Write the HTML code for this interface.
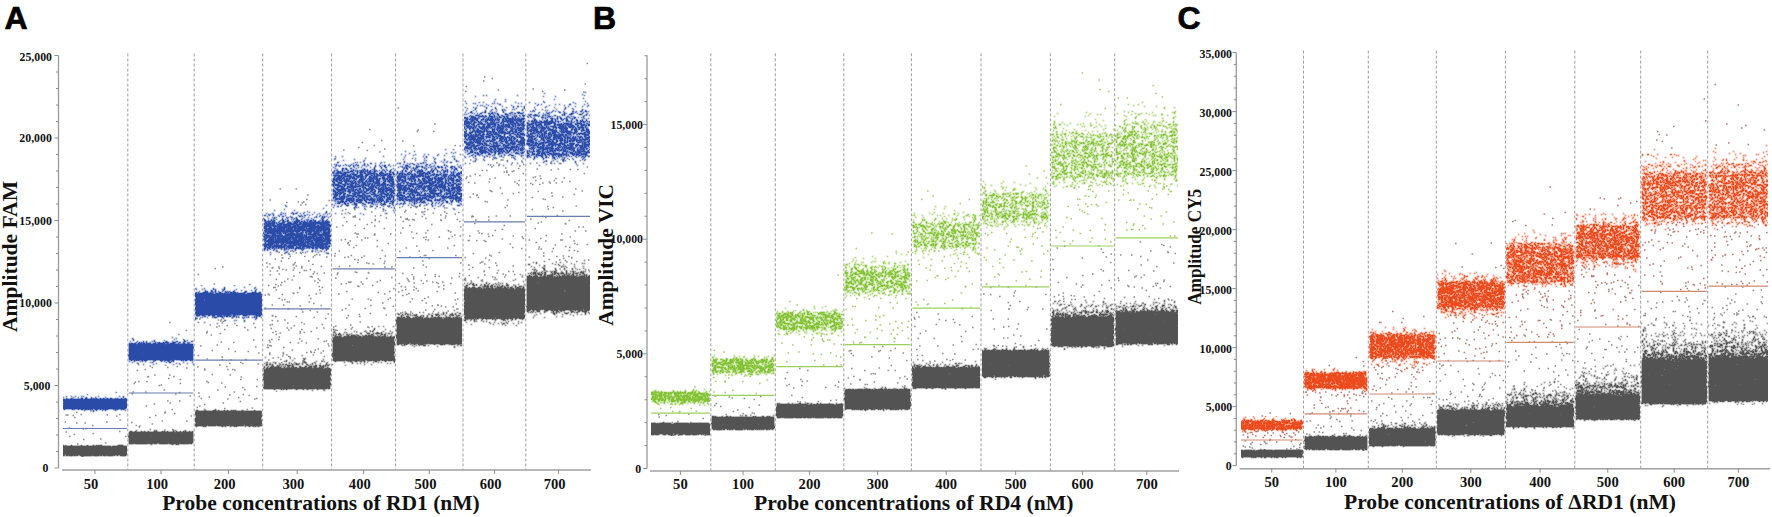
<!DOCTYPE html>
<html><head><meta charset="utf-8"><title>ddPCR amplitude plots</title>
<style>
html,body{margin:0;padding:0;background:#fff;width:1772px;height:517px;overflow:hidden}
svg{display:block}
.xl{font-family:"Liberation Serif",serif;font-weight:bold;font-size:14.6px;fill:#111}
.yl{font-family:"Liberation Serif",serif;font-weight:bold;font-size:11.8px;fill:#111}
.xt{font-family:"Liberation Serif",serif;font-weight:bold;font-size:21px;fill:#111}
.yt{font-family:"Liberation Serif",serif;font-weight:bold;font-size:21px;fill:#111}
.letter{font-family:"Liberation Sans",sans-serif;font-weight:bold;font-size:32px;fill:#000;stroke:#000;stroke-width:0.7px}
</style></head><body>
<svg width="1772" height="517" viewBox="0 0 1772 517"><defs><filter id="fG" x="0" y="0" width="1" height="1" color-interpolation-filters="sRGB"><feTurbulence type="fractalNoise" baseFrequency="0.9" numOctaves="1" seed="3" result="t"/><feColorMatrix in="t" type="matrix" values="0 0 0 0 0 0 0 0 0 0 0 0 0 0 0 1 0 0 0 0" result="n"/><feComponentTransfer in="n" result="n2"><feFuncA type="linear" slope="2.2" intercept="-0.6"/></feComponentTransfer><feComposite in="SourceAlpha" in2="n2" operator="arithmetic" k2="1.05" k3="-1" k4="0.49" result="d"/><feComponentTransfer in="d" result="m"><feFuncA type="discrete" tableValues="0 1"/></feComponentTransfer><feConvolveMatrix in="m" order="3" kernelMatrix="1 2 1 2 6 2 1 2 1" divisor="10" edgeMode="none" result="m2"/><feFlood flood-color="#535353"/><feComposite in2="m2" operator="in"/></filter>
<filter id="fA" x="0" y="0" width="1" height="1" color-interpolation-filters="sRGB"><feTurbulence type="fractalNoise" baseFrequency="0.9" numOctaves="1" seed="9" result="t"/><feColorMatrix in="t" type="matrix" values="0 0 0 0 0 0 0 0 0 0 0 0 0 0 0 1 0 0 0 0" result="n"/><feComponentTransfer in="n" result="n2"><feFuncA type="linear" slope="2.2" intercept="-0.6"/></feComponentTransfer><feComposite in="SourceAlpha" in2="n2" operator="arithmetic" k2="1.05" k3="-1" k4="0.49" result="d"/><feComponentTransfer in="d" result="m"><feFuncA type="discrete" tableValues="0 1"/></feComponentTransfer><feConvolveMatrix in="m" order="3" kernelMatrix="1 2 1 2 6 2 1 2 1" divisor="10" edgeMode="none" result="m2"/><feFlood flood-color="#2a4ca8"/><feComposite in2="m2" operator="in"/></filter>
<filter id="fB" x="0" y="0" width="1" height="1" color-interpolation-filters="sRGB"><feTurbulence type="fractalNoise" baseFrequency="0.9" numOctaves="1" seed="9" result="t"/><feColorMatrix in="t" type="matrix" values="0 0 0 0 0 0 0 0 0 0 0 0 0 0 0 1 0 0 0 0" result="n"/><feComponentTransfer in="n" result="n2"><feFuncA type="linear" slope="2.2" intercept="-0.6"/></feComponentTransfer><feComposite in="SourceAlpha" in2="n2" operator="arithmetic" k2="1.05" k3="-1" k4="0.49" result="d"/><feComponentTransfer in="d" result="m"><feFuncA type="discrete" tableValues="0 1"/></feComponentTransfer><feConvolveMatrix in="m" order="3" kernelMatrix="1 2 1 2 6 2 1 2 1" divisor="10" edgeMode="none" result="m2"/><feFlood flood-color="#82c232"/><feComposite in2="m2" operator="in"/></filter>
<filter id="fC" x="0" y="0" width="1" height="1" color-interpolation-filters="sRGB"><feTurbulence type="fractalNoise" baseFrequency="0.9" numOctaves="1" seed="9" result="t"/><feColorMatrix in="t" type="matrix" values="0 0 0 0 0 0 0 0 0 0 0 0 0 0 0 1 0 0 0 0" result="n"/><feComponentTransfer in="n" result="n2"><feFuncA type="linear" slope="2.2" intercept="-0.6"/></feComponentTransfer><feComposite in="SourceAlpha" in2="n2" operator="arithmetic" k2="1.05" k3="-1" k4="0.49" result="d"/><feComponentTransfer in="d" result="m"><feFuncA type="discrete" tableValues="0 1"/></feComponentTransfer><feConvolveMatrix in="m" order="3" kernelMatrix="1 2 1 2 6 2 1 2 1" divisor="10" edgeMode="none" result="m2"/><feFlood flood-color="#ea4a1c"/><feComposite in2="m2" operator="in"/></filter>
<linearGradient id="g1" x1="0" y1="0" x2="0" y2="1"><stop offset="0" stop-opacity="0.01"/><stop offset="0.03" stop-opacity="0.06"/><stop offset="0.05" stop-opacity="0.17"/><stop offset="0.07" stop-opacity="0.35"/><stop offset="0.1" stop-opacity="0.85"/><stop offset="0.12" stop-opacity="0.85"/><stop offset="0.15" stop-opacity="0.85"/><stop offset="0.17" stop-opacity="0.85"/><stop offset="0.2" stop-opacity="0.85"/><stop offset="0.23" stop-opacity="0.85"/><stop offset="0.25" stop-opacity="0.85"/><stop offset="0.28" stop-opacity="0.85"/><stop offset="0.3" stop-opacity="0.85"/><stop offset="0.33" stop-opacity="0.85"/><stop offset="0.35" stop-opacity="0.85"/><stop offset="0.38" stop-opacity="0.85"/><stop offset="0.4" stop-opacity="0.85"/><stop offset="0.42" stop-opacity="0.85"/><stop offset="0.45" stop-opacity="0.85"/><stop offset="0.47" stop-opacity="0.85"/><stop offset="0.5" stop-opacity="0.85"/><stop offset="0.53" stop-opacity="0.85"/><stop offset="0.55" stop-opacity="0.85"/><stop offset="0.57" stop-opacity="0.85"/><stop offset="0.6" stop-opacity="0.85"/><stop offset="0.62" stop-opacity="0.85"/><stop offset="0.65" stop-opacity="0.85"/><stop offset="0.68" stop-opacity="0.85"/><stop offset="0.7" stop-opacity="0.85"/><stop offset="0.72" stop-opacity="0.85"/><stop offset="0.75" stop-opacity="0.85"/><stop offset="0.78" stop-opacity="0.85"/><stop offset="0.8" stop-opacity="0.85"/><stop offset="0.82" stop-opacity="0.85"/><stop offset="0.85" stop-opacity="0.85"/><stop offset="0.88" stop-opacity="0.85"/><stop offset="0.9" stop-opacity="0.85"/><stop offset="0.93" stop-opacity="0.41"/><stop offset="0.95" stop-opacity="0.2"/><stop offset="0.97" stop-opacity="0.07"/><stop offset="1" stop-opacity="0.01"/></linearGradient>
<linearGradient id="g2" x1="0" y1="0" x2="0" y2="1"><stop offset="0" stop-opacity="0.01"/><stop offset="0.03" stop-opacity="0.03"/><stop offset="0.05" stop-opacity="0.05"/><stop offset="0.07" stop-opacity="0.07"/><stop offset="0.1" stop-opacity="0.11"/><stop offset="0.12" stop-opacity="0.15"/><stop offset="0.15" stop-opacity="0.19"/><stop offset="0.17" stop-opacity="0.24"/><stop offset="0.2" stop-opacity="0.29"/><stop offset="0.23" stop-opacity="0.35"/><stop offset="0.25" stop-opacity="0.41"/><stop offset="0.28" stop-opacity="0.5"/><stop offset="0.3" stop-opacity="0.85"/><stop offset="0.33" stop-opacity="0.85"/><stop offset="0.35" stop-opacity="0.85"/><stop offset="0.38" stop-opacity="0.85"/><stop offset="0.4" stop-opacity="0.85"/><stop offset="0.42" stop-opacity="0.85"/><stop offset="0.45" stop-opacity="0.85"/><stop offset="0.47" stop-opacity="0.85"/><stop offset="0.5" stop-opacity="0.85"/><stop offset="0.53" stop-opacity="0.85"/><stop offset="0.55" stop-opacity="0.85"/><stop offset="0.57" stop-opacity="0.85"/><stop offset="0.6" stop-opacity="0.85"/><stop offset="0.62" stop-opacity="0.85"/><stop offset="0.65" stop-opacity="0.85"/><stop offset="0.68" stop-opacity="0.85"/><stop offset="0.7" stop-opacity="0.85"/><stop offset="0.72" stop-opacity="0.85"/><stop offset="0.75" stop-opacity="0.85"/><stop offset="0.78" stop-opacity="0.85"/><stop offset="0.8" stop-opacity="0.85"/><stop offset="0.82" stop-opacity="0.85"/><stop offset="0.85" stop-opacity="0.43"/><stop offset="0.88" stop-opacity="0.32"/><stop offset="0.9" stop-opacity="0.21"/><stop offset="0.93" stop-opacity="0.15"/><stop offset="0.95" stop-opacity="0.08"/><stop offset="0.97" stop-opacity="0.04"/><stop offset="1" stop-opacity="0.01"/></linearGradient>
<linearGradient id="g3" x1="0" y1="0" x2="0" y2="1"><stop offset="0" stop-opacity="0.01"/><stop offset="0.03" stop-opacity="0.03"/><stop offset="0.05" stop-opacity="0.05"/><stop offset="0.07" stop-opacity="0.09"/><stop offset="0.1" stop-opacity="0.14"/><stop offset="0.12" stop-opacity="0.18"/><stop offset="0.15" stop-opacity="0.24"/><stop offset="0.17" stop-opacity="0.31"/><stop offset="0.2" stop-opacity="0.39"/><stop offset="0.23" stop-opacity="0.49"/><stop offset="0.25" stop-opacity="0.85"/><stop offset="0.28" stop-opacity="0.85"/><stop offset="0.3" stop-opacity="0.85"/><stop offset="0.33" stop-opacity="0.85"/><stop offset="0.35" stop-opacity="0.85"/><stop offset="0.38" stop-opacity="0.85"/><stop offset="0.4" stop-opacity="0.85"/><stop offset="0.42" stop-opacity="0.85"/><stop offset="0.45" stop-opacity="0.85"/><stop offset="0.47" stop-opacity="0.85"/><stop offset="0.5" stop-opacity="0.85"/><stop offset="0.53" stop-opacity="0.85"/><stop offset="0.55" stop-opacity="0.85"/><stop offset="0.57" stop-opacity="0.85"/><stop offset="0.6" stop-opacity="0.85"/><stop offset="0.62" stop-opacity="0.85"/><stop offset="0.65" stop-opacity="0.85"/><stop offset="0.68" stop-opacity="0.85"/><stop offset="0.7" stop-opacity="0.85"/><stop offset="0.72" stop-opacity="0.85"/><stop offset="0.75" stop-opacity="0.85"/><stop offset="0.78" stop-opacity="0.85"/><stop offset="0.8" stop-opacity="0.85"/><stop offset="0.82" stop-opacity="0.85"/><stop offset="0.85" stop-opacity="0.85"/><stop offset="0.88" stop-opacity="0.85"/><stop offset="0.9" stop-opacity="0.85"/><stop offset="0.93" stop-opacity="0.47"/><stop offset="0.95" stop-opacity="0.21"/><stop offset="0.97" stop-opacity="0.08"/><stop offset="1" stop-opacity="0.01"/></linearGradient>
<linearGradient id="g4" x1="0" y1="0" x2="0" y2="1"><stop offset="0" stop-opacity="0.01"/><stop offset="0.03" stop-opacity="0.03"/><stop offset="0.05" stop-opacity="0.05"/><stop offset="0.07" stop-opacity="0.08"/><stop offset="0.1" stop-opacity="0.11"/><stop offset="0.12" stop-opacity="0.16"/><stop offset="0.15" stop-opacity="0.2"/><stop offset="0.17" stop-opacity="0.26"/><stop offset="0.2" stop-opacity="0.32"/><stop offset="0.23" stop-opacity="0.38"/><stop offset="0.25" stop-opacity="0.46"/><stop offset="0.28" stop-opacity="0.63"/><stop offset="0.3" stop-opacity="0.85"/><stop offset="0.33" stop-opacity="0.85"/><stop offset="0.35" stop-opacity="0.85"/><stop offset="0.38" stop-opacity="0.85"/><stop offset="0.4" stop-opacity="0.85"/><stop offset="0.42" stop-opacity="0.85"/><stop offset="0.45" stop-opacity="0.85"/><stop offset="0.47" stop-opacity="0.85"/><stop offset="0.5" stop-opacity="0.85"/><stop offset="0.53" stop-opacity="0.85"/><stop offset="0.55" stop-opacity="0.85"/><stop offset="0.57" stop-opacity="0.85"/><stop offset="0.6" stop-opacity="0.85"/><stop offset="0.62" stop-opacity="0.85"/><stop offset="0.65" stop-opacity="0.85"/><stop offset="0.68" stop-opacity="0.85"/><stop offset="0.7" stop-opacity="0.85"/><stop offset="0.72" stop-opacity="0.85"/><stop offset="0.75" stop-opacity="0.85"/><stop offset="0.78" stop-opacity="0.85"/><stop offset="0.8" stop-opacity="0.85"/><stop offset="0.82" stop-opacity="0.44"/><stop offset="0.85" stop-opacity="0.34"/><stop offset="0.88" stop-opacity="0.26"/><stop offset="0.9" stop-opacity="0.18"/><stop offset="0.93" stop-opacity="0.12"/><stop offset="0.95" stop-opacity="0.07"/><stop offset="0.97" stop-opacity="0.04"/><stop offset="1" stop-opacity="0.01"/></linearGradient>
<linearGradient id="g5" x1="0" y1="0" x2="0" y2="1"><stop offset="0" stop-opacity="0.01"/><stop offset="0.03" stop-opacity="0.04"/><stop offset="0.05" stop-opacity="0.1"/><stop offset="0.07" stop-opacity="0.18"/><stop offset="0.1" stop-opacity="0.28"/><stop offset="0.12" stop-opacity="0.42"/><stop offset="0.15" stop-opacity="0.85"/><stop offset="0.17" stop-opacity="0.85"/><stop offset="0.2" stop-opacity="0.85"/><stop offset="0.23" stop-opacity="0.85"/><stop offset="0.25" stop-opacity="0.85"/><stop offset="0.28" stop-opacity="0.85"/><stop offset="0.3" stop-opacity="0.85"/><stop offset="0.33" stop-opacity="0.85"/><stop offset="0.35" stop-opacity="0.85"/><stop offset="0.38" stop-opacity="0.85"/><stop offset="0.4" stop-opacity="0.85"/><stop offset="0.42" stop-opacity="0.85"/><stop offset="0.45" stop-opacity="0.85"/><stop offset="0.47" stop-opacity="0.85"/><stop offset="0.5" stop-opacity="0.85"/><stop offset="0.53" stop-opacity="0.85"/><stop offset="0.55" stop-opacity="0.85"/><stop offset="0.57" stop-opacity="0.85"/><stop offset="0.6" stop-opacity="0.85"/><stop offset="0.62" stop-opacity="0.85"/><stop offset="0.65" stop-opacity="0.85"/><stop offset="0.68" stop-opacity="0.85"/><stop offset="0.7" stop-opacity="0.85"/><stop offset="0.72" stop-opacity="0.85"/><stop offset="0.75" stop-opacity="0.85"/><stop offset="0.78" stop-opacity="0.85"/><stop offset="0.8" stop-opacity="0.85"/><stop offset="0.82" stop-opacity="0.85"/><stop offset="0.85" stop-opacity="0.85"/><stop offset="0.88" stop-opacity="0.85"/><stop offset="0.9" stop-opacity="0.85"/><stop offset="0.93" stop-opacity="0.46"/><stop offset="0.95" stop-opacity="0.21"/><stop offset="0.97" stop-opacity="0.08"/><stop offset="1" stop-opacity="0.01"/></linearGradient>
<linearGradient id="g6" x1="0" y1="0" x2="0" y2="1"><stop offset="0" stop-opacity="0.01"/><stop offset="0.03" stop-opacity="0.03"/><stop offset="0.05" stop-opacity="0.06"/><stop offset="0.07" stop-opacity="0.1"/><stop offset="0.1" stop-opacity="0.16"/><stop offset="0.12" stop-opacity="0.21"/><stop offset="0.15" stop-opacity="0.29"/><stop offset="0.17" stop-opacity="0.37"/><stop offset="0.2" stop-opacity="0.48"/><stop offset="0.23" stop-opacity="0.85"/><stop offset="0.25" stop-opacity="0.85"/><stop offset="0.28" stop-opacity="0.85"/><stop offset="0.3" stop-opacity="0.85"/><stop offset="0.33" stop-opacity="0.85"/><stop offset="0.35" stop-opacity="0.85"/><stop offset="0.38" stop-opacity="0.85"/><stop offset="0.4" stop-opacity="0.85"/><stop offset="0.42" stop-opacity="0.85"/><stop offset="0.45" stop-opacity="0.85"/><stop offset="0.47" stop-opacity="0.85"/><stop offset="0.5" stop-opacity="0.85"/><stop offset="0.53" stop-opacity="0.85"/><stop offset="0.55" stop-opacity="0.85"/><stop offset="0.57" stop-opacity="0.85"/><stop offset="0.6" stop-opacity="0.85"/><stop offset="0.62" stop-opacity="0.85"/><stop offset="0.65" stop-opacity="0.85"/><stop offset="0.68" stop-opacity="0.85"/><stop offset="0.7" stop-opacity="0.85"/><stop offset="0.72" stop-opacity="0.85"/><stop offset="0.75" stop-opacity="0.85"/><stop offset="0.78" stop-opacity="0.45"/><stop offset="0.8" stop-opacity="0.37"/><stop offset="0.82" stop-opacity="0.3"/><stop offset="0.85" stop-opacity="0.24"/><stop offset="0.88" stop-opacity="0.18"/><stop offset="0.9" stop-opacity="0.14"/><stop offset="0.93" stop-opacity="0.09"/><stop offset="0.95" stop-opacity="0.05"/><stop offset="0.97" stop-opacity="0.03"/><stop offset="1" stop-opacity="0.01"/></linearGradient>
<linearGradient id="g7" x1="0" y1="0" x2="0" y2="1"><stop offset="0" stop-opacity="0.01"/><stop offset="0.03" stop-opacity="0.02"/><stop offset="0.05" stop-opacity="0.04"/><stop offset="0.07" stop-opacity="0.06"/><stop offset="0.1" stop-opacity="0.09"/><stop offset="0.12" stop-opacity="0.11"/><stop offset="0.15" stop-opacity="0.15"/><stop offset="0.17" stop-opacity="0.18"/><stop offset="0.2" stop-opacity="0.22"/><stop offset="0.23" stop-opacity="0.27"/><stop offset="0.25" stop-opacity="0.31"/><stop offset="0.28" stop-opacity="0.36"/><stop offset="0.3" stop-opacity="0.41"/><stop offset="0.33" stop-opacity="0.47"/><stop offset="0.35" stop-opacity="0.57"/><stop offset="0.38" stop-opacity="0.85"/><stop offset="0.4" stop-opacity="0.85"/><stop offset="0.42" stop-opacity="0.85"/><stop offset="0.45" stop-opacity="0.85"/><stop offset="0.47" stop-opacity="0.85"/><stop offset="0.5" stop-opacity="0.85"/><stop offset="0.53" stop-opacity="0.85"/><stop offset="0.55" stop-opacity="0.85"/><stop offset="0.57" stop-opacity="0.85"/><stop offset="0.6" stop-opacity="0.85"/><stop offset="0.62" stop-opacity="0.85"/><stop offset="0.65" stop-opacity="0.85"/><stop offset="0.68" stop-opacity="0.85"/><stop offset="0.7" stop-opacity="0.85"/><stop offset="0.72" stop-opacity="0.85"/><stop offset="0.75" stop-opacity="0.85"/><stop offset="0.78" stop-opacity="0.85"/><stop offset="0.8" stop-opacity="0.85"/><stop offset="0.82" stop-opacity="0.85"/><stop offset="0.85" stop-opacity="0.85"/><stop offset="0.88" stop-opacity="0.85"/><stop offset="0.9" stop-opacity="0.85"/><stop offset="0.93" stop-opacity="0.37"/><stop offset="0.95" stop-opacity="0.18"/><stop offset="0.97" stop-opacity="0.07"/><stop offset="1" stop-opacity="0.01"/></linearGradient>
<linearGradient id="g8" x1="0" y1="0" x2="0" y2="1"><stop offset="0" stop-opacity="0.01"/><stop offset="0.03" stop-opacity="0.02"/><stop offset="0.05" stop-opacity="0.04"/><stop offset="0.07" stop-opacity="0.06"/><stop offset="0.1" stop-opacity="0.09"/><stop offset="0.12" stop-opacity="0.12"/><stop offset="0.15" stop-opacity="0.15"/><stop offset="0.17" stop-opacity="0.19"/><stop offset="0.2" stop-opacity="0.23"/><stop offset="0.23" stop-opacity="0.28"/><stop offset="0.25" stop-opacity="0.32"/><stop offset="0.28" stop-opacity="0.37"/><stop offset="0.3" stop-opacity="0.42"/><stop offset="0.33" stop-opacity="0.48"/><stop offset="0.35" stop-opacity="0.59"/><stop offset="0.38" stop-opacity="0.59"/><stop offset="0.4" stop-opacity="0.59"/><stop offset="0.42" stop-opacity="0.59"/><stop offset="0.45" stop-opacity="0.59"/><stop offset="0.47" stop-opacity="0.59"/><stop offset="0.5" stop-opacity="0.59"/><stop offset="0.53" stop-opacity="0.59"/><stop offset="0.55" stop-opacity="0.59"/><stop offset="0.57" stop-opacity="0.59"/><stop offset="0.6" stop-opacity="0.59"/><stop offset="0.62" stop-opacity="0.59"/><stop offset="0.65" stop-opacity="0.59"/><stop offset="0.68" stop-opacity="0.59"/><stop offset="0.7" stop-opacity="0.59"/><stop offset="0.72" stop-opacity="0.59"/><stop offset="0.75" stop-opacity="0.59"/><stop offset="0.78" stop-opacity="0.59"/><stop offset="0.8" stop-opacity="0.59"/><stop offset="0.82" stop-opacity="0.54"/><stop offset="0.85" stop-opacity="0.39"/><stop offset="0.88" stop-opacity="0.29"/><stop offset="0.9" stop-opacity="0.2"/><stop offset="0.93" stop-opacity="0.13"/><stop offset="0.95" stop-opacity="0.07"/><stop offset="0.97" stop-opacity="0.04"/><stop offset="1" stop-opacity="0.01"/></linearGradient>
<linearGradient id="g9" x1="0" y1="0" x2="0" y2="1"><stop offset="0" stop-opacity="0.01"/><stop offset="0.03" stop-opacity="0.03"/><stop offset="0.05" stop-opacity="0.05"/><stop offset="0.07" stop-opacity="0.08"/><stop offset="0.1" stop-opacity="0.11"/><stop offset="0.12" stop-opacity="0.15"/><stop offset="0.15" stop-opacity="0.2"/><stop offset="0.17" stop-opacity="0.25"/><stop offset="0.2" stop-opacity="0.31"/><stop offset="0.23" stop-opacity="0.37"/><stop offset="0.25" stop-opacity="0.43"/><stop offset="0.28" stop-opacity="0.56"/><stop offset="0.3" stop-opacity="0.85"/><stop offset="0.33" stop-opacity="0.85"/><stop offset="0.35" stop-opacity="0.85"/><stop offset="0.38" stop-opacity="0.85"/><stop offset="0.4" stop-opacity="0.85"/><stop offset="0.42" stop-opacity="0.85"/><stop offset="0.45" stop-opacity="0.85"/><stop offset="0.47" stop-opacity="0.85"/><stop offset="0.5" stop-opacity="0.85"/><stop offset="0.53" stop-opacity="0.85"/><stop offset="0.55" stop-opacity="0.85"/><stop offset="0.57" stop-opacity="0.85"/><stop offset="0.6" stop-opacity="0.85"/><stop offset="0.62" stop-opacity="0.85"/><stop offset="0.65" stop-opacity="0.85"/><stop offset="0.68" stop-opacity="0.85"/><stop offset="0.7" stop-opacity="0.85"/><stop offset="0.72" stop-opacity="0.85"/><stop offset="0.75" stop-opacity="0.85"/><stop offset="0.78" stop-opacity="0.85"/><stop offset="0.8" stop-opacity="0.85"/><stop offset="0.82" stop-opacity="0.85"/><stop offset="0.85" stop-opacity="0.85"/><stop offset="0.88" stop-opacity="0.39"/><stop offset="0.9" stop-opacity="0.27"/><stop offset="0.93" stop-opacity="0.17"/><stop offset="0.95" stop-opacity="0.09"/><stop offset="0.97" stop-opacity="0.04"/><stop offset="1" stop-opacity="0.01"/></linearGradient>
<linearGradient id="g10" x1="0" y1="0" x2="0" y2="1"><stop offset="0" stop-opacity="0.01"/><stop offset="0.03" stop-opacity="0.02"/><stop offset="0.05" stop-opacity="0.04"/><stop offset="0.07" stop-opacity="0.06"/><stop offset="0.1" stop-opacity="0.1"/><stop offset="0.12" stop-opacity="0.14"/><stop offset="0.15" stop-opacity="0.18"/><stop offset="0.17" stop-opacity="0.22"/><stop offset="0.2" stop-opacity="0.28"/><stop offset="0.23" stop-opacity="0.34"/><stop offset="0.25" stop-opacity="0.39"/><stop offset="0.28" stop-opacity="0.46"/><stop offset="0.3" stop-opacity="0.49"/><stop offset="0.33" stop-opacity="0.49"/><stop offset="0.35" stop-opacity="0.49"/><stop offset="0.38" stop-opacity="0.49"/><stop offset="0.4" stop-opacity="0.49"/><stop offset="0.42" stop-opacity="0.49"/><stop offset="0.45" stop-opacity="0.49"/><stop offset="0.47" stop-opacity="0.49"/><stop offset="0.5" stop-opacity="0.49"/><stop offset="0.53" stop-opacity="0.49"/><stop offset="0.55" stop-opacity="0.49"/><stop offset="0.57" stop-opacity="0.49"/><stop offset="0.6" stop-opacity="0.49"/><stop offset="0.62" stop-opacity="0.49"/><stop offset="0.65" stop-opacity="0.49"/><stop offset="0.68" stop-opacity="0.49"/><stop offset="0.7" stop-opacity="0.49"/><stop offset="0.72" stop-opacity="0.49"/><stop offset="0.75" stop-opacity="0.49"/><stop offset="0.78" stop-opacity="0.46"/><stop offset="0.8" stop-opacity="0.38"/><stop offset="0.82" stop-opacity="0.3"/><stop offset="0.85" stop-opacity="0.24"/><stop offset="0.88" stop-opacity="0.18"/><stop offset="0.9" stop-opacity="0.13"/><stop offset="0.93" stop-opacity="0.08"/><stop offset="0.95" stop-opacity="0.05"/><stop offset="0.97" stop-opacity="0.02"/><stop offset="1" stop-opacity="0.01"/></linearGradient>
<linearGradient id="g11" x1="0" y1="0" x2="0" y2="1"><stop offset="0" stop-opacity="0.01"/><stop offset="0.03" stop-opacity="0.03"/><stop offset="0.05" stop-opacity="0.05"/><stop offset="0.07" stop-opacity="0.08"/><stop offset="0.1" stop-opacity="0.11"/><stop offset="0.12" stop-opacity="0.16"/><stop offset="0.15" stop-opacity="0.2"/><stop offset="0.17" stop-opacity="0.26"/><stop offset="0.2" stop-opacity="0.32"/><stop offset="0.23" stop-opacity="0.38"/><stop offset="0.25" stop-opacity="0.46"/><stop offset="0.28" stop-opacity="0.66"/><stop offset="0.3" stop-opacity="0.85"/><stop offset="0.33" stop-opacity="0.85"/><stop offset="0.35" stop-opacity="0.85"/><stop offset="0.38" stop-opacity="0.85"/><stop offset="0.4" stop-opacity="0.85"/><stop offset="0.42" stop-opacity="0.85"/><stop offset="0.45" stop-opacity="0.85"/><stop offset="0.47" stop-opacity="0.85"/><stop offset="0.5" stop-opacity="0.85"/><stop offset="0.53" stop-opacity="0.85"/><stop offset="0.55" stop-opacity="0.85"/><stop offset="0.57" stop-opacity="0.85"/><stop offset="0.6" stop-opacity="0.85"/><stop offset="0.62" stop-opacity="0.85"/><stop offset="0.65" stop-opacity="0.85"/><stop offset="0.68" stop-opacity="0.85"/><stop offset="0.7" stop-opacity="0.85"/><stop offset="0.72" stop-opacity="0.85"/><stop offset="0.75" stop-opacity="0.85"/><stop offset="0.78" stop-opacity="0.85"/><stop offset="0.8" stop-opacity="0.85"/><stop offset="0.82" stop-opacity="0.85"/><stop offset="0.85" stop-opacity="0.85"/><stop offset="0.88" stop-opacity="0.85"/><stop offset="0.9" stop-opacity="0.38"/><stop offset="0.93" stop-opacity="0.23"/><stop offset="0.95" stop-opacity="0.13"/><stop offset="0.97" stop-opacity="0.05"/><stop offset="1" stop-opacity="0.01"/></linearGradient>
<linearGradient id="g12" x1="0" y1="0" x2="0" y2="1"><stop offset="0" stop-opacity="0.01"/><stop offset="0.03" stop-opacity="0.02"/><stop offset="0.05" stop-opacity="0.03"/><stop offset="0.07" stop-opacity="0.05"/><stop offset="0.1" stop-opacity="0.07"/><stop offset="0.12" stop-opacity="0.09"/><stop offset="0.15" stop-opacity="0.12"/><stop offset="0.17" stop-opacity="0.15"/><stop offset="0.2" stop-opacity="0.18"/><stop offset="0.23" stop-opacity="0.21"/><stop offset="0.25" stop-opacity="0.26"/><stop offset="0.28" stop-opacity="0.29"/><stop offset="0.3" stop-opacity="0.34"/><stop offset="0.33" stop-opacity="0.37"/><stop offset="0.35" stop-opacity="0.41"/><stop offset="0.38" stop-opacity="0.45"/><stop offset="0.4" stop-opacity="0.49"/><stop offset="0.42" stop-opacity="0.49"/><stop offset="0.45" stop-opacity="0.49"/><stop offset="0.47" stop-opacity="0.49"/><stop offset="0.5" stop-opacity="0.49"/><stop offset="0.53" stop-opacity="0.49"/><stop offset="0.55" stop-opacity="0.49"/><stop offset="0.57" stop-opacity="0.49"/><stop offset="0.6" stop-opacity="0.49"/><stop offset="0.62" stop-opacity="0.49"/><stop offset="0.65" stop-opacity="0.49"/><stop offset="0.68" stop-opacity="0.49"/><stop offset="0.7" stop-opacity="0.49"/><stop offset="0.72" stop-opacity="0.49"/><stop offset="0.75" stop-opacity="0.49"/><stop offset="0.78" stop-opacity="0.49"/><stop offset="0.8" stop-opacity="0.49"/><stop offset="0.82" stop-opacity="0.4"/><stop offset="0.85" stop-opacity="0.31"/><stop offset="0.88" stop-opacity="0.23"/><stop offset="0.9" stop-opacity="0.16"/><stop offset="0.93" stop-opacity="0.1"/><stop offset="0.95" stop-opacity="0.06"/><stop offset="0.97" stop-opacity="0.03"/><stop offset="1" stop-opacity="0.01"/></linearGradient>
<linearGradient id="g13" x1="0" y1="0" x2="0" y2="1"><stop offset="0" stop-opacity="0.01"/><stop offset="0.03" stop-opacity="0.03"/><stop offset="0.05" stop-opacity="0.05"/><stop offset="0.07" stop-opacity="0.08"/><stop offset="0.1" stop-opacity="0.11"/><stop offset="0.12" stop-opacity="0.16"/><stop offset="0.15" stop-opacity="0.2"/><stop offset="0.17" stop-opacity="0.26"/><stop offset="0.2" stop-opacity="0.32"/><stop offset="0.23" stop-opacity="0.38"/><stop offset="0.25" stop-opacity="0.45"/><stop offset="0.28" stop-opacity="0.62"/><stop offset="0.3" stop-opacity="0.85"/><stop offset="0.33" stop-opacity="0.85"/><stop offset="0.35" stop-opacity="0.85"/><stop offset="0.38" stop-opacity="0.85"/><stop offset="0.4" stop-opacity="0.85"/><stop offset="0.42" stop-opacity="0.85"/><stop offset="0.45" stop-opacity="0.85"/><stop offset="0.47" stop-opacity="0.85"/><stop offset="0.5" stop-opacity="0.85"/><stop offset="0.53" stop-opacity="0.85"/><stop offset="0.55" stop-opacity="0.85"/><stop offset="0.57" stop-opacity="0.85"/><stop offset="0.6" stop-opacity="0.85"/><stop offset="0.62" stop-opacity="0.85"/><stop offset="0.65" stop-opacity="0.85"/><stop offset="0.68" stop-opacity="0.85"/><stop offset="0.7" stop-opacity="0.85"/><stop offset="0.72" stop-opacity="0.85"/><stop offset="0.75" stop-opacity="0.85"/><stop offset="0.78" stop-opacity="0.85"/><stop offset="0.8" stop-opacity="0.85"/><stop offset="0.82" stop-opacity="0.73"/><stop offset="0.85" stop-opacity="0.41"/><stop offset="0.88" stop-opacity="0.3"/><stop offset="0.9" stop-opacity="0.2"/><stop offset="0.93" stop-opacity="0.14"/><stop offset="0.95" stop-opacity="0.08"/><stop offset="0.97" stop-opacity="0.04"/><stop offset="1" stop-opacity="0.01"/></linearGradient>
<linearGradient id="g14" x1="0" y1="0" x2="0" y2="1"><stop offset="0" stop-opacity="0.01"/><stop offset="0.03" stop-opacity="0.02"/><stop offset="0.05" stop-opacity="0.03"/><stop offset="0.07" stop-opacity="0.05"/><stop offset="0.1" stop-opacity="0.08"/><stop offset="0.12" stop-opacity="0.11"/><stop offset="0.15" stop-opacity="0.14"/><stop offset="0.17" stop-opacity="0.17"/><stop offset="0.2" stop-opacity="0.21"/><stop offset="0.23" stop-opacity="0.26"/><stop offset="0.25" stop-opacity="0.3"/><stop offset="0.28" stop-opacity="0.35"/><stop offset="0.3" stop-opacity="0.39"/><stop offset="0.33" stop-opacity="0.44"/><stop offset="0.35" stop-opacity="0.49"/><stop offset="0.38" stop-opacity="0.49"/><stop offset="0.4" stop-opacity="0.49"/><stop offset="0.42" stop-opacity="0.49"/><stop offset="0.45" stop-opacity="0.49"/><stop offset="0.47" stop-opacity="0.49"/><stop offset="0.5" stop-opacity="0.49"/><stop offset="0.53" stop-opacity="0.49"/><stop offset="0.55" stop-opacity="0.49"/><stop offset="0.57" stop-opacity="0.49"/><stop offset="0.6" stop-opacity="0.49"/><stop offset="0.62" stop-opacity="0.49"/><stop offset="0.65" stop-opacity="0.49"/><stop offset="0.68" stop-opacity="0.49"/><stop offset="0.7" stop-opacity="0.49"/><stop offset="0.72" stop-opacity="0.49"/><stop offset="0.75" stop-opacity="0.49"/><stop offset="0.78" stop-opacity="0.49"/><stop offset="0.8" stop-opacity="0.49"/><stop offset="0.82" stop-opacity="0.4"/><stop offset="0.85" stop-opacity="0.31"/><stop offset="0.88" stop-opacity="0.23"/><stop offset="0.9" stop-opacity="0.16"/><stop offset="0.93" stop-opacity="0.1"/><stop offset="0.95" stop-opacity="0.06"/><stop offset="0.97" stop-opacity="0.03"/><stop offset="1" stop-opacity="0.01"/></linearGradient>
<linearGradient id="g15" x1="0" y1="0" x2="0" y2="1"><stop offset="0" stop-opacity="0.01"/><stop offset="0.03" stop-opacity="0.03"/><stop offset="0.05" stop-opacity="0.05"/><stop offset="0.07" stop-opacity="0.07"/><stop offset="0.1" stop-opacity="0.1"/><stop offset="0.12" stop-opacity="0.14"/><stop offset="0.15" stop-opacity="0.18"/><stop offset="0.17" stop-opacity="0.22"/><stop offset="0.2" stop-opacity="0.28"/><stop offset="0.23" stop-opacity="0.34"/><stop offset="0.25" stop-opacity="0.39"/><stop offset="0.28" stop-opacity="0.46"/><stop offset="0.3" stop-opacity="0.59"/><stop offset="0.33" stop-opacity="0.85"/><stop offset="0.35" stop-opacity="0.85"/><stop offset="0.38" stop-opacity="0.85"/><stop offset="0.4" stop-opacity="0.85"/><stop offset="0.42" stop-opacity="0.85"/><stop offset="0.45" stop-opacity="0.85"/><stop offset="0.47" stop-opacity="0.85"/><stop offset="0.5" stop-opacity="0.85"/><stop offset="0.53" stop-opacity="0.85"/><stop offset="0.55" stop-opacity="0.85"/><stop offset="0.57" stop-opacity="0.85"/><stop offset="0.6" stop-opacity="0.85"/><stop offset="0.62" stop-opacity="0.85"/><stop offset="0.65" stop-opacity="0.85"/><stop offset="0.68" stop-opacity="0.85"/><stop offset="0.7" stop-opacity="0.85"/><stop offset="0.72" stop-opacity="0.85"/><stop offset="0.75" stop-opacity="0.85"/><stop offset="0.78" stop-opacity="0.85"/><stop offset="0.8" stop-opacity="0.85"/><stop offset="0.82" stop-opacity="0.85"/><stop offset="0.85" stop-opacity="0.44"/><stop offset="0.88" stop-opacity="0.33"/><stop offset="0.9" stop-opacity="0.22"/><stop offset="0.93" stop-opacity="0.15"/><stop offset="0.95" stop-opacity="0.09"/><stop offset="0.97" stop-opacity="0.04"/><stop offset="1" stop-opacity="0.01"/></linearGradient>
<linearGradient id="g16" x1="0" y1="0" x2="0" y2="1"><stop offset="0" stop-opacity="0.01"/><stop offset="0.03" stop-opacity="0.02"/><stop offset="0.05" stop-opacity="0.03"/><stop offset="0.07" stop-opacity="0.04"/><stop offset="0.1" stop-opacity="0.06"/><stop offset="0.12" stop-opacity="0.09"/><stop offset="0.15" stop-opacity="0.11"/><stop offset="0.17" stop-opacity="0.14"/><stop offset="0.2" stop-opacity="0.17"/><stop offset="0.23" stop-opacity="0.2"/><stop offset="0.25" stop-opacity="0.23"/><stop offset="0.28" stop-opacity="0.27"/><stop offset="0.3" stop-opacity="0.3"/><stop offset="0.33" stop-opacity="0.34"/><stop offset="0.35" stop-opacity="0.37"/><stop offset="0.38" stop-opacity="0.41"/><stop offset="0.4" stop-opacity="0.44"/><stop offset="0.42" stop-opacity="0.49"/><stop offset="0.45" stop-opacity="0.49"/><stop offset="0.47" stop-opacity="0.49"/><stop offset="0.5" stop-opacity="0.49"/><stop offset="0.53" stop-opacity="0.49"/><stop offset="0.55" stop-opacity="0.49"/><stop offset="0.57" stop-opacity="0.49"/><stop offset="0.6" stop-opacity="0.49"/><stop offset="0.62" stop-opacity="0.49"/><stop offset="0.65" stop-opacity="0.49"/><stop offset="0.68" stop-opacity="0.49"/><stop offset="0.7" stop-opacity="0.49"/><stop offset="0.72" stop-opacity="0.49"/><stop offset="0.75" stop-opacity="0.49"/><stop offset="0.78" stop-opacity="0.49"/><stop offset="0.8" stop-opacity="0.49"/><stop offset="0.82" stop-opacity="0.49"/><stop offset="0.85" stop-opacity="0.39"/><stop offset="0.88" stop-opacity="0.29"/><stop offset="0.9" stop-opacity="0.2"/><stop offset="0.93" stop-opacity="0.13"/><stop offset="0.95" stop-opacity="0.07"/><stop offset="0.97" stop-opacity="0.03"/><stop offset="1" stop-opacity="0.01"/></linearGradient>
<linearGradient id="g17" x1="0" y1="0" x2="0" y2="1"><stop offset="0" stop-opacity="0.01"/><stop offset="0.03" stop-opacity="0.05"/><stop offset="0.05" stop-opacity="0.14"/><stop offset="0.07" stop-opacity="0.27"/><stop offset="0.1" stop-opacity="0.48"/><stop offset="0.12" stop-opacity="0.85"/><stop offset="0.15" stop-opacity="0.85"/><stop offset="0.17" stop-opacity="0.85"/><stop offset="0.2" stop-opacity="0.85"/><stop offset="0.23" stop-opacity="0.85"/><stop offset="0.25" stop-opacity="0.85"/><stop offset="0.28" stop-opacity="0.85"/><stop offset="0.3" stop-opacity="0.85"/><stop offset="0.33" stop-opacity="0.85"/><stop offset="0.35" stop-opacity="0.85"/><stop offset="0.38" stop-opacity="0.85"/><stop offset="0.4" stop-opacity="0.85"/><stop offset="0.42" stop-opacity="0.85"/><stop offset="0.45" stop-opacity="0.85"/><stop offset="0.47" stop-opacity="0.85"/><stop offset="0.5" stop-opacity="0.85"/><stop offset="0.53" stop-opacity="0.85"/><stop offset="0.55" stop-opacity="0.85"/><stop offset="0.57" stop-opacity="0.85"/><stop offset="0.6" stop-opacity="0.85"/><stop offset="0.62" stop-opacity="0.85"/><stop offset="0.65" stop-opacity="0.85"/><stop offset="0.68" stop-opacity="0.85"/><stop offset="0.7" stop-opacity="0.85"/><stop offset="0.72" stop-opacity="0.85"/><stop offset="0.75" stop-opacity="0.85"/><stop offset="0.78" stop-opacity="0.85"/><stop offset="0.8" stop-opacity="0.85"/><stop offset="0.82" stop-opacity="0.85"/><stop offset="0.85" stop-opacity="0.85"/><stop offset="0.88" stop-opacity="0.85"/><stop offset="0.9" stop-opacity="0.48"/><stop offset="0.93" stop-opacity="0.27"/><stop offset="0.95" stop-opacity="0.14"/><stop offset="0.97" stop-opacity="0.05"/><stop offset="1" stop-opacity="0.01"/></linearGradient>
<linearGradient id="g18" x1="0" y1="0" x2="0" y2="1"><stop offset="0" stop-opacity="0.01"/><stop offset="0.03" stop-opacity="0.03"/><stop offset="0.05" stop-opacity="0.05"/><stop offset="0.07" stop-opacity="0.09"/><stop offset="0.1" stop-opacity="0.14"/><stop offset="0.12" stop-opacity="0.19"/><stop offset="0.15" stop-opacity="0.25"/><stop offset="0.17" stop-opacity="0.32"/><stop offset="0.2" stop-opacity="0.4"/><stop offset="0.23" stop-opacity="0.51"/><stop offset="0.25" stop-opacity="0.51"/><stop offset="0.28" stop-opacity="0.51"/><stop offset="0.3" stop-opacity="0.51"/><stop offset="0.33" stop-opacity="0.51"/><stop offset="0.35" stop-opacity="0.51"/><stop offset="0.38" stop-opacity="0.51"/><stop offset="0.4" stop-opacity="0.51"/><stop offset="0.42" stop-opacity="0.51"/><stop offset="0.45" stop-opacity="0.51"/><stop offset="0.47" stop-opacity="0.51"/><stop offset="0.5" stop-opacity="0.51"/><stop offset="0.53" stop-opacity="0.51"/><stop offset="0.55" stop-opacity="0.51"/><stop offset="0.57" stop-opacity="0.51"/><stop offset="0.6" stop-opacity="0.51"/><stop offset="0.62" stop-opacity="0.51"/><stop offset="0.65" stop-opacity="0.51"/><stop offset="0.68" stop-opacity="0.51"/><stop offset="0.7" stop-opacity="0.51"/><stop offset="0.72" stop-opacity="0.51"/><stop offset="0.75" stop-opacity="0.51"/><stop offset="0.78" stop-opacity="0.43"/><stop offset="0.8" stop-opacity="0.35"/><stop offset="0.82" stop-opacity="0.29"/><stop offset="0.85" stop-opacity="0.22"/><stop offset="0.88" stop-opacity="0.17"/><stop offset="0.9" stop-opacity="0.12"/><stop offset="0.93" stop-opacity="0.08"/><stop offset="0.95" stop-opacity="0.05"/><stop offset="0.97" stop-opacity="0.02"/><stop offset="1" stop-opacity="0.01"/></linearGradient>
<linearGradient id="g19" x1="0" y1="0" x2="0" y2="1"><stop offset="0" stop-opacity="0.01"/><stop offset="0.03" stop-opacity="0.04"/><stop offset="0.05" stop-opacity="0.09"/><stop offset="0.07" stop-opacity="0.17"/><stop offset="0.1" stop-opacity="0.27"/><stop offset="0.12" stop-opacity="0.4"/><stop offset="0.15" stop-opacity="0.85"/><stop offset="0.17" stop-opacity="0.85"/><stop offset="0.2" stop-opacity="0.85"/><stop offset="0.23" stop-opacity="0.85"/><stop offset="0.25" stop-opacity="0.85"/><stop offset="0.28" stop-opacity="0.85"/><stop offset="0.3" stop-opacity="0.85"/><stop offset="0.33" stop-opacity="0.85"/><stop offset="0.35" stop-opacity="0.85"/><stop offset="0.38" stop-opacity="0.85"/><stop offset="0.4" stop-opacity="0.85"/><stop offset="0.42" stop-opacity="0.85"/><stop offset="0.45" stop-opacity="0.85"/><stop offset="0.47" stop-opacity="0.85"/><stop offset="0.5" stop-opacity="0.85"/><stop offset="0.53" stop-opacity="0.85"/><stop offset="0.55" stop-opacity="0.85"/><stop offset="0.57" stop-opacity="0.85"/><stop offset="0.6" stop-opacity="0.85"/><stop offset="0.62" stop-opacity="0.85"/><stop offset="0.65" stop-opacity="0.85"/><stop offset="0.68" stop-opacity="0.85"/><stop offset="0.7" stop-opacity="0.85"/><stop offset="0.72" stop-opacity="0.85"/><stop offset="0.75" stop-opacity="0.85"/><stop offset="0.78" stop-opacity="0.85"/><stop offset="0.8" stop-opacity="0.85"/><stop offset="0.82" stop-opacity="0.85"/><stop offset="0.85" stop-opacity="0.85"/><stop offset="0.88" stop-opacity="0.85"/><stop offset="0.9" stop-opacity="0.85"/><stop offset="0.93" stop-opacity="0.47"/><stop offset="0.95" stop-opacity="0.21"/><stop offset="0.97" stop-opacity="0.08"/><stop offset="1" stop-opacity="0.01"/></linearGradient>
<linearGradient id="g20" x1="0" y1="0" x2="0" y2="1"><stop offset="0" stop-opacity="0.01"/><stop offset="0.03" stop-opacity="0.02"/><stop offset="0.05" stop-opacity="0.04"/><stop offset="0.07" stop-opacity="0.08"/><stop offset="0.1" stop-opacity="0.11"/><stop offset="0.12" stop-opacity="0.16"/><stop offset="0.15" stop-opacity="0.21"/><stop offset="0.17" stop-opacity="0.28"/><stop offset="0.2" stop-opacity="0.35"/><stop offset="0.23" stop-opacity="0.42"/><stop offset="0.25" stop-opacity="0.48"/><stop offset="0.28" stop-opacity="0.48"/><stop offset="0.3" stop-opacity="0.48"/><stop offset="0.33" stop-opacity="0.48"/><stop offset="0.35" stop-opacity="0.48"/><stop offset="0.38" stop-opacity="0.48"/><stop offset="0.4" stop-opacity="0.48"/><stop offset="0.42" stop-opacity="0.48"/><stop offset="0.45" stop-opacity="0.48"/><stop offset="0.47" stop-opacity="0.48"/><stop offset="0.5" stop-opacity="0.48"/><stop offset="0.53" stop-opacity="0.48"/><stop offset="0.55" stop-opacity="0.48"/><stop offset="0.57" stop-opacity="0.48"/><stop offset="0.6" stop-opacity="0.48"/><stop offset="0.62" stop-opacity="0.48"/><stop offset="0.65" stop-opacity="0.48"/><stop offset="0.68" stop-opacity="0.48"/><stop offset="0.7" stop-opacity="0.48"/><stop offset="0.72" stop-opacity="0.48"/><stop offset="0.75" stop-opacity="0.48"/><stop offset="0.78" stop-opacity="0.48"/><stop offset="0.8" stop-opacity="0.48"/><stop offset="0.82" stop-opacity="0.4"/><stop offset="0.85" stop-opacity="0.3"/><stop offset="0.88" stop-opacity="0.22"/><stop offset="0.9" stop-opacity="0.16"/><stop offset="0.93" stop-opacity="0.1"/><stop offset="0.95" stop-opacity="0.05"/><stop offset="0.97" stop-opacity="0.03"/><stop offset="1" stop-opacity="0.01"/></linearGradient>
<linearGradient id="g21" x1="0" y1="0" x2="0" y2="1"><stop offset="0" stop-opacity="0.01"/><stop offset="0.03" stop-opacity="0.04"/><stop offset="0.05" stop-opacity="0.09"/><stop offset="0.07" stop-opacity="0.16"/><stop offset="0.1" stop-opacity="0.25"/><stop offset="0.12" stop-opacity="0.37"/><stop offset="0.15" stop-opacity="0.61"/><stop offset="0.17" stop-opacity="0.85"/><stop offset="0.2" stop-opacity="0.85"/><stop offset="0.23" stop-opacity="0.85"/><stop offset="0.25" stop-opacity="0.85"/><stop offset="0.28" stop-opacity="0.85"/><stop offset="0.3" stop-opacity="0.85"/><stop offset="0.33" stop-opacity="0.85"/><stop offset="0.35" stop-opacity="0.85"/><stop offset="0.38" stop-opacity="0.85"/><stop offset="0.4" stop-opacity="0.85"/><stop offset="0.42" stop-opacity="0.85"/><stop offset="0.45" stop-opacity="0.85"/><stop offset="0.47" stop-opacity="0.85"/><stop offset="0.5" stop-opacity="0.85"/><stop offset="0.53" stop-opacity="0.85"/><stop offset="0.55" stop-opacity="0.85"/><stop offset="0.57" stop-opacity="0.85"/><stop offset="0.6" stop-opacity="0.85"/><stop offset="0.62" stop-opacity="0.85"/><stop offset="0.65" stop-opacity="0.85"/><stop offset="0.68" stop-opacity="0.85"/><stop offset="0.7" stop-opacity="0.85"/><stop offset="0.72" stop-opacity="0.85"/><stop offset="0.75" stop-opacity="0.85"/><stop offset="0.78" stop-opacity="0.85"/><stop offset="0.8" stop-opacity="0.85"/><stop offset="0.82" stop-opacity="0.85"/><stop offset="0.85" stop-opacity="0.85"/><stop offset="0.88" stop-opacity="0.85"/><stop offset="0.9" stop-opacity="0.85"/><stop offset="0.93" stop-opacity="0.48"/><stop offset="0.95" stop-opacity="0.21"/><stop offset="0.97" stop-opacity="0.08"/><stop offset="1" stop-opacity="0.01"/></linearGradient>
<linearGradient id="g22" x1="0" y1="0" x2="0" y2="1"><stop offset="0" stop-opacity="0.01"/><stop offset="0.03" stop-opacity="0.02"/><stop offset="0.05" stop-opacity="0.04"/><stop offset="0.07" stop-opacity="0.06"/><stop offset="0.1" stop-opacity="0.1"/><stop offset="0.12" stop-opacity="0.14"/><stop offset="0.15" stop-opacity="0.18"/><stop offset="0.17" stop-opacity="0.22"/><stop offset="0.2" stop-opacity="0.28"/><stop offset="0.23" stop-opacity="0.34"/><stop offset="0.25" stop-opacity="0.4"/><stop offset="0.28" stop-opacity="0.45"/><stop offset="0.3" stop-opacity="0.45"/><stop offset="0.33" stop-opacity="0.45"/><stop offset="0.35" stop-opacity="0.45"/><stop offset="0.38" stop-opacity="0.45"/><stop offset="0.4" stop-opacity="0.45"/><stop offset="0.42" stop-opacity="0.45"/><stop offset="0.45" stop-opacity="0.45"/><stop offset="0.47" stop-opacity="0.45"/><stop offset="0.5" stop-opacity="0.45"/><stop offset="0.53" stop-opacity="0.45"/><stop offset="0.55" stop-opacity="0.45"/><stop offset="0.57" stop-opacity="0.45"/><stop offset="0.6" stop-opacity="0.45"/><stop offset="0.62" stop-opacity="0.45"/><stop offset="0.65" stop-opacity="0.45"/><stop offset="0.68" stop-opacity="0.45"/><stop offset="0.7" stop-opacity="0.45"/><stop offset="0.72" stop-opacity="0.45"/><stop offset="0.75" stop-opacity="0.4"/><stop offset="0.78" stop-opacity="0.35"/><stop offset="0.8" stop-opacity="0.29"/><stop offset="0.82" stop-opacity="0.23"/><stop offset="0.85" stop-opacity="0.18"/><stop offset="0.88" stop-opacity="0.14"/><stop offset="0.9" stop-opacity="0.1"/><stop offset="0.93" stop-opacity="0.06"/><stop offset="0.95" stop-opacity="0.04"/><stop offset="0.97" stop-opacity="0.02"/><stop offset="1" stop-opacity="0.01"/></linearGradient>
<linearGradient id="g23" x1="0" y1="0" x2="0" y2="1"><stop offset="0" stop-opacity="0.01"/><stop offset="0.03" stop-opacity="0.04"/><stop offset="0.05" stop-opacity="0.1"/><stop offset="0.07" stop-opacity="0.18"/><stop offset="0.1" stop-opacity="0.29"/><stop offset="0.12" stop-opacity="0.43"/><stop offset="0.15" stop-opacity="0.85"/><stop offset="0.17" stop-opacity="0.85"/><stop offset="0.2" stop-opacity="0.85"/><stop offset="0.23" stop-opacity="0.85"/><stop offset="0.25" stop-opacity="0.85"/><stop offset="0.28" stop-opacity="0.85"/><stop offset="0.3" stop-opacity="0.85"/><stop offset="0.33" stop-opacity="0.85"/><stop offset="0.35" stop-opacity="0.85"/><stop offset="0.38" stop-opacity="0.85"/><stop offset="0.4" stop-opacity="0.85"/><stop offset="0.42" stop-opacity="0.85"/><stop offset="0.45" stop-opacity="0.85"/><stop offset="0.47" stop-opacity="0.85"/><stop offset="0.5" stop-opacity="0.85"/><stop offset="0.53" stop-opacity="0.85"/><stop offset="0.55" stop-opacity="0.85"/><stop offset="0.57" stop-opacity="0.85"/><stop offset="0.6" stop-opacity="0.85"/><stop offset="0.62" stop-opacity="0.85"/><stop offset="0.65" stop-opacity="0.85"/><stop offset="0.68" stop-opacity="0.85"/><stop offset="0.7" stop-opacity="0.85"/><stop offset="0.72" stop-opacity="0.85"/><stop offset="0.75" stop-opacity="0.85"/><stop offset="0.78" stop-opacity="0.85"/><stop offset="0.8" stop-opacity="0.85"/><stop offset="0.82" stop-opacity="0.85"/><stop offset="0.85" stop-opacity="0.85"/><stop offset="0.88" stop-opacity="0.85"/><stop offset="0.9" stop-opacity="0.85"/><stop offset="0.93" stop-opacity="0.46"/><stop offset="0.95" stop-opacity="0.21"/><stop offset="0.97" stop-opacity="0.08"/><stop offset="1" stop-opacity="0.01"/></linearGradient>
<linearGradient id="g24" x1="0" y1="0" x2="0" y2="1"><stop offset="0" stop-opacity="0.01"/><stop offset="0.03" stop-opacity="0.01"/><stop offset="0.05" stop-opacity="0.02"/><stop offset="0.07" stop-opacity="0.04"/><stop offset="0.1" stop-opacity="0.05"/><stop offset="0.12" stop-opacity="0.08"/><stop offset="0.15" stop-opacity="0.1"/><stop offset="0.17" stop-opacity="0.13"/><stop offset="0.2" stop-opacity="0.16"/><stop offset="0.23" stop-opacity="0.19"/><stop offset="0.25" stop-opacity="0.22"/><stop offset="0.28" stop-opacity="0.26"/><stop offset="0.3" stop-opacity="0.3"/><stop offset="0.33" stop-opacity="0.34"/><stop offset="0.35" stop-opacity="0.36"/><stop offset="0.38" stop-opacity="0.4"/><stop offset="0.4" stop-opacity="0.41"/><stop offset="0.42" stop-opacity="0.41"/><stop offset="0.45" stop-opacity="0.41"/><stop offset="0.47" stop-opacity="0.41"/><stop offset="0.5" stop-opacity="0.41"/><stop offset="0.53" stop-opacity="0.41"/><stop offset="0.55" stop-opacity="0.41"/><stop offset="0.57" stop-opacity="0.41"/><stop offset="0.6" stop-opacity="0.41"/><stop offset="0.62" stop-opacity="0.41"/><stop offset="0.65" stop-opacity="0.41"/><stop offset="0.68" stop-opacity="0.41"/><stop offset="0.7" stop-opacity="0.41"/><stop offset="0.72" stop-opacity="0.41"/><stop offset="0.75" stop-opacity="0.41"/><stop offset="0.78" stop-opacity="0.41"/><stop offset="0.8" stop-opacity="0.35"/><stop offset="0.82" stop-opacity="0.28"/><stop offset="0.85" stop-opacity="0.21"/><stop offset="0.88" stop-opacity="0.16"/><stop offset="0.9" stop-opacity="0.11"/><stop offset="0.93" stop-opacity="0.07"/><stop offset="0.95" stop-opacity="0.04"/><stop offset="0.97" stop-opacity="0.02"/><stop offset="1" stop-opacity="0.01"/></linearGradient>
<linearGradient id="g25" x1="0" y1="0" x2="0" y2="1"><stop offset="0" stop-opacity="0.01"/><stop offset="0.03" stop-opacity="0.03"/><stop offset="0.05" stop-opacity="0.05"/><stop offset="0.07" stop-opacity="0.09"/><stop offset="0.1" stop-opacity="0.14"/><stop offset="0.12" stop-opacity="0.19"/><stop offset="0.15" stop-opacity="0.25"/><stop offset="0.17" stop-opacity="0.32"/><stop offset="0.2" stop-opacity="0.4"/><stop offset="0.23" stop-opacity="0.51"/><stop offset="0.25" stop-opacity="0.85"/><stop offset="0.28" stop-opacity="0.85"/><stop offset="0.3" stop-opacity="0.85"/><stop offset="0.33" stop-opacity="0.85"/><stop offset="0.35" stop-opacity="0.85"/><stop offset="0.38" stop-opacity="0.85"/><stop offset="0.4" stop-opacity="0.85"/><stop offset="0.42" stop-opacity="0.85"/><stop offset="0.45" stop-opacity="0.85"/><stop offset="0.47" stop-opacity="0.85"/><stop offset="0.5" stop-opacity="0.85"/><stop offset="0.53" stop-opacity="0.85"/><stop offset="0.55" stop-opacity="0.85"/><stop offset="0.57" stop-opacity="0.85"/><stop offset="0.6" stop-opacity="0.85"/><stop offset="0.62" stop-opacity="0.85"/><stop offset="0.65" stop-opacity="0.85"/><stop offset="0.68" stop-opacity="0.85"/><stop offset="0.7" stop-opacity="0.85"/><stop offset="0.72" stop-opacity="0.85"/><stop offset="0.75" stop-opacity="0.85"/><stop offset="0.78" stop-opacity="0.85"/><stop offset="0.8" stop-opacity="0.85"/><stop offset="0.82" stop-opacity="0.85"/><stop offset="0.85" stop-opacity="0.85"/><stop offset="0.88" stop-opacity="0.85"/><stop offset="0.9" stop-opacity="0.85"/><stop offset="0.93" stop-opacity="0.85"/><stop offset="0.95" stop-opacity="0.27"/><stop offset="0.97" stop-opacity="0.09"/><stop offset="1" stop-opacity="0.01"/></linearGradient>
<linearGradient id="g26" x1="0" y1="0" x2="0" y2="1"><stop offset="0" stop-opacity="0.01"/><stop offset="0.03" stop-opacity="0.01"/><stop offset="0.05" stop-opacity="0.02"/><stop offset="0.07" stop-opacity="0.03"/><stop offset="0.1" stop-opacity="0.04"/><stop offset="0.12" stop-opacity="0.06"/><stop offset="0.15" stop-opacity="0.08"/><stop offset="0.17" stop-opacity="0.11"/><stop offset="0.2" stop-opacity="0.14"/><stop offset="0.23" stop-opacity="0.16"/><stop offset="0.25" stop-opacity="0.19"/><stop offset="0.28" stop-opacity="0.22"/><stop offset="0.3" stop-opacity="0.26"/><stop offset="0.33" stop-opacity="0.29"/><stop offset="0.35" stop-opacity="0.32"/><stop offset="0.38" stop-opacity="0.35"/><stop offset="0.4" stop-opacity="0.36"/><stop offset="0.42" stop-opacity="0.36"/><stop offset="0.45" stop-opacity="0.36"/><stop offset="0.47" stop-opacity="0.36"/><stop offset="0.5" stop-opacity="0.36"/><stop offset="0.53" stop-opacity="0.36"/><stop offset="0.55" stop-opacity="0.36"/><stop offset="0.57" stop-opacity="0.36"/><stop offset="0.6" stop-opacity="0.36"/><stop offset="0.62" stop-opacity="0.36"/><stop offset="0.65" stop-opacity="0.36"/><stop offset="0.68" stop-opacity="0.36"/><stop offset="0.7" stop-opacity="0.36"/><stop offset="0.72" stop-opacity="0.36"/><stop offset="0.75" stop-opacity="0.36"/><stop offset="0.78" stop-opacity="0.35"/><stop offset="0.8" stop-opacity="0.29"/><stop offset="0.82" stop-opacity="0.23"/><stop offset="0.85" stop-opacity="0.18"/><stop offset="0.88" stop-opacity="0.14"/><stop offset="0.9" stop-opacity="0.09"/><stop offset="0.93" stop-opacity="0.05"/><stop offset="0.95" stop-opacity="0.03"/><stop offset="0.97" stop-opacity="0.01"/><stop offset="1" stop-opacity="0.01"/></linearGradient>
<linearGradient id="g27" x1="0" y1="0" x2="0" y2="1"><stop offset="0" stop-opacity="0.01"/><stop offset="0.03" stop-opacity="0.04"/><stop offset="0.05" stop-opacity="0.07"/><stop offset="0.07" stop-opacity="0.12"/><stop offset="0.1" stop-opacity="0.18"/><stop offset="0.12" stop-opacity="0.26"/><stop offset="0.15" stop-opacity="0.35"/><stop offset="0.17" stop-opacity="0.46"/><stop offset="0.2" stop-opacity="0.85"/><stop offset="0.23" stop-opacity="0.85"/><stop offset="0.25" stop-opacity="0.85"/><stop offset="0.28" stop-opacity="0.85"/><stop offset="0.3" stop-opacity="0.85"/><stop offset="0.33" stop-opacity="0.85"/><stop offset="0.35" stop-opacity="0.85"/><stop offset="0.38" stop-opacity="0.85"/><stop offset="0.4" stop-opacity="0.85"/><stop offset="0.42" stop-opacity="0.85"/><stop offset="0.45" stop-opacity="0.85"/><stop offset="0.47" stop-opacity="0.85"/><stop offset="0.5" stop-opacity="0.85"/><stop offset="0.53" stop-opacity="0.85"/><stop offset="0.55" stop-opacity="0.85"/><stop offset="0.57" stop-opacity="0.85"/><stop offset="0.6" stop-opacity="0.85"/><stop offset="0.62" stop-opacity="0.85"/><stop offset="0.65" stop-opacity="0.85"/><stop offset="0.68" stop-opacity="0.85"/><stop offset="0.7" stop-opacity="0.85"/><stop offset="0.72" stop-opacity="0.85"/><stop offset="0.75" stop-opacity="0.85"/><stop offset="0.78" stop-opacity="0.85"/><stop offset="0.8" stop-opacity="0.85"/><stop offset="0.82" stop-opacity="0.85"/><stop offset="0.85" stop-opacity="0.85"/><stop offset="0.88" stop-opacity="0.85"/><stop offset="0.9" stop-opacity="0.69"/><stop offset="0.93" stop-opacity="0.31"/><stop offset="0.95" stop-opacity="0.16"/><stop offset="0.97" stop-opacity="0.06"/><stop offset="1" stop-opacity="0.01"/></linearGradient>
<linearGradient id="g28" x1="0" y1="0" x2="0" y2="1"><stop offset="0" stop-opacity="0.01"/><stop offset="0.03" stop-opacity="0.01"/><stop offset="0.05" stop-opacity="0.02"/><stop offset="0.07" stop-opacity="0.03"/><stop offset="0.1" stop-opacity="0.05"/><stop offset="0.12" stop-opacity="0.07"/><stop offset="0.15" stop-opacity="0.09"/><stop offset="0.17" stop-opacity="0.12"/><stop offset="0.2" stop-opacity="0.15"/><stop offset="0.23" stop-opacity="0.18"/><stop offset="0.25" stop-opacity="0.21"/><stop offset="0.28" stop-opacity="0.25"/><stop offset="0.3" stop-opacity="0.29"/><stop offset="0.33" stop-opacity="0.33"/><stop offset="0.35" stop-opacity="0.36"/><stop offset="0.38" stop-opacity="0.36"/><stop offset="0.4" stop-opacity="0.36"/><stop offset="0.42" stop-opacity="0.36"/><stop offset="0.45" stop-opacity="0.36"/><stop offset="0.47" stop-opacity="0.36"/><stop offset="0.5" stop-opacity="0.36"/><stop offset="0.53" stop-opacity="0.36"/><stop offset="0.55" stop-opacity="0.36"/><stop offset="0.57" stop-opacity="0.36"/><stop offset="0.6" stop-opacity="0.36"/><stop offset="0.62" stop-opacity="0.36"/><stop offset="0.65" stop-opacity="0.36"/><stop offset="0.68" stop-opacity="0.36"/><stop offset="0.7" stop-opacity="0.36"/><stop offset="0.72" stop-opacity="0.36"/><stop offset="0.75" stop-opacity="0.36"/><stop offset="0.78" stop-opacity="0.36"/><stop offset="0.8" stop-opacity="0.32"/><stop offset="0.82" stop-opacity="0.26"/><stop offset="0.85" stop-opacity="0.19"/><stop offset="0.88" stop-opacity="0.15"/><stop offset="0.9" stop-opacity="0.1"/><stop offset="0.93" stop-opacity="0.06"/><stop offset="0.95" stop-opacity="0.03"/><stop offset="0.97" stop-opacity="0.01"/><stop offset="1" stop-opacity="0.01"/></linearGradient>
<linearGradient id="g29" x1="0" y1="0" x2="0" y2="1"><stop offset="0" stop-opacity="0.01"/><stop offset="0.03" stop-opacity="0.02"/><stop offset="0.05" stop-opacity="0.04"/><stop offset="0.07" stop-opacity="0.06"/><stop offset="0.1" stop-opacity="0.08"/><stop offset="0.12" stop-opacity="0.1"/><stop offset="0.15" stop-opacity="0.14"/><stop offset="0.17" stop-opacity="0.17"/><stop offset="0.2" stop-opacity="0.2"/><stop offset="0.23" stop-opacity="0.24"/><stop offset="0.25" stop-opacity="0.28"/><stop offset="0.28" stop-opacity="0.32"/><stop offset="0.3" stop-opacity="0.36"/><stop offset="0.33" stop-opacity="0.41"/><stop offset="0.35" stop-opacity="0.45"/><stop offset="0.38" stop-opacity="0.53"/><stop offset="0.4" stop-opacity="0.85"/><stop offset="0.42" stop-opacity="0.85"/><stop offset="0.45" stop-opacity="0.85"/><stop offset="0.47" stop-opacity="0.85"/><stop offset="0.5" stop-opacity="0.85"/><stop offset="0.53" stop-opacity="0.85"/><stop offset="0.55" stop-opacity="0.85"/><stop offset="0.57" stop-opacity="0.85"/><stop offset="0.6" stop-opacity="0.85"/><stop offset="0.62" stop-opacity="0.85"/><stop offset="0.65" stop-opacity="0.85"/><stop offset="0.68" stop-opacity="0.85"/><stop offset="0.7" stop-opacity="0.85"/><stop offset="0.72" stop-opacity="0.85"/><stop offset="0.75" stop-opacity="0.85"/><stop offset="0.78" stop-opacity="0.85"/><stop offset="0.8" stop-opacity="0.85"/><stop offset="0.82" stop-opacity="0.85"/><stop offset="0.85" stop-opacity="0.85"/><stop offset="0.88" stop-opacity="0.85"/><stop offset="0.9" stop-opacity="0.85"/><stop offset="0.93" stop-opacity="0.32"/><stop offset="0.95" stop-opacity="0.16"/><stop offset="0.97" stop-opacity="0.06"/><stop offset="1" stop-opacity="0.01"/></linearGradient>
<linearGradient id="g30" x1="0" y1="0" x2="0" y2="1"><stop offset="0" stop-opacity="0.01"/><stop offset="0.03" stop-opacity="0.01"/><stop offset="0.05" stop-opacity="0.01"/><stop offset="0.07" stop-opacity="0.02"/><stop offset="0.1" stop-opacity="0.04"/><stop offset="0.12" stop-opacity="0.05"/><stop offset="0.15" stop-opacity="0.07"/><stop offset="0.17" stop-opacity="0.1"/><stop offset="0.2" stop-opacity="0.12"/><stop offset="0.23" stop-opacity="0.15"/><stop offset="0.25" stop-opacity="0.18"/><stop offset="0.28" stop-opacity="0.2"/><stop offset="0.3" stop-opacity="0.24"/><stop offset="0.33" stop-opacity="0.27"/><stop offset="0.35" stop-opacity="0.3"/><stop offset="0.38" stop-opacity="0.34"/><stop offset="0.4" stop-opacity="0.35"/><stop offset="0.42" stop-opacity="0.35"/><stop offset="0.45" stop-opacity="0.35"/><stop offset="0.47" stop-opacity="0.35"/><stop offset="0.5" stop-opacity="0.35"/><stop offset="0.53" stop-opacity="0.35"/><stop offset="0.55" stop-opacity="0.35"/><stop offset="0.57" stop-opacity="0.35"/><stop offset="0.6" stop-opacity="0.35"/><stop offset="0.62" stop-opacity="0.35"/><stop offset="0.65" stop-opacity="0.35"/><stop offset="0.68" stop-opacity="0.35"/><stop offset="0.7" stop-opacity="0.35"/><stop offset="0.72" stop-opacity="0.35"/><stop offset="0.75" stop-opacity="0.35"/><stop offset="0.78" stop-opacity="0.35"/><stop offset="0.8" stop-opacity="0.35"/><stop offset="0.82" stop-opacity="0.35"/><stop offset="0.85" stop-opacity="0.26"/><stop offset="0.88" stop-opacity="0.19"/><stop offset="0.9" stop-opacity="0.13"/><stop offset="0.93" stop-opacity="0.07"/><stop offset="0.95" stop-opacity="0.04"/><stop offset="0.97" stop-opacity="0.01"/><stop offset="1" stop-opacity="0.01"/></linearGradient>
<linearGradient id="g31" x1="0" y1="0" x2="0" y2="1"><stop offset="0" stop-opacity="0.01"/><stop offset="0.03" stop-opacity="0.03"/><stop offset="0.05" stop-opacity="0.05"/><stop offset="0.07" stop-opacity="0.07"/><stop offset="0.1" stop-opacity="0.1"/><stop offset="0.12" stop-opacity="0.14"/><stop offset="0.15" stop-opacity="0.18"/><stop offset="0.17" stop-opacity="0.22"/><stop offset="0.2" stop-opacity="0.28"/><stop offset="0.23" stop-opacity="0.33"/><stop offset="0.25" stop-opacity="0.39"/><stop offset="0.28" stop-opacity="0.45"/><stop offset="0.3" stop-opacity="0.59"/><stop offset="0.33" stop-opacity="0.85"/><stop offset="0.35" stop-opacity="0.85"/><stop offset="0.38" stop-opacity="0.85"/><stop offset="0.4" stop-opacity="0.85"/><stop offset="0.42" stop-opacity="0.85"/><stop offset="0.45" stop-opacity="0.85"/><stop offset="0.47" stop-opacity="0.85"/><stop offset="0.5" stop-opacity="0.85"/><stop offset="0.53" stop-opacity="0.85"/><stop offset="0.55" stop-opacity="0.85"/><stop offset="0.57" stop-opacity="0.85"/><stop offset="0.6" stop-opacity="0.85"/><stop offset="0.62" stop-opacity="0.85"/><stop offset="0.65" stop-opacity="0.85"/><stop offset="0.68" stop-opacity="0.85"/><stop offset="0.7" stop-opacity="0.85"/><stop offset="0.72" stop-opacity="0.85"/><stop offset="0.75" stop-opacity="0.85"/><stop offset="0.78" stop-opacity="0.85"/><stop offset="0.8" stop-opacity="0.85"/><stop offset="0.82" stop-opacity="0.85"/><stop offset="0.85" stop-opacity="0.85"/><stop offset="0.88" stop-opacity="0.85"/><stop offset="0.9" stop-opacity="0.85"/><stop offset="0.93" stop-opacity="0.34"/><stop offset="0.95" stop-opacity="0.17"/><stop offset="0.97" stop-opacity="0.06"/><stop offset="1" stop-opacity="0.01"/></linearGradient>
<linearGradient id="g32" x1="0" y1="0" x2="0" y2="1"><stop offset="0" stop-opacity="0.01"/><stop offset="0.03" stop-opacity="0.01"/><stop offset="0.05" stop-opacity="0.01"/><stop offset="0.07" stop-opacity="0.02"/><stop offset="0.1" stop-opacity="0.04"/><stop offset="0.12" stop-opacity="0.05"/><stop offset="0.15" stop-opacity="0.08"/><stop offset="0.17" stop-opacity="0.1"/><stop offset="0.2" stop-opacity="0.13"/><stop offset="0.23" stop-opacity="0.15"/><stop offset="0.25" stop-opacity="0.18"/><stop offset="0.28" stop-opacity="0.21"/><stop offset="0.3" stop-opacity="0.25"/><stop offset="0.33" stop-opacity="0.28"/><stop offset="0.35" stop-opacity="0.31"/><stop offset="0.38" stop-opacity="0.34"/><stop offset="0.4" stop-opacity="0.35"/><stop offset="0.42" stop-opacity="0.35"/><stop offset="0.45" stop-opacity="0.35"/><stop offset="0.47" stop-opacity="0.35"/><stop offset="0.5" stop-opacity="0.35"/><stop offset="0.53" stop-opacity="0.35"/><stop offset="0.55" stop-opacity="0.35"/><stop offset="0.57" stop-opacity="0.35"/><stop offset="0.6" stop-opacity="0.35"/><stop offset="0.62" stop-opacity="0.35"/><stop offset="0.65" stop-opacity="0.35"/><stop offset="0.68" stop-opacity="0.35"/><stop offset="0.7" stop-opacity="0.35"/><stop offset="0.72" stop-opacity="0.35"/><stop offset="0.75" stop-opacity="0.35"/><stop offset="0.78" stop-opacity="0.35"/><stop offset="0.8" stop-opacity="0.35"/><stop offset="0.82" stop-opacity="0.35"/><stop offset="0.85" stop-opacity="0.27"/><stop offset="0.88" stop-opacity="0.19"/><stop offset="0.9" stop-opacity="0.13"/><stop offset="0.93" stop-opacity="0.07"/><stop offset="0.95" stop-opacity="0.04"/><stop offset="0.97" stop-opacity="0.01"/><stop offset="1" stop-opacity="0.01"/></linearGradient>
<linearGradient id="g33" x1="0" y1="0" x2="0" y2="1"><stop offset="0" stop-opacity="0.01"/><stop offset="0.03" stop-opacity="0.05"/><stop offset="0.05" stop-opacity="0.11"/><stop offset="0.07" stop-opacity="0.2"/><stop offset="0.1" stop-opacity="0.33"/><stop offset="0.12" stop-opacity="0.52"/><stop offset="0.15" stop-opacity="0.85"/><stop offset="0.17" stop-opacity="0.85"/><stop offset="0.2" stop-opacity="0.85"/><stop offset="0.23" stop-opacity="0.85"/><stop offset="0.25" stop-opacity="0.85"/><stop offset="0.28" stop-opacity="0.85"/><stop offset="0.3" stop-opacity="0.85"/><stop offset="0.33" stop-opacity="0.85"/><stop offset="0.35" stop-opacity="0.85"/><stop offset="0.38" stop-opacity="0.85"/><stop offset="0.4" stop-opacity="0.85"/><stop offset="0.42" stop-opacity="0.85"/><stop offset="0.45" stop-opacity="0.85"/><stop offset="0.47" stop-opacity="0.85"/><stop offset="0.5" stop-opacity="0.85"/><stop offset="0.53" stop-opacity="0.85"/><stop offset="0.55" stop-opacity="0.85"/><stop offset="0.57" stop-opacity="0.85"/><stop offset="0.6" stop-opacity="0.85"/><stop offset="0.62" stop-opacity="0.85"/><stop offset="0.65" stop-opacity="0.85"/><stop offset="0.68" stop-opacity="0.85"/><stop offset="0.7" stop-opacity="0.85"/><stop offset="0.72" stop-opacity="0.85"/><stop offset="0.75" stop-opacity="0.85"/><stop offset="0.78" stop-opacity="0.85"/><stop offset="0.8" stop-opacity="0.85"/><stop offset="0.82" stop-opacity="0.85"/><stop offset="0.85" stop-opacity="0.85"/><stop offset="0.88" stop-opacity="0.52"/><stop offset="0.9" stop-opacity="0.33"/><stop offset="0.93" stop-opacity="0.2"/><stop offset="0.95" stop-opacity="0.11"/><stop offset="0.97" stop-opacity="0.05"/><stop offset="1" stop-opacity="0.01"/></linearGradient>
<linearGradient id="g34" x1="0" y1="0" x2="0" y2="1"><stop offset="0" stop-opacity="0.01"/><stop offset="0.03" stop-opacity="0.03"/><stop offset="0.05" stop-opacity="0.05"/><stop offset="0.07" stop-opacity="0.07"/><stop offset="0.1" stop-opacity="0.11"/><stop offset="0.12" stop-opacity="0.15"/><stop offset="0.15" stop-opacity="0.19"/><stop offset="0.17" stop-opacity="0.25"/><stop offset="0.2" stop-opacity="0.3"/><stop offset="0.23" stop-opacity="0.36"/><stop offset="0.25" stop-opacity="0.43"/><stop offset="0.28" stop-opacity="0.53"/><stop offset="0.3" stop-opacity="0.59"/><stop offset="0.33" stop-opacity="0.59"/><stop offset="0.35" stop-opacity="0.59"/><stop offset="0.38" stop-opacity="0.59"/><stop offset="0.4" stop-opacity="0.59"/><stop offset="0.42" stop-opacity="0.59"/><stop offset="0.45" stop-opacity="0.59"/><stop offset="0.47" stop-opacity="0.59"/><stop offset="0.5" stop-opacity="0.59"/><stop offset="0.53" stop-opacity="0.59"/><stop offset="0.55" stop-opacity="0.59"/><stop offset="0.57" stop-opacity="0.59"/><stop offset="0.6" stop-opacity="0.59"/><stop offset="0.62" stop-opacity="0.59"/><stop offset="0.65" stop-opacity="0.59"/><stop offset="0.68" stop-opacity="0.59"/><stop offset="0.7" stop-opacity="0.59"/><stop offset="0.72" stop-opacity="0.59"/><stop offset="0.75" stop-opacity="0.59"/><stop offset="0.78" stop-opacity="0.59"/><stop offset="0.8" stop-opacity="0.48"/><stop offset="0.82" stop-opacity="0.37"/><stop offset="0.85" stop-opacity="0.29"/><stop offset="0.88" stop-opacity="0.21"/><stop offset="0.9" stop-opacity="0.16"/><stop offset="0.93" stop-opacity="0.1"/><stop offset="0.95" stop-opacity="0.06"/><stop offset="0.97" stop-opacity="0.03"/><stop offset="1" stop-opacity="0.01"/></linearGradient>
<linearGradient id="g35" x1="0" y1="0" x2="0" y2="1"><stop offset="0" stop-opacity="0.01"/><stop offset="0.03" stop-opacity="0.04"/><stop offset="0.05" stop-opacity="0.08"/><stop offset="0.07" stop-opacity="0.14"/><stop offset="0.1" stop-opacity="0.2"/><stop offset="0.12" stop-opacity="0.29"/><stop offset="0.15" stop-opacity="0.4"/><stop offset="0.17" stop-opacity="0.85"/><stop offset="0.2" stop-opacity="0.85"/><stop offset="0.23" stop-opacity="0.85"/><stop offset="0.25" stop-opacity="0.85"/><stop offset="0.28" stop-opacity="0.85"/><stop offset="0.3" stop-opacity="0.85"/><stop offset="0.33" stop-opacity="0.85"/><stop offset="0.35" stop-opacity="0.85"/><stop offset="0.38" stop-opacity="0.85"/><stop offset="0.4" stop-opacity="0.85"/><stop offset="0.42" stop-opacity="0.85"/><stop offset="0.45" stop-opacity="0.85"/><stop offset="0.47" stop-opacity="0.85"/><stop offset="0.5" stop-opacity="0.85"/><stop offset="0.53" stop-opacity="0.85"/><stop offset="0.55" stop-opacity="0.85"/><stop offset="0.57" stop-opacity="0.85"/><stop offset="0.6" stop-opacity="0.85"/><stop offset="0.62" stop-opacity="0.85"/><stop offset="0.65" stop-opacity="0.85"/><stop offset="0.68" stop-opacity="0.85"/><stop offset="0.7" stop-opacity="0.85"/><stop offset="0.72" stop-opacity="0.85"/><stop offset="0.75" stop-opacity="0.85"/><stop offset="0.78" stop-opacity="0.85"/><stop offset="0.8" stop-opacity="0.85"/><stop offset="0.82" stop-opacity="0.85"/><stop offset="0.85" stop-opacity="0.85"/><stop offset="0.88" stop-opacity="0.85"/><stop offset="0.9" stop-opacity="0.85"/><stop offset="0.93" stop-opacity="0.53"/><stop offset="0.95" stop-opacity="0.23"/><stop offset="0.97" stop-opacity="0.08"/><stop offset="1" stop-opacity="0.01"/></linearGradient>
<linearGradient id="g36" x1="0" y1="0" x2="0" y2="1"><stop offset="0" stop-opacity="0.01"/><stop offset="0.03" stop-opacity="0.03"/><stop offset="0.05" stop-opacity="0.05"/><stop offset="0.07" stop-opacity="0.08"/><stop offset="0.1" stop-opacity="0.12"/><stop offset="0.12" stop-opacity="0.17"/><stop offset="0.15" stop-opacity="0.22"/><stop offset="0.17" stop-opacity="0.29"/><stop offset="0.2" stop-opacity="0.35"/><stop offset="0.23" stop-opacity="0.43"/><stop offset="0.25" stop-opacity="0.56"/><stop offset="0.28" stop-opacity="0.59"/><stop offset="0.3" stop-opacity="0.59"/><stop offset="0.33" stop-opacity="0.59"/><stop offset="0.35" stop-opacity="0.59"/><stop offset="0.38" stop-opacity="0.59"/><stop offset="0.4" stop-opacity="0.59"/><stop offset="0.42" stop-opacity="0.59"/><stop offset="0.45" stop-opacity="0.59"/><stop offset="0.47" stop-opacity="0.59"/><stop offset="0.5" stop-opacity="0.59"/><stop offset="0.53" stop-opacity="0.59"/><stop offset="0.55" stop-opacity="0.59"/><stop offset="0.57" stop-opacity="0.59"/><stop offset="0.6" stop-opacity="0.59"/><stop offset="0.62" stop-opacity="0.59"/><stop offset="0.65" stop-opacity="0.59"/><stop offset="0.68" stop-opacity="0.59"/><stop offset="0.7" stop-opacity="0.59"/><stop offset="0.72" stop-opacity="0.59"/><stop offset="0.75" stop-opacity="0.59"/><stop offset="0.78" stop-opacity="0.59"/><stop offset="0.8" stop-opacity="0.59"/><stop offset="0.82" stop-opacity="0.59"/><stop offset="0.85" stop-opacity="0.41"/><stop offset="0.88" stop-opacity="0.3"/><stop offset="0.9" stop-opacity="0.2"/><stop offset="0.93" stop-opacity="0.14"/><stop offset="0.95" stop-opacity="0.08"/><stop offset="0.97" stop-opacity="0.04"/><stop offset="1" stop-opacity="0.01"/></linearGradient>
<linearGradient id="g37" x1="0" y1="0" x2="0" y2="1"><stop offset="0" stop-opacity="0.01"/><stop offset="0.03" stop-opacity="0.03"/><stop offset="0.05" stop-opacity="0.05"/><stop offset="0.07" stop-opacity="0.07"/><stop offset="0.1" stop-opacity="0.1"/><stop offset="0.12" stop-opacity="0.14"/><stop offset="0.15" stop-opacity="0.18"/><stop offset="0.17" stop-opacity="0.22"/><stop offset="0.2" stop-opacity="0.28"/><stop offset="0.23" stop-opacity="0.34"/><stop offset="0.25" stop-opacity="0.39"/><stop offset="0.28" stop-opacity="0.46"/><stop offset="0.3" stop-opacity="0.62"/><stop offset="0.33" stop-opacity="0.85"/><stop offset="0.35" stop-opacity="0.85"/><stop offset="0.38" stop-opacity="0.85"/><stop offset="0.4" stop-opacity="0.85"/><stop offset="0.42" stop-opacity="0.85"/><stop offset="0.45" stop-opacity="0.85"/><stop offset="0.47" stop-opacity="0.85"/><stop offset="0.5" stop-opacity="0.85"/><stop offset="0.53" stop-opacity="0.85"/><stop offset="0.55" stop-opacity="0.85"/><stop offset="0.57" stop-opacity="0.85"/><stop offset="0.6" stop-opacity="0.85"/><stop offset="0.62" stop-opacity="0.85"/><stop offset="0.65" stop-opacity="0.85"/><stop offset="0.68" stop-opacity="0.85"/><stop offset="0.7" stop-opacity="0.85"/><stop offset="0.72" stop-opacity="0.85"/><stop offset="0.75" stop-opacity="0.85"/><stop offset="0.78" stop-opacity="0.85"/><stop offset="0.8" stop-opacity="0.85"/><stop offset="0.82" stop-opacity="0.85"/><stop offset="0.85" stop-opacity="0.85"/><stop offset="0.88" stop-opacity="0.85"/><stop offset="0.9" stop-opacity="0.85"/><stop offset="0.93" stop-opacity="0.85"/><stop offset="0.95" stop-opacity="0.28"/><stop offset="0.97" stop-opacity="0.09"/><stop offset="1" stop-opacity="0.01"/></linearGradient>
<linearGradient id="g38" x1="0" y1="0" x2="0" y2="1"><stop offset="0" stop-opacity="0.01"/><stop offset="0.03" stop-opacity="0.03"/><stop offset="0.05" stop-opacity="0.05"/><stop offset="0.07" stop-opacity="0.09"/><stop offset="0.1" stop-opacity="0.13"/><stop offset="0.12" stop-opacity="0.18"/><stop offset="0.15" stop-opacity="0.23"/><stop offset="0.17" stop-opacity="0.3"/><stop offset="0.2" stop-opacity="0.37"/><stop offset="0.23" stop-opacity="0.45"/><stop offset="0.25" stop-opacity="0.54"/><stop offset="0.28" stop-opacity="0.54"/><stop offset="0.3" stop-opacity="0.54"/><stop offset="0.33" stop-opacity="0.54"/><stop offset="0.35" stop-opacity="0.54"/><stop offset="0.38" stop-opacity="0.54"/><stop offset="0.4" stop-opacity="0.54"/><stop offset="0.42" stop-opacity="0.54"/><stop offset="0.45" stop-opacity="0.54"/><stop offset="0.47" stop-opacity="0.54"/><stop offset="0.5" stop-opacity="0.54"/><stop offset="0.53" stop-opacity="0.54"/><stop offset="0.55" stop-opacity="0.54"/><stop offset="0.57" stop-opacity="0.54"/><stop offset="0.6" stop-opacity="0.54"/><stop offset="0.62" stop-opacity="0.54"/><stop offset="0.65" stop-opacity="0.54"/><stop offset="0.68" stop-opacity="0.54"/><stop offset="0.7" stop-opacity="0.54"/><stop offset="0.72" stop-opacity="0.54"/><stop offset="0.75" stop-opacity="0.54"/><stop offset="0.78" stop-opacity="0.46"/><stop offset="0.8" stop-opacity="0.38"/><stop offset="0.82" stop-opacity="0.3"/><stop offset="0.85" stop-opacity="0.24"/><stop offset="0.88" stop-opacity="0.18"/><stop offset="0.9" stop-opacity="0.13"/><stop offset="0.93" stop-opacity="0.09"/><stop offset="0.95" stop-opacity="0.05"/><stop offset="0.97" stop-opacity="0.03"/><stop offset="1" stop-opacity="0.01"/></linearGradient>
<linearGradient id="g39" x1="0" y1="0" x2="0" y2="1"><stop offset="0" stop-opacity="0.01"/><stop offset="0.03" stop-opacity="0.03"/><stop offset="0.05" stop-opacity="0.04"/><stop offset="0.07" stop-opacity="0.07"/><stop offset="0.1" stop-opacity="0.1"/><stop offset="0.12" stop-opacity="0.14"/><stop offset="0.15" stop-opacity="0.17"/><stop offset="0.17" stop-opacity="0.21"/><stop offset="0.2" stop-opacity="0.27"/><stop offset="0.23" stop-opacity="0.32"/><stop offset="0.25" stop-opacity="0.38"/><stop offset="0.28" stop-opacity="0.43"/><stop offset="0.3" stop-opacity="0.54"/><stop offset="0.33" stop-opacity="0.85"/><stop offset="0.35" stop-opacity="0.85"/><stop offset="0.38" stop-opacity="0.85"/><stop offset="0.4" stop-opacity="0.85"/><stop offset="0.42" stop-opacity="0.85"/><stop offset="0.45" stop-opacity="0.85"/><stop offset="0.47" stop-opacity="0.85"/><stop offset="0.5" stop-opacity="0.85"/><stop offset="0.53" stop-opacity="0.85"/><stop offset="0.55" stop-opacity="0.85"/><stop offset="0.57" stop-opacity="0.85"/><stop offset="0.6" stop-opacity="0.85"/><stop offset="0.62" stop-opacity="0.85"/><stop offset="0.65" stop-opacity="0.85"/><stop offset="0.68" stop-opacity="0.85"/><stop offset="0.7" stop-opacity="0.85"/><stop offset="0.72" stop-opacity="0.85"/><stop offset="0.75" stop-opacity="0.85"/><stop offset="0.78" stop-opacity="0.85"/><stop offset="0.8" stop-opacity="0.85"/><stop offset="0.82" stop-opacity="0.85"/><stop offset="0.85" stop-opacity="0.85"/><stop offset="0.88" stop-opacity="0.85"/><stop offset="0.9" stop-opacity="0.85"/><stop offset="0.93" stop-opacity="0.85"/><stop offset="0.95" stop-opacity="0.32"/><stop offset="0.97" stop-opacity="0.1"/><stop offset="1" stop-opacity="0.01"/></linearGradient>
<linearGradient id="g40" x1="0" y1="0" x2="0" y2="1"><stop offset="0" stop-opacity="0.01"/><stop offset="0.03" stop-opacity="0.02"/><stop offset="0.05" stop-opacity="0.04"/><stop offset="0.07" stop-opacity="0.07"/><stop offset="0.1" stop-opacity="0.11"/><stop offset="0.12" stop-opacity="0.16"/><stop offset="0.15" stop-opacity="0.2"/><stop offset="0.17" stop-opacity="0.26"/><stop offset="0.2" stop-opacity="0.32"/><stop offset="0.23" stop-opacity="0.39"/><stop offset="0.25" stop-opacity="0.46"/><stop offset="0.28" stop-opacity="0.51"/><stop offset="0.3" stop-opacity="0.51"/><stop offset="0.33" stop-opacity="0.51"/><stop offset="0.35" stop-opacity="0.51"/><stop offset="0.38" stop-opacity="0.51"/><stop offset="0.4" stop-opacity="0.51"/><stop offset="0.42" stop-opacity="0.51"/><stop offset="0.45" stop-opacity="0.51"/><stop offset="0.47" stop-opacity="0.51"/><stop offset="0.5" stop-opacity="0.51"/><stop offset="0.53" stop-opacity="0.51"/><stop offset="0.55" stop-opacity="0.51"/><stop offset="0.57" stop-opacity="0.51"/><stop offset="0.6" stop-opacity="0.51"/><stop offset="0.62" stop-opacity="0.51"/><stop offset="0.65" stop-opacity="0.51"/><stop offset="0.68" stop-opacity="0.51"/><stop offset="0.7" stop-opacity="0.51"/><stop offset="0.72" stop-opacity="0.51"/><stop offset="0.75" stop-opacity="0.46"/><stop offset="0.78" stop-opacity="0.39"/><stop offset="0.8" stop-opacity="0.32"/><stop offset="0.82" stop-opacity="0.26"/><stop offset="0.85" stop-opacity="0.2"/><stop offset="0.88" stop-opacity="0.16"/><stop offset="0.9" stop-opacity="0.11"/><stop offset="0.93" stop-opacity="0.07"/><stop offset="0.95" stop-opacity="0.04"/><stop offset="0.97" stop-opacity="0.02"/><stop offset="1" stop-opacity="0.01"/></linearGradient>
<linearGradient id="g41" x1="0" y1="0" x2="0" y2="1"><stop offset="0" stop-opacity="0.01"/><stop offset="0.03" stop-opacity="0.02"/><stop offset="0.05" stop-opacity="0.03"/><stop offset="0.07" stop-opacity="0.04"/><stop offset="0.1" stop-opacity="0.06"/><stop offset="0.12" stop-opacity="0.08"/><stop offset="0.15" stop-opacity="0.1"/><stop offset="0.17" stop-opacity="0.11"/><stop offset="0.2" stop-opacity="0.14"/><stop offset="0.23" stop-opacity="0.16"/><stop offset="0.25" stop-opacity="0.19"/><stop offset="0.28" stop-opacity="0.21"/><stop offset="0.3" stop-opacity="0.24"/><stop offset="0.33" stop-opacity="0.27"/><stop offset="0.35" stop-opacity="0.3"/><stop offset="0.38" stop-opacity="0.33"/><stop offset="0.4" stop-opacity="0.36"/><stop offset="0.42" stop-opacity="0.39"/><stop offset="0.45" stop-opacity="0.41"/><stop offset="0.47" stop-opacity="0.44"/><stop offset="0.5" stop-opacity="0.48"/><stop offset="0.53" stop-opacity="0.53"/><stop offset="0.55" stop-opacity="0.61"/><stop offset="0.57" stop-opacity="0.85"/><stop offset="0.6" stop-opacity="0.85"/><stop offset="0.62" stop-opacity="0.85"/><stop offset="0.65" stop-opacity="0.85"/><stop offset="0.68" stop-opacity="0.85"/><stop offset="0.7" stop-opacity="0.85"/><stop offset="0.72" stop-opacity="0.85"/><stop offset="0.75" stop-opacity="0.85"/><stop offset="0.78" stop-opacity="0.85"/><stop offset="0.8" stop-opacity="0.85"/><stop offset="0.82" stop-opacity="0.85"/><stop offset="0.85" stop-opacity="0.85"/><stop offset="0.88" stop-opacity="0.85"/><stop offset="0.9" stop-opacity="0.85"/><stop offset="0.93" stop-opacity="0.85"/><stop offset="0.95" stop-opacity="0.85"/><stop offset="0.97" stop-opacity="0.2"/><stop offset="1" stop-opacity="0.01"/></linearGradient>
<linearGradient id="g42" x1="0" y1="0" x2="0" y2="1"><stop offset="0" stop-opacity="0.01"/><stop offset="0.03" stop-opacity="0.02"/><stop offset="0.05" stop-opacity="0.03"/><stop offset="0.07" stop-opacity="0.05"/><stop offset="0.1" stop-opacity="0.08"/><stop offset="0.12" stop-opacity="0.11"/><stop offset="0.15" stop-opacity="0.15"/><stop offset="0.17" stop-opacity="0.18"/><stop offset="0.2" stop-opacity="0.22"/><stop offset="0.23" stop-opacity="0.27"/><stop offset="0.25" stop-opacity="0.32"/><stop offset="0.28" stop-opacity="0.37"/><stop offset="0.3" stop-opacity="0.42"/><stop offset="0.33" stop-opacity="0.47"/><stop offset="0.35" stop-opacity="0.47"/><stop offset="0.38" stop-opacity="0.47"/><stop offset="0.4" stop-opacity="0.47"/><stop offset="0.42" stop-opacity="0.47"/><stop offset="0.45" stop-opacity="0.47"/><stop offset="0.47" stop-opacity="0.47"/><stop offset="0.5" stop-opacity="0.47"/><stop offset="0.53" stop-opacity="0.47"/><stop offset="0.55" stop-opacity="0.47"/><stop offset="0.57" stop-opacity="0.47"/><stop offset="0.6" stop-opacity="0.47"/><stop offset="0.62" stop-opacity="0.47"/><stop offset="0.65" stop-opacity="0.47"/><stop offset="0.68" stop-opacity="0.47"/><stop offset="0.7" stop-opacity="0.47"/><stop offset="0.72" stop-opacity="0.47"/><stop offset="0.75" stop-opacity="0.47"/><stop offset="0.78" stop-opacity="0.47"/><stop offset="0.8" stop-opacity="0.47"/><stop offset="0.82" stop-opacity="0.47"/><stop offset="0.85" stop-opacity="0.47"/><stop offset="0.88" stop-opacity="0.42"/><stop offset="0.9" stop-opacity="0.28"/><stop offset="0.93" stop-opacity="0.17"/><stop offset="0.95" stop-opacity="0.09"/><stop offset="0.97" stop-opacity="0.04"/><stop offset="1" stop-opacity="0.01"/></linearGradient>
<linearGradient id="g43" x1="0" y1="0" x2="0" y2="1"><stop offset="0" stop-opacity="0.01"/><stop offset="0.03" stop-opacity="0.02"/><stop offset="0.05" stop-opacity="0.03"/><stop offset="0.07" stop-opacity="0.04"/><stop offset="0.1" stop-opacity="0.06"/><stop offset="0.12" stop-opacity="0.08"/><stop offset="0.15" stop-opacity="0.1"/><stop offset="0.17" stop-opacity="0.12"/><stop offset="0.2" stop-opacity="0.14"/><stop offset="0.23" stop-opacity="0.16"/><stop offset="0.25" stop-opacity="0.19"/><stop offset="0.28" stop-opacity="0.21"/><stop offset="0.3" stop-opacity="0.24"/><stop offset="0.33" stop-opacity="0.27"/><stop offset="0.35" stop-opacity="0.3"/><stop offset="0.38" stop-opacity="0.34"/><stop offset="0.4" stop-opacity="0.36"/><stop offset="0.42" stop-opacity="0.39"/><stop offset="0.45" stop-opacity="0.42"/><stop offset="0.47" stop-opacity="0.45"/><stop offset="0.5" stop-opacity="0.49"/><stop offset="0.53" stop-opacity="0.54"/><stop offset="0.55" stop-opacity="0.64"/><stop offset="0.57" stop-opacity="0.85"/><stop offset="0.6" stop-opacity="0.85"/><stop offset="0.62" stop-opacity="0.85"/><stop offset="0.65" stop-opacity="0.85"/><stop offset="0.68" stop-opacity="0.85"/><stop offset="0.7" stop-opacity="0.85"/><stop offset="0.72" stop-opacity="0.85"/><stop offset="0.75" stop-opacity="0.85"/><stop offset="0.78" stop-opacity="0.85"/><stop offset="0.8" stop-opacity="0.85"/><stop offset="0.82" stop-opacity="0.85"/><stop offset="0.85" stop-opacity="0.85"/><stop offset="0.88" stop-opacity="0.85"/><stop offset="0.9" stop-opacity="0.85"/><stop offset="0.93" stop-opacity="0.85"/><stop offset="0.95" stop-opacity="0.85"/><stop offset="0.97" stop-opacity="0.19"/><stop offset="1" stop-opacity="0.01"/></linearGradient>
<linearGradient id="g44" x1="0" y1="0" x2="0" y2="1"><stop offset="0" stop-opacity="0.01"/><stop offset="0.03" stop-opacity="0.02"/><stop offset="0.05" stop-opacity="0.04"/><stop offset="0.07" stop-opacity="0.06"/><stop offset="0.1" stop-opacity="0.09"/><stop offset="0.12" stop-opacity="0.12"/><stop offset="0.15" stop-opacity="0.16"/><stop offset="0.17" stop-opacity="0.2"/><stop offset="0.2" stop-opacity="0.25"/><stop offset="0.23" stop-opacity="0.3"/><stop offset="0.25" stop-opacity="0.35"/><stop offset="0.28" stop-opacity="0.41"/><stop offset="0.3" stop-opacity="0.47"/><stop offset="0.33" stop-opacity="0.47"/><stop offset="0.35" stop-opacity="0.47"/><stop offset="0.38" stop-opacity="0.47"/><stop offset="0.4" stop-opacity="0.47"/><stop offset="0.42" stop-opacity="0.47"/><stop offset="0.45" stop-opacity="0.47"/><stop offset="0.47" stop-opacity="0.47"/><stop offset="0.5" stop-opacity="0.47"/><stop offset="0.53" stop-opacity="0.47"/><stop offset="0.55" stop-opacity="0.47"/><stop offset="0.57" stop-opacity="0.47"/><stop offset="0.6" stop-opacity="0.47"/><stop offset="0.62" stop-opacity="0.47"/><stop offset="0.65" stop-opacity="0.47"/><stop offset="0.68" stop-opacity="0.47"/><stop offset="0.7" stop-opacity="0.47"/><stop offset="0.72" stop-opacity="0.47"/><stop offset="0.75" stop-opacity="0.47"/><stop offset="0.78" stop-opacity="0.4"/><stop offset="0.8" stop-opacity="0.33"/><stop offset="0.82" stop-opacity="0.27"/><stop offset="0.85" stop-opacity="0.2"/><stop offset="0.88" stop-opacity="0.16"/><stop offset="0.9" stop-opacity="0.11"/><stop offset="0.93" stop-opacity="0.07"/><stop offset="0.95" stop-opacity="0.04"/><stop offset="0.97" stop-opacity="0.02"/><stop offset="1" stop-opacity="0.01"/></linearGradient>
<linearGradient id="g45" x1="0" y1="0" x2="0" y2="1"><stop offset="0" stop-opacity="0.01"/><stop offset="0.03" stop-opacity="0.02"/><stop offset="0.05" stop-opacity="0.03"/><stop offset="0.07" stop-opacity="0.05"/><stop offset="0.1" stop-opacity="0.06"/><stop offset="0.12" stop-opacity="0.09"/><stop offset="0.15" stop-opacity="0.1"/><stop offset="0.17" stop-opacity="0.13"/><stop offset="0.2" stop-opacity="0.16"/><stop offset="0.23" stop-opacity="0.18"/><stop offset="0.25" stop-opacity="0.21"/><stop offset="0.28" stop-opacity="0.24"/><stop offset="0.3" stop-opacity="0.28"/><stop offset="0.33" stop-opacity="0.31"/><stop offset="0.35" stop-opacity="0.34"/><stop offset="0.38" stop-opacity="0.37"/><stop offset="0.4" stop-opacity="0.41"/><stop offset="0.42" stop-opacity="0.44"/><stop offset="0.45" stop-opacity="0.49"/><stop offset="0.47" stop-opacity="0.56"/><stop offset="0.5" stop-opacity="0.85"/><stop offset="0.53" stop-opacity="0.85"/><stop offset="0.55" stop-opacity="0.85"/><stop offset="0.57" stop-opacity="0.85"/><stop offset="0.6" stop-opacity="0.85"/><stop offset="0.62" stop-opacity="0.85"/><stop offset="0.65" stop-opacity="0.85"/><stop offset="0.68" stop-opacity="0.85"/><stop offset="0.7" stop-opacity="0.85"/><stop offset="0.72" stop-opacity="0.85"/><stop offset="0.75" stop-opacity="0.85"/><stop offset="0.78" stop-opacity="0.85"/><stop offset="0.8" stop-opacity="0.85"/><stop offset="0.82" stop-opacity="0.85"/><stop offset="0.85" stop-opacity="0.85"/><stop offset="0.88" stop-opacity="0.85"/><stop offset="0.9" stop-opacity="0.85"/><stop offset="0.93" stop-opacity="0.85"/><stop offset="0.95" stop-opacity="0.85"/><stop offset="0.97" stop-opacity="0.16"/><stop offset="1" stop-opacity="0.01"/></linearGradient>
<linearGradient id="g46" x1="0" y1="0" x2="0" y2="1"><stop offset="0" stop-opacity="0.01"/><stop offset="0.03" stop-opacity="0.01"/><stop offset="0.05" stop-opacity="0.03"/><stop offset="0.07" stop-opacity="0.04"/><stop offset="0.1" stop-opacity="0.06"/><stop offset="0.12" stop-opacity="0.09"/><stop offset="0.15" stop-opacity="0.11"/><stop offset="0.17" stop-opacity="0.15"/><stop offset="0.2" stop-opacity="0.18"/><stop offset="0.23" stop-opacity="0.21"/><stop offset="0.25" stop-opacity="0.26"/><stop offset="0.28" stop-opacity="0.3"/><stop offset="0.3" stop-opacity="0.34"/><stop offset="0.33" stop-opacity="0.39"/><stop offset="0.35" stop-opacity="0.42"/><stop offset="0.38" stop-opacity="0.42"/><stop offset="0.4" stop-opacity="0.42"/><stop offset="0.42" stop-opacity="0.42"/><stop offset="0.45" stop-opacity="0.42"/><stop offset="0.47" stop-opacity="0.42"/><stop offset="0.5" stop-opacity="0.42"/><stop offset="0.53" stop-opacity="0.42"/><stop offset="0.55" stop-opacity="0.42"/><stop offset="0.57" stop-opacity="0.42"/><stop offset="0.6" stop-opacity="0.42"/><stop offset="0.62" stop-opacity="0.42"/><stop offset="0.65" stop-opacity="0.42"/><stop offset="0.68" stop-opacity="0.42"/><stop offset="0.7" stop-opacity="0.42"/><stop offset="0.72" stop-opacity="0.42"/><stop offset="0.75" stop-opacity="0.42"/><stop offset="0.78" stop-opacity="0.42"/><stop offset="0.8" stop-opacity="0.42"/><stop offset="0.82" stop-opacity="0.42"/><stop offset="0.85" stop-opacity="0.42"/><stop offset="0.88" stop-opacity="0.3"/><stop offset="0.9" stop-opacity="0.2"/><stop offset="0.93" stop-opacity="0.13"/><stop offset="0.95" stop-opacity="0.06"/><stop offset="0.97" stop-opacity="0.03"/><stop offset="1" stop-opacity="0.01"/></linearGradient>
<linearGradient id="g47" x1="0" y1="0" x2="0" y2="1"><stop offset="0" stop-opacity="0.01"/><stop offset="0.03" stop-opacity="0.02"/><stop offset="0.05" stop-opacity="0.03"/><stop offset="0.07" stop-opacity="0.05"/><stop offset="0.1" stop-opacity="0.06"/><stop offset="0.12" stop-opacity="0.09"/><stop offset="0.15" stop-opacity="0.1"/><stop offset="0.17" stop-opacity="0.13"/><stop offset="0.2" stop-opacity="0.16"/><stop offset="0.23" stop-opacity="0.18"/><stop offset="0.25" stop-opacity="0.21"/><stop offset="0.28" stop-opacity="0.24"/><stop offset="0.3" stop-opacity="0.28"/><stop offset="0.33" stop-opacity="0.31"/><stop offset="0.35" stop-opacity="0.34"/><stop offset="0.38" stop-opacity="0.37"/><stop offset="0.4" stop-opacity="0.41"/><stop offset="0.42" stop-opacity="0.44"/><stop offset="0.45" stop-opacity="0.49"/><stop offset="0.47" stop-opacity="0.56"/><stop offset="0.5" stop-opacity="0.85"/><stop offset="0.53" stop-opacity="0.85"/><stop offset="0.55" stop-opacity="0.85"/><stop offset="0.57" stop-opacity="0.85"/><stop offset="0.6" stop-opacity="0.85"/><stop offset="0.62" stop-opacity="0.85"/><stop offset="0.65" stop-opacity="0.85"/><stop offset="0.68" stop-opacity="0.85"/><stop offset="0.7" stop-opacity="0.85"/><stop offset="0.72" stop-opacity="0.85"/><stop offset="0.75" stop-opacity="0.85"/><stop offset="0.78" stop-opacity="0.85"/><stop offset="0.8" stop-opacity="0.85"/><stop offset="0.82" stop-opacity="0.85"/><stop offset="0.85" stop-opacity="0.85"/><stop offset="0.88" stop-opacity="0.85"/><stop offset="0.9" stop-opacity="0.85"/><stop offset="0.93" stop-opacity="0.85"/><stop offset="0.95" stop-opacity="0.85"/><stop offset="0.97" stop-opacity="0.16"/><stop offset="1" stop-opacity="0.01"/></linearGradient>
<linearGradient id="g48" x1="0" y1="0" x2="0" y2="1"><stop offset="0" stop-opacity="0.01"/><stop offset="0.03" stop-opacity="0.01"/><stop offset="0.05" stop-opacity="0.03"/><stop offset="0.07" stop-opacity="0.04"/><stop offset="0.1" stop-opacity="0.06"/><stop offset="0.12" stop-opacity="0.09"/><stop offset="0.15" stop-opacity="0.12"/><stop offset="0.17" stop-opacity="0.15"/><stop offset="0.2" stop-opacity="0.19"/><stop offset="0.23" stop-opacity="0.22"/><stop offset="0.25" stop-opacity="0.27"/><stop offset="0.28" stop-opacity="0.31"/><stop offset="0.3" stop-opacity="0.35"/><stop offset="0.33" stop-opacity="0.4"/><stop offset="0.35" stop-opacity="0.42"/><stop offset="0.38" stop-opacity="0.42"/><stop offset="0.4" stop-opacity="0.42"/><stop offset="0.42" stop-opacity="0.42"/><stop offset="0.45" stop-opacity="0.42"/><stop offset="0.47" stop-opacity="0.42"/><stop offset="0.5" stop-opacity="0.42"/><stop offset="0.53" stop-opacity="0.42"/><stop offset="0.55" stop-opacity="0.42"/><stop offset="0.57" stop-opacity="0.42"/><stop offset="0.6" stop-opacity="0.42"/><stop offset="0.62" stop-opacity="0.42"/><stop offset="0.65" stop-opacity="0.42"/><stop offset="0.68" stop-opacity="0.42"/><stop offset="0.7" stop-opacity="0.42"/><stop offset="0.72" stop-opacity="0.42"/><stop offset="0.75" stop-opacity="0.42"/><stop offset="0.78" stop-opacity="0.42"/><stop offset="0.8" stop-opacity="0.42"/><stop offset="0.82" stop-opacity="0.42"/><stop offset="0.85" stop-opacity="0.34"/><stop offset="0.88" stop-opacity="0.25"/><stop offset="0.9" stop-opacity="0.17"/><stop offset="0.93" stop-opacity="0.1"/><stop offset="0.95" stop-opacity="0.05"/><stop offset="0.97" stop-opacity="0.02"/><stop offset="1" stop-opacity="0.01"/></linearGradient></defs><rect width="1772" height="517" fill="#fff"/>
<line x1="127.8" y1="53.5" x2="127.8" y2="470" stroke="#9c9c9c" stroke-width="1" stroke-dasharray="3 2"/>
<line x1="194.2" y1="53.5" x2="194.2" y2="470" stroke="#9c9c9c" stroke-width="1" stroke-dasharray="3 2"/>
<line x1="262.7" y1="53.5" x2="262.7" y2="470" stroke="#9c9c9c" stroke-width="1" stroke-dasharray="3 2"/>
<line x1="331.6" y1="53.5" x2="331.6" y2="470" stroke="#9c9c9c" stroke-width="1" stroke-dasharray="3 2"/>
<line x1="395.6" y1="53.5" x2="395.6" y2="470" stroke="#9c9c9c" stroke-width="1" stroke-dasharray="3 2"/>
<line x1="463" y1="53.5" x2="463" y2="470" stroke="#9c9c9c" stroke-width="1" stroke-dasharray="3 2"/>
<line x1="525.8" y1="53.5" x2="525.8" y2="470" stroke="#9c9c9c" stroke-width="1" stroke-dasharray="3 2"/>
<path fill="none" stroke="#8e8e8e" stroke-width="1.6" d="M586.5 63.5h1.6m-104.1 13.5h1.6m5.9 1.5h1.6m-10.1 2.5h1.6m99.9 3h1.6m-120.6 2.5h1.6m65.4 2.5h1.6m-36.6 1h1.6m64.9 0h1.6m-100.6 1.5h1.6m75.4 0h1.6m39.4 0.5h1.6m-187.1 16h1.6m34.9 16h1.6m-66.6 5.5h1.6m46.9 0.5h1.6m-2.6 1.5h1.6m14.9 0h1.6m-53.6 9h1.6m19.4 0.5h1.6m-42.1 1.5h1.6m10.4 3h1.6m79.4 0h1.6m-43.1 0.5h1.6m44.9 0h1.6m-103.1 1.5h1.6m24.4 1.5h1.6m-42.6 1h1.6m21.9 0.5h1.6m10.9 1.5h1.6m108.4 5h1.6m20.4 0.5h1.6m-20.6 2h1.6m68.9 0h1.6m4.4 0h1.6m-100.1 0.5h1.6m28.9 0h1.6m-0.1 0h1.6m-29.1 0.5h1.6m30.4 0h1.6m53.9 0h1.6m-1.1 0h1.6m15.4 0h1.6m-60.1 0.5h1.6m-26.6 2h1.6m13.9 0h1.6m22.9 0h1.6m12.4 0h1.6m-82.6 0.5h1.6m89.4 0h1.6m13.9 0.5h1.6m-54.1 0.5h1.6m-34.6 0.5h1.6m6.4 0.5h1.6m19.4 0.5h1.6m-29.6 1h1.6m93.9 0h1.6m-83.1 1h1.6m11.4 0.5h1.6m16.9 0.5h1.6m19.4 0h1.6m10.4 0.5h1.6m5.9 0h1.6m-28.1 0.5h1.6m-70.6 0.5h1.6m2.9 0h1.6m18.4 0.5h1.6m5.4 0h1.6m-3.1 0.5h1.6m-9.6 0.5h1.6m0.9 0.5h1.6m14.9 1h1.6m59.4 0h1.6m-110.6 1h1.6m31.9 0.5h1.6m-30.6 0.5h1.6m-11.1 0.5h1.6m68.4 0h1.6m-75.1 1h1.6m66.9 0h1.6m-3.6 0.5h1.6m-39.6 0.5h1.6m67.4 0h1.6m-99.6 0.5h1.6m72.9 0h1.6m13.4 0h1.6m-67.6 0.5h1.6m27.9 1.5h1.6m14.9 0h1.6m16.9 0h1.6m13.9 1h1.6m-82.1 0.5h1.6m23.9 0h1.6m32.9 0h1.6m11.4 0h1.6m-95.1 0.5h1.6m4.4 0.5h1.6m66.4 0h1.6m5.9 0h1.6m4.4 0h1.6m-40.6 0.5h1.6m11.9 0h1.6m0.4 1h1.6m5.4 0h1.6m-22.6 0.5h1.6m-20.1 3h1.6m-221.6 1h1.6m14.4 0h1.6m277.9 0h1.6m-87.1 1.5h1.6m-1.1 0.5h1.6m89.9 0h1.6m-92.1 0.5h1.6m44.9 0h1.6m-21.1 1h1.6m31.4 0.5h1.6m-51.1 0.5h1.6m9.4 0h1.6m-41.6 0.5h1.6m99.4 0.5h1.6m-268.1 0.5h1.6m167.9 0h1.6m-2.1 0.5h1.6m73.9 0.5h1.6m-83.6 1h1.6m90.9 0h1.6m-86.1 0.5h1.6m52.4 0h1.6m9.4 1.5h1.6m-238.1 0.5h1.6m236.9 0h1.6m-276.6 0.5h1.6m235.9 0h1.6m-180.1 0.5h1.6m154.4 1h1.6m-188.6 0.5h1.6m3.9 0h1.6m181.9 0h1.6m-202.1 0.5h1.6m13.9 0.5h1.6m1.9 1.5h1.6m-6.6 0.5h1.6m124.4 0h1.6m-46.6 0.5h1.6m6.4 0h1.6m20.9 0h1.6m30.4 0h1.6m61.4 0h1.6m-121.1 0.5h1.6m24.4 0h1.6m4.4 0h1.6m154.9 0h1.6m-237.1 0.5h1.6m34.9 0h1.6m38.4 0h1.6m128.9 0h1.6m-179.1 0.5h1.6m8.4 0.5h1.6m17.9 0h1.6m9.4 0h1.6m92.9 0h1.6m46.4 0h1.6m-110.1 0.5h1.6m0.4 0h1.6m-23.6 0.5h1.6m-43.1 0.5h1.6m163.4 0h1.6m-204.1 0.5h1.6m7.4 0h1.6m71.4 0h1.6m102.9 0h1.6m-128.1 1h1.6m-24.1 0.5h1.6m177.9 0h1.6m-192.6 1h1.6m31.4 0h1.6m15.4 0h1.6m21.4 0h1.6m-98.1 0.5h1.6m72.9 0h1.6m34.4 0h1.6m-27.1 0.5h1.6m-85.1 0.5h1.6m35.4 0h1.6m58.4 0h1.6m-106.6 0.5h1.6m72.4 0h1.6m37.9 0h1.6m-32.6 0.5h1.6m14.9 0.5h1.6m-61.6 0.5h1.6m174.9 0h1.6m-203.6 0.5h1.6m18.4 0h1.6m68.9 0h1.6m24.9 0h1.6m22.4 0h1.6m12.4 0h1.6m-157.6 0.5h1.6m66.4 0h1.6m49.4 0h1.6m68.4 0h1.6m-191.6 0.5h1.6m0.4 0h1.6m43.9 0h1.6m69.4 0h1.6m15.4 0h1.6m-146.1 0.5h1.6m199.9 0h1.6m-161.1 0.5h1.6m57.4 0h1.6m-39.6 0.5h1.6m16.9 0h1.6m-21.6 0.5h1.6m123.4 0h1.6m-172.6 0.5h1.6m13.9 0h1.6m30.4 0h1.6m3.9 0h1.6m42.9 0h1.6m-50.1 0.5h1.6m3.9 0h1.6m24.9 0h1.6m33.4 0h1.6m11.4 0h1.6m-115.1 0.5h1.6m64.4 0h1.6m126.4 0h1.6m-224.1 1h1.6m30.9 0h1.6m22.4 0h1.6m54.9 0h1.6m79.9 0.5h1.6m-171.1 0.5h1.6m164.9 0.5h1.6m-65.1 0.5h1.6m88.9 0h1.6m-1.1 0.5h1.6m-200.1 0.5h1.6m62.9 0h1.6m-90.6 1h1.6m10.9 0h1.6m52.9 0h1.6m92.9 0h1.6m-131.1 0.5h1.6m-39.6 1h1.6m122.4 0h1.6m116.4 0h1.6m2.9 0h1.6m-182.1 1h1.6m-40.1 0.5h1.6m18.4 0h1.6m149.4 0h1.6m-34.6 1h1.6m-76.1 1h1.6m18.9 0h1.6m45.4 0h1.6m-48.1 0.5h1.6m27.9 0h1.6m95.4 0h1.6m8.9 0h1.6m-175.6 1h1.6m37.4 0h1.6m-97.1 1h1.6m43.9 0h1.6m23.4 0h1.6m51.9 0h1.6m-64.1 0.5h1.6m63.4 0h1.6m-126.6 0.5h1.6m-0.1 0h1.6m14.9 0h1.6m14.4 0h1.6m95.9 0h1.6m71.9 0h1.6m-189.1 1h1.6m-1.1 0h1.6m78.4 0h1.6m36.4 0.5h1.6m51.9 0h1.6m-87.6 0.5h1.6m7.9 0h1.6m41.9 0h1.6m-62.6 0.5h1.6m34.9 0h1.6m-133.1 0.5h1.6m67.4 0h1.6m11.4 0h1.6m81.4 0h1.6m46.4 0h1.6m-148.1 0.5h1.6m-60.1 0.5h1.6m0.9 0h1.6m43.9 0h1.6m33.9 0.5h1.6m72.9 0h1.6m15.9 0h1.6m-40.1 0.5h1.6m-158.6 0.5h1.6m78.9 0h1.6m-86.1 0.5h1.6m18.9 0h1.6m64.9 0h1.6m99.4 0h1.6m29.9 0h1.6m-0.1 0h1.6m-186.6 0.5h1.6m89.4 0h1.6m-0.6 0h1.6m5.9 0h1.6m5.9 0h1.6m-135.6 0.5h1.6m193.9 0h1.6m26.9 0h1.6m-90.6 0.5h1.6m-1.1 0h1.6m-139.1 1h1.6m186.4 0h1.6m-190.1 1h1.6m38.9 0h1.6m184.9 0h1.6m-66.1 0.5h1.6m65.4 0.5h1.6m8.4 0h1.6m-239.6 0.5h1.6m204.4 0h1.6m-200.6 0.5h1.6m96.4 0h1.6m-39.1 0.5h1.6m-41.1 0.5h1.6m186.9 0h1.6m-28.1 0.5h1.6m-187.1 0.5h1.6m157.4 0h1.6m55.4 0h1.6m-165.1 0.5h1.6m39.9 0h1.6m72.4 0.5h1.6m29.9 0h1.6m-16.1 0.5h1.6m0.9 0h1.6m-160.6 1.5h1.6m48.9 0h1.6m134.9 0h1.6m3.4 0h1.6m-285.1 0.5h1.6m27.9 0h1.6m17.4 0h1.6m78.4 0h1.6m-143.1 0.5h1.6m32.9 0h1.6m85.9 0h1.6m150.9 0h1.6m23.9 0h1.6m-300.1 1h1.6m21.9 0h1.6m194.9 0h1.6m-204.6 0.5h1.6m28.4 0h1.6m215.9 0h1.6m-260.6 0.5h1.6m14.9 0h1.6m32.4 0h1.6m136.4 0h1.6m-158.1 1h1.6m-36.6 0.5h1.6m36.4 0h1.6m168.4 0h1.6m-176.6 0.5h1.6m34.9 0h1.6m71.4 0h1.6m-0.1 0h1.6m28.4 0h1.6m-122.6 0.5h1.6m27.9 0h1.6m19.4 0h1.6m104.4 0h1.6m50.9 0h1.6m17.9 0h1.6m-274.6 0.5h1.6m12.9 0h1.6m250.4 0h1.6m10.4 0h1.6m-257.1 0.5h1.6m11.9 0h1.6m19.9 0h1.6m59.9 0h1.6m8.9 0h1.6m107.4 0h1.6m-186.1 0.5h1.6m15.4 0h1.6m101.9 0h1.6m104.9 0h1.6m-291.1 0.5h1.6m-1.1 0h1.6m201.4 0h1.6m84.4 0h1.6m-284.6 0.5h1.6m89.9 0h1.6m47.4 0h1.6m132.9 0h1.6m-290.1 0.5h1.6m77.9 0.5h1.6m192.9 0h1.6m-192.6 0.5h1.6m129.4 0h1.6m68.9 0h1.6m27.4 0h1.6m-309.1 1h1.6m25.9 0h1.6m112.4 0h1.6m-39.6 0.5h1.6m190.4 0h1.6m-96.6 0.5h1.6m-0.6 0h1.6m71.9 0h1.6m8.9 0h1.6m-273.1 0.5h1.6m60.9 0h1.6m-92.6 0.5h1.6m98.4 0h1.6m92.4 0h1.6m17.9 0h1.6m13.9 0h1.6m-128.6 0.5h1.6m13.9 0h1.6m-116.1 0.5h1.6m22.9 0h1.6m77.4 0h1.6m109.9 0h1.6m-173.6 0.5h1.6m-21.1 0.5h1.6m128.4 0h1.6m43.9 0h1.6m26.4 0.5h1.6m-202.1 0.5h1.6m51.9 0h1.6m161.9 0h1.6m-213.1 0.5h1.6m17.9 0h1.6m16.4 0h1.6m-118.1 0.5h1.6m42.9 0h1.6m9.9 0h1.6m104.4 0h1.6m5.4 0h1.6m32.9 0h1.6m133.9 0h1.6m-290.6 0.5h1.6m198.4 0h1.6m14.9 0h1.6m75.9 0h1.6m-296.1 0.5h1.6m20.4 0h1.6m5.9 0h1.6m110.4 0h1.6m-200.1 0.5h1.6m62.4 0h1.6m279.4 0.5h1.6m-279.1 0.5h1.6m25.9 0h1.6m157.4 0h1.6m63.4 0h1.6m43.9 0h1.6m-295.1 0.5h1.6m5.4 0h1.6m293.9 0h1.6m-286.1 0.5h1.6m0.4 0h1.6m190.4 0h1.6m36.9 0h1.6m-268.1 0.5h1.6m5.4 0h1.6m205.4 0h1.6m60.4 0h1.6m-63.6 0.5h1.6m22.9 0h1.6m2.9 0h1.6m-200.6 0.5h1.6m39.4 0h1.6m-57.1 0.5h1.6m55.4 0h1.6m9.9 0h1.6m-45.6 0.5h1.6m11.9 0h1.6m29.4 0h1.6m126.9 0h1.6m-181.6 0.5h1.6m83.9 0h1.6m55.4 0h1.6m-182.1 0.5h1.6m32.4 0h1.6m188.4 0h1.6m-306.6 0.5h1.6m137.4 0h1.6m73.4 0h1.6m21.4 0h1.6m77.9 0h1.6m3.9 0h1.6m-251.6 0.5h1.6m153.4 0h1.6m57.9 0h1.6m19.4 0h1.6m-38.1 0.5h1.6m-177.1 0.5h1.6m14.9 0.5h1.6m-0.6 0h1.6m122.4 0h1.6m2.4 0h1.6m18.4 0h1.6m-148.6 0.5h1.6m99.9 0h1.6m77.4 0h1.6m10.4 0h1.6m15.9 0h1.6m-132.1 0.5h1.6m84.9 0h1.6m15.4 0h1.6m-161.1 0.5h1.6m114.4 0h1.6m-86.6 0.5h1.6m38.9 0h1.6m-121.1 0.5h1.6m28.9 0h1.6m93.9 0h1.6m-139.1 0.5h1.6m14.4 0.5h1.6m114.4 0h1.6m72.4 0h1.6m-164.1 0.5h1.6m58.9 0h1.6m39.4 0h1.6m58.4 0h1.6m-168.1 0.5h1.6m110.4 0h1.6m42.9 0h1.6m-188.1 0.5h1.6m122.9 0h1.6m-62.1 0.5h1.6m0.4 0h1.6m8.9 0h1.6m14.4 0h1.6m53.9 0h1.6m8.4 0h1.6m-162.6 0.5h1.6m34.4 0h1.6m30.4 0h1.6m85.4 0h1.6m-24.1 0.5h1.6m-69.6 0.5h1.6m51.4 0h1.6m22.4 0h1.6m13.4 0h1.6m10.9 0h1.6m-238.1 0.5h1.6m125.4 0h1.6m19.9 0h1.6m-114.6 0.5h1.6m24.4 0h1.6m3.4 0.5h1.6m231.4 0h1.6m-246.6 0.5h1.6m102.4 0h1.6m69.4 0h1.6m-167.1 0.5h1.6m77.9 0h1.6m-40.1 0.5h1.6m37.9 0h1.6m40.9 0h1.6m2.4 0.5h1.6m7.4 0h1.6m22.9 0h1.6m-166.6 0.5h1.6m-0.1 0h1.6m22.9 0h1.6m20.9 0h1.6m-24.1 1h1.6m92.4 0h1.6m20.9 0h1.6m25.9 0.5h1.6m-39.6 0.5h1.6m-131.1 0.5h1.6m41.9 0h1.6m92.4 0h1.6m-13.1 0.5h1.6m14.4 0.5h1.6m-73.1 0.5h1.6m41.4 0h1.6m45.9 0h1.6m-40.1 0.5h1.6m-102.6 0.5h1.6m78.9 0h1.6m-86.6 0.5h1.6m25.4 0h1.6m133.4 0h1.6m-163.1 0.5h1.6m113.4 0h1.6m-142.1 0.5h1.6m46.4 0h1.6m20.9 0h1.6m44.4 0h1.6m-104.1 0.5h1.6m122.9 0h1.6m-143.1 0.5h1.6m2.4 0h1.6m38.4 0.5h1.6m91.9 0h1.6m23.9 1.5h1.6m-39.6 1h1.6m-112.6 0.5h1.6m29.9 0h1.6m112.4 0h1.6m-74.1 0.5h1.6m14.4 0h1.6m42.4 0h1.6m43.9 0h1.6m-174.6 0.5h1.6m101.9 0h1.6m-107.6 0.5h1.6m86.9 0h1.6m82.9 0h1.6m-34.6 0.5h1.6m-136.6 1.5h1.6m0.4 0h1.6m18.4 0h1.6m99.4 0h1.6m-29.1 1h1.6m41.9 0h1.6m-114.1 0.5h1.6m140.9 0.5h1.6m-185.6 1h1.6m9.9 0h1.6m63.9 0h1.6m86.9 0h1.6m-118.1 0.5h1.6m47.9 0h1.6m65.9 0h1.6m-139.6 0.5h1.6m130.4 0h1.6m7.4 0h1.6m-49.6 0.5h1.6m50.9 0.5h1.6m5.9 0h1.6m-189.6 1h1.6m116.9 0h1.6m-39.6 0.5h1.6m17.9 0h1.6m17.9 0h1.6m-98.1 0.5h1.6m166.9 0h1.6m-0.6 0h1.6m-157.6 0.5h1.6m131.4 0h1.6m-94.1 0.5h1.6m81.9 0h1.6m-117.1 0.5h1.6m136.4 0.5h1.6m-147.1 1h1.6m12.9 0h1.6m86.4 0h1.6m3.9 0h1.6m7.4 0.5h1.6m-20.6 0.5h1.6m-32.1 0.5h1.6m-43.6 0.5h1.6m80.4 0h1.6m16.9 0h1.6m-71.1 0.5h1.6m44.4 0h1.6m-20.6 0.5h1.6m26.4 0h1.6m-143.6 0.5h1.6m74.4 0h1.6m-77.1 0.5h1.6m1.4 0.5h1.6m18.9 0h1.6m61.9 0h1.6m-122.6 1h1.6m73.9 0h1.6m-83.6 0.5h1.6m112.9 0h1.6m-151.6 0.5h1.6m-1.1 0h1.6m126.9 0h1.6m-127.6 0.5h1.6m19.9 0.5h1.6m-4.6 0.5h1.6m64.9 0h1.6m-61.6 0.5h1.6m45.9 0h1.6m-53.1 0.5h1.6m55.4 0h1.6m-56.1 0.5h1.6m135.4 0.5h1.6m-192.1 0.5h1.6m26.9 0h1.6m101.9 0h1.6m-81.1 0.5h1.6m63.9 0h1.6m-54.6 0.5h1.6m17.4 0h1.6m48.9 0.5h1.6m-33.6 0.5h1.6m48.4 0h1.6m-113.6 0.5h1.6m58.4 0h1.6m78.9 0h1.6m-125.1 0.5h1.6m7.9 0h1.6m-19.1 0.5h1.6m73.4 0h1.6m39.9 0h1.6m34.9 0.5h1.6m4.9 0h1.6m-163.6 0.5h1.6m115.4 0h1.6m32.4 0h1.6m-124.6 0.5h1.6m8.9 0h1.6m111.9 0h1.6m-83.1 0.5h1.6m2.4 0h1.6m23.9 0h1.6m5.4 0h1.6m-54.1 0.5h1.6m78.4 0.5h1.6m-128.1 0.5h1.6m75.4 0h1.6m30.4 0h1.6m-87.6 0.5h1.6m39.4 0h1.6m45.4 0h1.6m-151.1 0.5h1.6m149.4 0h1.6m26.9 0.5h1.6m2.9 0h1.6m18.4 0h1.6m-184.6 0.5h1.6m66.9 0h1.6m22.9 0h1.6m9.4 0h1.6m59.9 0h1.6m-39.6 0.5h1.6m20.4 0h1.6m-85.6 0.5h1.6m29.9 0h1.6m-99.1 0.5h1.6m71.9 0h1.6m18.4 0h1.6m83.9 0h1.6m-167.1 0.5h1.6m-43.1 1h1.6m95.9 0h1.6m-66.6 0.5h1.6m66.4 2h1.6m18.9 2h1.6m16.9 0h1.6m-48.1 0.5h1.6m5.4 0h1.6m-26.6 0.5h1.6m13.9 0.5h1.6m30.9 0.5h1.6m22.9 0h1.6m-3.6 0.5h1.6m-104.6 0.5h1.6m47.4 0h1.6m-38.1 0.5h1.6m54.9 0h1.6m6.4 0.5h1.6m6.4 0h1.6m20.4 1h1.6m-112.6 1h1.6m48.9 0h1.6m0.4 0.5h1.6m-70.6 0.5h1.6m68.9 0h1.6m55.9 0h1.6m-74.6 1h1.6m9.9 0.5h1.6m-0.6 0h1.6m13.9 0h1.6m-56.6 1.5h1.6m87.9 0h1.6m-27.6 1h1.6m21.4 0h1.6m-104.6 0.5h1.6m109.4 0.5h1.6m-89.6 0.5h1.6m11.4 0h1.6m60.9 0h1.6m-29.1 1h1.6m21.9 0h1.6m2.9 0h1.6m1.4 0h1.6m-57.1 0.5h1.6m9.4 0h1.6m49.9 0h1.6m-39.6 1h1.6m-15.1 0.5h1.6m15.4 0.5h1.6m24.9 0h1.6m-116.6 0.5h1.6m102.4 0h1.6m-21.1 0.5h1.6m4.4 0.5h1.6m33.9 0h1.6m-103.6 0.5h1.6m66.4 0h1.6m-13.6 0.5h1.6m-6.6 0.5h1.6m15.4 0.5h1.6m-84.6 0.5h1.6m13.4 0.5h1.6m21.9 0h1.6m33.4 0h1.6m21.9 0h1.6m-75.1 0.5h1.6m36.4 0h1.6m32.9 0.5h1.6m16.9 0.5h1.6m-20.6 0.5h1.6m-1.6 0.5h1.6m-1.1 0h1.6m-64.1 0.5h1.6m39.4 0h1.6m-146.1 0.5h1.6m131.4 0h1.6m34.4 0h1.6m-169.6 0.5h1.6m39.4 0h1.6m48.9 0h1.6m11.4 0h1.6m44.9 0h1.6m4.9 0h1.6m-39.1 0.5h1.6m-79.6 0.5h1.6m37.9 0.5h1.6m-71.1 1h1.6m25.4 0.5h1.6m47.9 0h1.6m-30.6 0.5h1.6m-47.1 0.5h1.6m13.9 0h1.6m17.4 0.5h1.6m16.4 1h1.6m-61.1 0.5h1.6m80.9 0h1.6m3.4 0h1.6m-29.6 0.5h1.6m28.4 0h1.6m-99.1 0.5h1.6m73.4 4h1.6m-59.1 0.5h1.6m13.4 0h1.6m58.9 0h1.6m-83.6 1.5h1.6m23.9 0h1.6m-27.6 0.5h1.6m91.9 0h1.6m-74.1 1.5h1.6m9.9 1h1.6m58.9 0h1.6m14.9 0h1.6m-120.1 2h1.6m6.4 0h1.6m58.4 0h1.6m-73.1 0.5h1.6m71.4 0.5h1.6m11.9 0.5h1.6m-89.1 0.5h1.6m44.4 0h1.6m-20.6 1.5h1.6m-3.6 0.5h1.6m95.9 1h1.6m-33.1 0.5h1.6m15.9 0.5h1.6m0.4 2h1.6m-82.1 0.5h1.6m51.9 0h1.6m-86.1 2h1.6m10.9 0h1.6m86.9 0h1.6m-119.6 0.5h1.6m61.9 0h1.6m17.4 0.5h1.6m-68.1 1h1.6m41.9 0h1.6m65.9 0.5h1.6m-15.1 0.5h1.6m17.9 0.5h1.6m-60.6 0.5h1.6m7.4 0.5h1.6m8.4 0.5h1.6m27.9 0.5h1.6m-39.1 1h1.6m53.9 0h1.6m-30.6 0.5h1.6m25.4 0h1.6m-88.6 2h1.6m10.4 0h1.6m58.9 0.5h1.6m-71.6 1.5h1.6m51.4 0h1.6m-70.6 1h1.6m48.9 0.5h1.6m-60.1 1.5h1.6m51.9 0h1.6m-4.1 1.5h1.6m53.4 0.5h1.6m-29.1 0.5h1.6m-54.1 1h1.6m73.4 0h1.6m-158.1 1.5h1.6m72.9 1h1.6m-90.1 0.5h1.6m86.4 0.5h1.6m8.4 0.5h1.6m-95.1 1h1.6m36.9 0h1.6m-55.1 0.5h1.6m-0.1 0h1.6m37.9 0h1.6m-35.6 0.5h1.6m80.9 0h1.6m-40.6 0.5h1.6m72.9 0h1.6m-118.1 1.5h1.6m73.4 0h1.6m-31.1 2.5h1.6m40.4 1h1.6m22.9 0h1.6m-123.1 1h1.6m39.9 0h1.6m23.4 0.5h1.6m-56.6 0.5h1.6m6.9 0h1.6m65.4 1h1.6m-61.1 1.5h1.6m41.9 0h1.6m1.9 0.5h1.6m-2.1 1h1.6m-71.6 1h1.6m14.9 0.5h1.6m-4.1 0.5h1.6m65.4 0.5h1.6m20.9 0h1.6m-9.6 0.5h1.6m-46.6 1.5h1.6m-55.1 0.5h1.6m25.4 1.5h1.6m-20.6 1h1.6m-6.1 2h1.6m54.4 0h1.6m-26.6 2.5h1.6m-18.6 0.5h1.6m20.4 3.5h1.6m-29.6 1h1.6m-13.6 1.5h1.6"/>
<rect x="63" y="444.93" width="63.8" height="11.64" fill="url(#g1)" filter="url(#fG)"/>
<rect x="63" y="394.23" width="63.8" height="17.94" fill="url(#g2)" filter="url(#fA)"/>
<rect x="128.8" y="428.28" width="64.4" height="16.81" fill="url(#g3)" filter="url(#fG)"/>
<rect x="128.8" y="335.87" width="64.4" height="29.84" fill="url(#g4)" filter="url(#fA)"/>
<rect x="195.2" y="408.34" width="66.5" height="19.19" fill="url(#g5)" filter="url(#fG)"/>
<rect x="195.2" y="285.25" width="66.5" height="38.76" fill="url(#g6)" filter="url(#fA)"/>
<rect x="263.7" y="355.86" width="66.9" height="35.84" fill="url(#g7)" filter="url(#fG)"/>
<rect x="263.7" y="204.61" width="66.9" height="52.5" fill="url(#g8)" filter="url(#fA)"/>
<rect x="332.6" y="325.91" width="62" height="39.93" fill="url(#g9)" filter="url(#fG)"/>
<rect x="332.6" y="154.63" width="62" height="60.61" fill="url(#g10)" filter="url(#fA)"/>
<rect x="396.6" y="307.4" width="65.4" height="40.88" fill="url(#g11)" filter="url(#fG)"/>
<rect x="396.6" y="147.3" width="65.4" height="65.88" fill="url(#g12)" filter="url(#fA)"/>
<rect x="464" y="274.75" width="60.8" height="52.26" fill="url(#g13)" filter="url(#fG)"/>
<rect x="464" y="94.3" width="60.8" height="71.95" fill="url(#g14)" filter="url(#fA)"/>
<rect x="526.8" y="258.04" width="63.2" height="61.53" fill="url(#g15)" filter="url(#fG)"/>
<rect x="526.8" y="91.52" width="63.2" height="76.18" fill="url(#g16)" filter="url(#fA)"/>
<line x1="63" y1="428.5" x2="126.8" y2="428.5" stroke="#6a7db0" stroke-width="1.2"/>
<line x1="128.8" y1="393" x2="193.2" y2="393" stroke="#6a7db0" stroke-width="1.2"/>
<line x1="195.2" y1="360.2" x2="261.7" y2="360.2" stroke="#6a7db0" stroke-width="1.2"/>
<line x1="263.7" y1="308.8" x2="330.6" y2="308.8" stroke="#6a7db0" stroke-width="1.2"/>
<line x1="332.6" y1="268.9" x2="394.6" y2="268.9" stroke="#6a7db0" stroke-width="1.2"/>
<line x1="396.6" y1="257.6" x2="462" y2="257.6" stroke="#6a7db0" stroke-width="1.2"/>
<line x1="464" y1="221.9" x2="524.8" y2="221.9" stroke="#6a7db0" stroke-width="1.2"/>
<line x1="526.8" y1="216.3" x2="590" y2="216.3" stroke="#6a7db0" stroke-width="1.2"/>
<line x1="58.5" y1="55.5" x2="58.5" y2="468" stroke="#999" stroke-width="1.3"/>
<line x1="54.5" y1="468" x2="58.5" y2="468" stroke="#8c8c8c" stroke-width="1"/>
<line x1="56" y1="451.5" x2="58.5" y2="451.5" stroke="#8c8c8c" stroke-width="1"/>
<line x1="56" y1="435" x2="58.5" y2="435" stroke="#8c8c8c" stroke-width="1"/>
<line x1="56" y1="418.5" x2="58.5" y2="418.5" stroke="#8c8c8c" stroke-width="1"/>
<line x1="56" y1="402" x2="58.5" y2="402" stroke="#8c8c8c" stroke-width="1"/>
<line x1="54.5" y1="385.5" x2="58.5" y2="385.5" stroke="#8c8c8c" stroke-width="1"/>
<line x1="56" y1="369" x2="58.5" y2="369" stroke="#8c8c8c" stroke-width="1"/>
<line x1="56" y1="352.5" x2="58.5" y2="352.5" stroke="#8c8c8c" stroke-width="1"/>
<line x1="56" y1="336" x2="58.5" y2="336" stroke="#8c8c8c" stroke-width="1"/>
<line x1="56" y1="319.5" x2="58.5" y2="319.5" stroke="#8c8c8c" stroke-width="1"/>
<line x1="54.5" y1="303" x2="58.5" y2="303" stroke="#8c8c8c" stroke-width="1"/>
<line x1="56" y1="286.5" x2="58.5" y2="286.5" stroke="#8c8c8c" stroke-width="1"/>
<line x1="56" y1="270" x2="58.5" y2="270" stroke="#8c8c8c" stroke-width="1"/>
<line x1="56" y1="253.5" x2="58.5" y2="253.5" stroke="#8c8c8c" stroke-width="1"/>
<line x1="56" y1="237" x2="58.5" y2="237" stroke="#8c8c8c" stroke-width="1"/>
<line x1="54.5" y1="220.5" x2="58.5" y2="220.5" stroke="#8c8c8c" stroke-width="1"/>
<line x1="56" y1="204" x2="58.5" y2="204" stroke="#8c8c8c" stroke-width="1"/>
<line x1="56" y1="187.5" x2="58.5" y2="187.5" stroke="#8c8c8c" stroke-width="1"/>
<line x1="56" y1="171" x2="58.5" y2="171" stroke="#8c8c8c" stroke-width="1"/>
<line x1="56" y1="154.5" x2="58.5" y2="154.5" stroke="#8c8c8c" stroke-width="1"/>
<line x1="54.5" y1="138" x2="58.5" y2="138" stroke="#8c8c8c" stroke-width="1"/>
<line x1="56" y1="121.5" x2="58.5" y2="121.5" stroke="#8c8c8c" stroke-width="1"/>
<line x1="56" y1="105" x2="58.5" y2="105" stroke="#8c8c8c" stroke-width="1"/>
<line x1="56" y1="88.5" x2="58.5" y2="88.5" stroke="#8c8c8c" stroke-width="1"/>
<line x1="56" y1="72" x2="58.5" y2="72" stroke="#8c8c8c" stroke-width="1"/>
<line x1="54.5" y1="55.5" x2="58.5" y2="55.5" stroke="#8c8c8c" stroke-width="1"/>
<line x1="62" y1="470" x2="591" y2="470" stroke="#a0a0a0" stroke-width="1.5"/>
<line x1="94.9" y1="470" x2="94.9" y2="474" stroke="#8c8c8c" stroke-width="1"/>
<text x="91.1" y="489.2" text-anchor="middle" class="xl">50</text>
<line x1="161" y1="470" x2="161" y2="474" stroke="#8c8c8c" stroke-width="1"/>
<text x="157.2" y="489.2" text-anchor="middle" class="xl">100</text>
<line x1="228.45" y1="470" x2="228.45" y2="474" stroke="#8c8c8c" stroke-width="1"/>
<text x="224.65" y="489.2" text-anchor="middle" class="xl">200</text>
<line x1="297.15" y1="470" x2="297.15" y2="474" stroke="#8c8c8c" stroke-width="1"/>
<text x="293.35" y="489.2" text-anchor="middle" class="xl">300</text>
<line x1="363.6" y1="470" x2="363.6" y2="474" stroke="#8c8c8c" stroke-width="1"/>
<text x="359.8" y="489.2" text-anchor="middle" class="xl">400</text>
<line x1="429.3" y1="470" x2="429.3" y2="474" stroke="#8c8c8c" stroke-width="1"/>
<text x="425.5" y="489.2" text-anchor="middle" class="xl">500</text>
<line x1="494.4" y1="470" x2="494.4" y2="474" stroke="#8c8c8c" stroke-width="1"/>
<text x="490.6" y="489.2" text-anchor="middle" class="xl">600</text>
<line x1="558.4" y1="470" x2="558.4" y2="474" stroke="#8c8c8c" stroke-width="1"/>
<text x="554.6" y="489.2" text-anchor="middle" class="xl">700</text>
<text x="52" y="61.2" text-anchor="end" class="yl">25,000</text>
<text x="51.8" y="142.4" text-anchor="end" class="yl">20,000</text>
<text x="51.8" y="224.7" text-anchor="end" class="yl">15,000</text>
<text x="51.8" y="307.2" text-anchor="end" class="yl">10,000</text>
<text x="50.4" y="389.6" text-anchor="end" class="yl">5,000</text>
<text x="48.4" y="471.7" text-anchor="end" class="yl">0</text>
<text x="162.2" y="509.5" class="xt" textLength="317.6" lengthAdjust="spacingAndGlyphs">Probe concentrations of RD1 (nM)</text>
<text transform="translate(17.4 332) rotate(-90)" class="yt" style="font-size:21px" textLength="151" lengthAdjust="spacingAndGlyphs">Amplitude FAM</text>
<text x="4.5" y="28.7" class="letter">A</text>
<line x1="710.8" y1="53.3" x2="710.8" y2="471" stroke="#9c9c9c" stroke-width="1" stroke-dasharray="3 2"/>
<line x1="775.3" y1="53.3" x2="775.3" y2="471" stroke="#9c9c9c" stroke-width="1" stroke-dasharray="3 2"/>
<line x1="843.8" y1="53.3" x2="843.8" y2="471" stroke="#9c9c9c" stroke-width="1" stroke-dasharray="3 2"/>
<line x1="911.4" y1="53.3" x2="911.4" y2="471" stroke="#9c9c9c" stroke-width="1" stroke-dasharray="3 2"/>
<line x1="981" y1="53.3" x2="981" y2="471" stroke="#9c9c9c" stroke-width="1" stroke-dasharray="3 2"/>
<line x1="1050.4" y1="53.3" x2="1050.4" y2="471" stroke="#9c9c9c" stroke-width="1" stroke-dasharray="3 2"/>
<line x1="1114.7" y1="53.3" x2="1114.7" y2="471" stroke="#9c9c9c" stroke-width="1" stroke-dasharray="3 2"/>
<path fill="none" stroke="#a0cc68" stroke-width="1.6" d="M1081.5 73h1.6m15.4 7h1.6m52.4 5.5h1.6m-55.1 4h1.6m7.4 2h1.6m45.4 2h1.6m4.9 3.5h1.6m-45.6 1h1.6m7.4 0h1.6m-68.1 6.5h1.6m42.9 4h1.6m-50.1 45.5h1.6m-32.1 12h1.6m16.4 5h1.6m-16.6 3h1.6m15.4 3.5h1.6m-10.6 0.5h1.6m86.9 1.5h1.6m24.9 0.5h1.6m0.9 0.5h1.6m19.9 0.5h1.6m-87.1 1h1.6m63.9 0.5h1.6m-47.1 1h1.6m-58.6 0.5h1.6m50.9 0h1.6m2.9 0h1.6m51.4 0h1.6m6.4 0h1.6m-83.1 1.5h1.6m28.9 0.5h1.6m44.4 0h1.6m-101.1 0.5h1.6m19.9 0h1.6m58.9 0h1.6m-72.1 0.5h1.6m83.9 0h1.6m-91.6 1h1.6m86.9 1h1.6m-76.1 0.5h1.6m0.4 0h1.6m76.9 0h1.6m-46.6 0.5h1.6m-197.6 1h1.6m179.4 0h1.6m37.9 0h1.6m-57.1 0.5h1.6m75.9 0h1.6m-0.6 0h1.6m-44.6 1.5h1.6m-6.6 1.5h1.6m31.9 0h1.6m9.9 0h1.6m-73.6 1h1.6m-164.6 0.5h1.6m150.4 0h1.6m-1.1 0h1.6m1.4 0.5h1.6m4.9 1h1.6m-19.1 1.5h1.6m72.9 0h1.6m-232.1 0.5h1.6m45.9 0h1.6m108.9 0h1.6m37.4 0.5h1.6m10.4 0h1.6m1.4 0h1.6m-5.6 0.5h1.6m-25.1 2h1.6m-147.6 1h1.6m123.9 0.5h1.6m52.4 0h1.6m-49.6 0.5h1.6m2.9 0h1.6m48.4 0h1.6m-69.6 0.5h1.6m17.9 1h1.6m-31.1 0.5h1.6m17.9 0h1.6m60.4 1h1.6m0.4 0.5h1.6m-15.6 1h1.6m-59.6 0.5h1.6m0.9 1.5h1.6m82.4 1h1.6m-83.6 0.5h1.6m1.9 1.5h1.6m54.9 2h1.6m15.4 0h1.6m-96.1 1.5h1.6m33.4 1h1.6m-32.1 0.5h1.6m78.4 0h1.6m20.9 3h1.6m-48.6 0.5h1.6m5.4 1.5h1.6m27.9 0h1.6m-59.6 0.5h1.6m-119.1 0.5h1.6m18.4 0h1.6m35.4 0.5h1.6m86.9 0h1.6m7.9 0h1.6m-81.1 1.5h1.6m-24.6 1h1.6m-4.1 0.5h1.6m105.4 0h1.6m-14.6 1h1.6m-0.6 0h1.6m4.9 0h1.6m-67.6 0.5h1.6m29.9 0h1.6m20.4 0h1.6m-72.6 0.5h1.6m32.9 0h1.6m-49.1 1.5h1.6m-52.6 0.5h1.6m41.9 0h1.6m23.4 0h1.6m-190.1 0.5h1.6m111.9 0.5h1.6m19.9 0h1.6m71.9 0h1.6m-189.6 0.5h1.6m138.9 0h1.6m-46.6 1h1.6m180.9 1h1.6m2.9 0h1.6m-144.1 0.5h1.6m-8.6 1h1.6m29.4 0h1.6m-20.6 0.5h1.6m53.4 0h1.6m-82.6 1h1.6m92.4 0h1.6m-34.1 2h1.6m-10.1 0.5h1.6m-55.6 0.5h1.6m78.4 0h1.6m18.9 0h1.6m-79.1 2h1.6m35.4 0h1.6m-63.6 2h1.6m31.9 0h1.6m55.4 0h1.6m-83.6 1h1.6m-0.1 0.5h1.6m-33.1 0.5h1.6m-132.1 0.5h1.6m163.9 0.5h1.6m-92.1 0.5h1.6m61.9 0.5h1.6m-67.1 1h1.6m7.9 0h1.6m79.9 0h1.6m25.9 0h1.6m-153.1 0.5h1.6m17.4 0h1.6m-8.6 0.5h1.6m54.4 0.5h1.6m54.9 1.5h1.6m21.4 0h1.6m-81.6 0.5h1.6m39.9 0.5h1.6m-62.6 1.5h1.6m23.4 1h1.6m13.4 0h1.6m-27.6 1h1.6m39.9 0.5h1.6m-70.1 0.5h1.6m53.4 0.5h1.6m25.9 0h1.6m-97.1 0.5h1.6m22.4 0.5h1.6m87.9 0h1.6m-72.1 1h1.6m36.9 1h1.6m-47.1 0.5h1.6m10.4 0h1.6m-48.6 1h1.6m9.9 1h1.6m28.4 1h1.6m30.4 0h1.6m-43.1 1h1.6m50.4 0h1.6m-78.6 0.5h1.6m38.9 0h1.6m-23.6 0.5h1.6m-16.1 1.5h1.6m19.9 0.5h1.6m4.9 0.5h1.6m81.4 0h1.6m-73.6 0.5h1.6m55.4 0h1.6m-6.1 0.5h1.6m-25.1 2h1.6m-161.6 1h1.6m159.4 0h1.6m-63.6 0.5h1.6m-1.1 0.5h1.6m15.9 0.5h1.6m37.9 0.5h1.6m44.4 0h1.6m-107.1 0.5h1.6m11.4 0.5h1.6m79.9 1h1.6m-85.6 0.5h1.6m-20.1 1h1.6m-12.1 0.5h1.6m97.9 0h1.6m-45.6 3h1.6m12.9 0h1.6m-2.1 0.5h1.6m10.9 1h1.6m25.4 0h1.6m-62.1 1h1.6m-1.1 0.5h1.6m-6.1 6h1.6m-53.1 1h1.6m-52.6 1h1.6m14.4 0.5h1.6m12.4 0h1.6m5.9 0h1.6m-41.1 3h1.6m22.4 0h1.6m23.4 0h1.6m-38.1 0.5h1.6m52.9 0.5h1.6m27.4 0.5h1.6m-164.6 1.5h1.6m124.9 0.5h1.6m-27.6 0.5h1.6m5.4 0.5h1.6m45.9 0.5h1.6m-18.1 0.5h1.6m-2.6 0.5h1.6m-131.6 0.5h1.6m118.9 0h1.6m-66.6 1.5h1.6m0.9 0h1.6m21.9 1h1.6m90.4 0h1.6m-79.1 0.5h1.6m-48.6 1.5h1.6m35.9 6h1.6m-9.6 0.5h1.6m2.4 1h1.6m-29.6 2h1.6m22.4 1h1.6m-11.6 0.5h1.6m28.4 1h1.6m11.4 0h1.6m-8.6 1.5h1.6m-13.6 1h1.6m-43.6 1h1.6m3.4 0h1.6m25.9 0h1.6m25.9 2h1.6m-11.6 1h1.6m-22.1 0.5h1.6m-21.6 1h1.6m34.4 0.5h1.6m-13.1 0.5h1.6m18.9 0h1.6m-115.1 1h1.6m79.9 1h1.6m-81.1 0.5h1.6m62.9 0h1.6m-35.6 1h1.6m68.4 0h1.6m-105.6 0.5h1.6m37.9 0h1.6m68.9 0h1.6m-77.6 1.5h1.6m-18.6 1h1.6m59.4 0h1.6m-2.1 0.5h1.6m-53.1 0.5h1.6m79.4 0h1.6m-18.6 0.5h1.6m16.4 0h1.6m11.4 0h1.6m-87.6 0.5h1.6m-12.1 1h1.6m14.4 0h1.6m0.4 0h1.6m-8.6 0.5h1.6m-0.6 1h1.6m68.9 0h1.6m-42.6 0.5h1.6m6.4 0.5h1.6m-81.1 0.5h1.6m76.4 0h1.6m-27.1 1h1.6m17.9 0h1.6m-14.1 0.5h1.6m-50.1 0.5h1.6m16.9 0h1.6m-98.6 5.5h1.6m8.4 1.5h1.6m72.9 0h1.6m-12.1 1h1.6m40.9 0h1.6m-19.1 1h1.6m6.4 0.5h1.6m13.4 1.5h1.6m2.9 1h1.6m-27.6 3.5h1.6m-29.6 1.5h1.6m35.4 3h1.6m15.9 0h1.6m-6.1 0.5h1.6m-82.1 8.5h1.6m-29.1 1h1.6m14.9 0h1.6m3.4 1.5h1.6m-38.1 1h1.6m13.4 0.5h1.6m36.9 2h1.6m-43.6 1h1.6m-11.1 0.5h1.6m25.4 0h1.6m-19.1 0.5h1.6m32.9 1.5h1.6m-66.6 3.5h1.6m36.4 3.5h1.6m-20.6 1.5h1.6m9.9 0.5h1.6m29.4 1h1.6m-100.6 10h1.6m-1.1 0h1.6m-1.1 0.5h1.6m39.9 1h1.6m-30.6 2.5h1.6m-11.6 1h1.6m28.9 0h1.6m3.4 2.5h1.6m-25.1 0.5h1.6m5.4 0h1.6m-2.1 1h1.6"/>
<path fill="none" stroke="#8e8e8e" stroke-width="1.6" d="M1139.5 242h1.6m19.9 2.5h1.6m0.4 1h1.6m-100.6 0.5h1.6m103.9 1h1.6m-114.6 1h1.6m42.4 1h1.6m47.9 2h1.6m15.4 1h1.6m-66.1 0.5h1.6m63.4 0h1.6m5.4 1h1.6m-65.6 0.5h1.6m7.9 1h1.6m9.4 0h1.6m7.4 1.5h1.6m-36.1 0.5h1.6m-25.6 1h1.6m-31.1 1.5h1.6m93.4 0.5h1.6m-38.6 2.5h1.6m61.4 0.5h1.6m-34.1 2h1.6m13.9 1.5h1.6m-105.1 3h1.6m46.4 0h1.6m25.9 1h1.6m-27.1 0.5h1.6m48.9 0h1.6m-62.6 3h1.6m49.9 1h1.6m-63.1 0.5h1.6m51.9 0.5h1.6m-3.1 1h1.6m-69.6 0.5h1.6m72.9 0h1.6m-24.6 0.5h1.6m44.4 2h1.6m-56.6 0.5h1.6m7.9 0h1.6m43.4 1h1.6m-107.1 1h1.6m95.9 1h1.6m0.4 0h1.6m-83.1 0.5h1.6m4.9 1h1.6m17.4 0h1.6m24.4 0.5h1.6m26.9 0h1.6m-29.1 1h1.6m22.9 0h1.6m15.4 0h1.6m-163.6 0.5h1.6m26.4 0h1.6m43.4 0h1.6m51.4 0h1.6m-145.1 0.5h1.6m118.9 0.5h1.6m29.4 0h1.6m16.4 0h1.6m-15.6 2.5h1.6m-132.6 0.5h1.6m82.4 0.5h1.6m-86.6 1.5h1.6m47.4 0h1.6m-81.1 1h1.6m5.4 0.5h1.6m53.4 0h1.6m11.4 0.5h1.6m10.9 0.5h1.6m21.4 0h1.6m-82.1 0.5h1.6m58.9 0h1.6m-76.1 0.5h1.6m52.9 0h1.6m7.4 0h1.6m84.4 0h1.6m-66.6 0.5h1.6m48.4 0h1.6m22.9 1.5h1.6m-96.6 0.5h1.6m102.9 0h1.6m-98.1 0.5h1.6m1.9 0h1.6m91.9 0.5h1.6m1.4 0h1.6m-113.6 0.5h1.6m-41.6 1h1.6m33.4 0h1.6m2.4 0h1.6m3.4 0h1.6m55.4 0h1.6m-114.1 1h1.6m60.9 0h1.6m84.4 0h1.6m-15.1 0.5h1.6m-34.1 2h1.6m-102.1 0.5h1.6m129.4 0h1.6m-2.6 0.5h1.6m-15.1 0.5h1.6m2.4 0h1.6m-65.6 0.5h1.6m107.4 0h1.6m-149.1 0.5h1.6m77.4 0h1.6m-146.6 1h1.6m44.9 0.5h1.6m-1.1 0h1.6m31.9 0h1.6m17.9 0h1.6m-36.6 0.5h1.6m-37.6 1h1.6m88.9 0.5h1.6m-166.6 1.5h1.6m19.9 1.5h1.6m32.4 2.5h1.6m-55.1 0.5h1.6m-6.1 0.5h1.6m-1.1 1.5h1.6m76.9 0h1.6m13.4 0h1.6m-70.6 0.5h1.6m12.4 0h1.6m-9.1 1h1.6m7.4 2h1.6m61.9 1.5h1.6m-83.6 0.5h1.6m21.9 0.5h1.6m-46.6 1.5h1.6m92.4 0h1.6m-6.6 0.5h1.6m-32.6 0.5h1.6m19.9 1.5h1.6m21.4 0h1.6m27.9 0h1.6m-122.6 2h1.6m38.4 0.5h1.6m-47.1 2h1.6m91.9 1.5h1.6m5.4 1h1.6m-61.1 0.5h1.6m40.9 1.5h1.6m2.4 0h1.6m-91.1 0.5h1.6m14.4 0h1.6m102.9 2h1.6m-78.6 1h1.6m51.9 2h1.6m-40.6 1h1.6m-24.6 0.5h1.6m80.4 0h1.6m-38.6 0.5h1.6m-80.1 0.5h1.6m16.4 0h1.6m54.9 0h1.6m6.9 0h1.6m26.9 0h1.6m-150.1 0.5h1.6m-10.1 0.5h1.6m140.4 0h1.6m-122.6 1.5h1.6m81.4 0.5h1.6m-63.1 0.5h1.6m54.9 0h1.6m-124.1 1h1.6m27.9 0h1.6m8.9 0h1.6m-43.1 0.5h1.6m27.9 0.5h1.6m22.9 1.5h1.6m-53.6 0.5h1.6m89.9 0h1.6m10.4 0.5h1.6m-103.1 1.5h1.6m62.4 0h1.6m3.4 0h1.6m-52.1 1.5h1.6m15.9 1h1.6m26.9 1.5h1.6m27.4 0h1.6m4.4 0h1.6m10.9 0.5h1.6m-60.1 0.5h1.6m14.4 0h1.6m25.9 0h1.6m-17.1 0.5h1.6m-6.6 0.5h1.6m-1.1 1.5h1.6m26.9 0.5h1.6m-69.1 2h1.6m44.9 0h1.6m-60.1 2.5h1.6m-81.1 0.5h1.6m50.4 0h1.6m-45.6 2h1.6m55.4 0h1.6m21.9 0h1.6m5.4 0h1.6m-109.6 2h1.6m84.4 1h1.6m-3.6 0.5h1.6m2.4 0h1.6m-23.1 2.5h1.6m49.4 0h1.6m-58.1 1.5h1.6m49.9 0h1.6m-116.1 0.5h1.6m120.4 0.5h1.6m-108.1 0.5h1.6m57.4 0h1.6m-1.1 0.5h1.6m-54.6 1h1.6m-6.6 0.5h1.6m34.9 0.5h1.6m33.9 0h1.6m21.9 1h1.6m-48.6 1h1.6m-63.1 0.5h1.6m74.4 0h1.6m0.4 0h1.6m-82.1 1h1.6m13.4 0h1.6m31.9 0h1.6m67.9 0.5h1.6m-68.1 1h1.6m-14.1 0.5h1.6m-33.6 0.5h1.6m-3.6 7.5h1.6m-78.1 0.5h1.6m43.9 0.5h1.6m-33.1 0.5h1.6m71.4 0.5h1.6m-71.6 0.5h1.6m10.4 0.5h1.6m8.4 1h1.6m80.4 0.5h1.6m-7.1 0.5h1.6m-34.6 1h1.6m18.9 0h1.6m-19.6 0.5h1.6m-85.6 1.5h1.6m123.4 0h1.6m-83.6 1.5h1.6m-46.1 0.5h1.6m4.4 1h1.6m26.9 1h1.6m-13.1 2.5h1.6m-6.1 1.5h1.6m17.4 1.5h1.6m-10.6 0.5h1.6m9.4 0h1.6m-67.1 0.5h1.6m-31.6 0.5h1.6m65.9 0h1.6m22.9 0.5h1.6m-86.1 0.5h1.6m-8.6 1.5h1.6m42.4 1.5h1.6m-27.1 3h1.6m-1.6 0.5h1.6m-7.1 0.5h1.6m16.9 0h1.6"/>
<rect x="651" y="421.81" width="58.8" height="14.19" fill="url(#g17)" filter="url(#fG)"/>
<rect x="651" y="388.49" width="58.8" height="17.74" fill="url(#g18)" filter="url(#fB)"/>
<rect x="711.8" y="414.96" width="62.5" height="15.68" fill="url(#g19)" filter="url(#fG)"/>
<rect x="711.8" y="353.91" width="62.5" height="22.94" fill="url(#g20)" filter="url(#fB)"/>
<rect x="776.3" y="401.85" width="66.5" height="17.1" fill="url(#g21)" filter="url(#fG)"/>
<rect x="776.3" y="305.46" width="66.5" height="31.98" fill="url(#g22)" filter="url(#fB)"/>
<rect x="844.8" y="386.29" width="65.6" height="25" fill="url(#g23)" filter="url(#fG)"/>
<rect x="844.8" y="252.55" width="65.6" height="48.41" fill="url(#g24)" filter="url(#fB)"/>
<rect x="912.4" y="360.92" width="67.6" height="29.03" fill="url(#g25)" filter="url(#fG)"/>
<rect x="912.4" y="204.53" width="67.6" height="53.59" fill="url(#g26)" filter="url(#fB)"/>
<rect x="982" y="344.11" width="67.4" height="35.61" fill="url(#g27)" filter="url(#fG)"/>
<rect x="982" y="177.58" width="67.4" height="54.54" fill="url(#g28)" filter="url(#fB)"/>
<rect x="1051.4" y="296.46" width="62.3" height="54.36" fill="url(#g29)" filter="url(#fG)"/>
<rect x="1051.4" y="107.43" width="62.3" height="85.38" fill="url(#g30)" filter="url(#fB)"/>
<rect x="1115.7" y="296.69" width="62.3" height="51.1" fill="url(#g31)" filter="url(#fG)"/>
<rect x="1115.7" y="97.82" width="62.3" height="92.56" fill="url(#g32)" filter="url(#fB)"/>
<line x1="651" y1="413.1" x2="709.8" y2="413.1" stroke="#9ccf5a" stroke-width="1.2"/>
<line x1="711.8" y1="395.4" x2="774.3" y2="395.4" stroke="#9ccf5a" stroke-width="1.2"/>
<line x1="776.3" y1="366.7" x2="842.8" y2="366.7" stroke="#9ccf5a" stroke-width="1.2"/>
<line x1="844.8" y1="344.6" x2="910.4" y2="344.6" stroke="#9ccf5a" stroke-width="1.2"/>
<line x1="912.4" y1="308.1" x2="980" y2="308.1" stroke="#9ccf5a" stroke-width="1.2"/>
<line x1="982" y1="286.8" x2="1049.4" y2="286.8" stroke="#9ccf5a" stroke-width="1.2"/>
<line x1="1051.4" y1="246" x2="1113.7" y2="246" stroke="#9ccf5a" stroke-width="1.2"/>
<line x1="1115.7" y1="237.8" x2="1178" y2="237.8" stroke="#9ccf5a" stroke-width="1.2"/>
<line x1="647" y1="55.3" x2="647" y2="468.5" stroke="#999" stroke-width="1.3"/>
<line x1="643" y1="468.5" x2="647" y2="468.5" stroke="#8c8c8c" stroke-width="1"/>
<line x1="644.5" y1="445.57" x2="647" y2="445.57" stroke="#8c8c8c" stroke-width="1"/>
<line x1="644.5" y1="422.64" x2="647" y2="422.64" stroke="#8c8c8c" stroke-width="1"/>
<line x1="644.5" y1="399.71" x2="647" y2="399.71" stroke="#8c8c8c" stroke-width="1"/>
<line x1="644.5" y1="376.78" x2="647" y2="376.78" stroke="#8c8c8c" stroke-width="1"/>
<line x1="643" y1="353.85" x2="647" y2="353.85" stroke="#8c8c8c" stroke-width="1"/>
<line x1="644.5" y1="330.92" x2="647" y2="330.92" stroke="#8c8c8c" stroke-width="1"/>
<line x1="644.5" y1="307.99" x2="647" y2="307.99" stroke="#8c8c8c" stroke-width="1"/>
<line x1="644.5" y1="285.06" x2="647" y2="285.06" stroke="#8c8c8c" stroke-width="1"/>
<line x1="644.5" y1="262.13" x2="647" y2="262.13" stroke="#8c8c8c" stroke-width="1"/>
<line x1="643" y1="239.2" x2="647" y2="239.2" stroke="#8c8c8c" stroke-width="1"/>
<line x1="644.5" y1="216.27" x2="647" y2="216.27" stroke="#8c8c8c" stroke-width="1"/>
<line x1="644.5" y1="193.34" x2="647" y2="193.34" stroke="#8c8c8c" stroke-width="1"/>
<line x1="644.5" y1="170.41" x2="647" y2="170.41" stroke="#8c8c8c" stroke-width="1"/>
<line x1="644.5" y1="147.48" x2="647" y2="147.48" stroke="#8c8c8c" stroke-width="1"/>
<line x1="643" y1="124.55" x2="647" y2="124.55" stroke="#8c8c8c" stroke-width="1"/>
<line x1="644.5" y1="101.62" x2="647" y2="101.62" stroke="#8c8c8c" stroke-width="1"/>
<line x1="644.5" y1="78.69" x2="647" y2="78.69" stroke="#8c8c8c" stroke-width="1"/>
<line x1="644.5" y1="55.76" x2="647" y2="55.76" stroke="#8c8c8c" stroke-width="1"/>
<line x1="650" y1="471" x2="1179" y2="471" stroke="#a0a0a0" stroke-width="1.5"/>
<line x1="680.4" y1="471" x2="680.4" y2="475" stroke="#8c8c8c" stroke-width="1"/>
<text x="680.4" y="488.7" text-anchor="middle" class="xl">50</text>
<line x1="743.05" y1="471" x2="743.05" y2="475" stroke="#8c8c8c" stroke-width="1"/>
<text x="743.05" y="488.7" text-anchor="middle" class="xl">100</text>
<line x1="809.55" y1="471" x2="809.55" y2="475" stroke="#8c8c8c" stroke-width="1"/>
<text x="809.55" y="488.7" text-anchor="middle" class="xl">200</text>
<line x1="877.6" y1="471" x2="877.6" y2="475" stroke="#8c8c8c" stroke-width="1"/>
<text x="877.6" y="488.7" text-anchor="middle" class="xl">300</text>
<line x1="946.2" y1="471" x2="946.2" y2="475" stroke="#8c8c8c" stroke-width="1"/>
<text x="946.2" y="488.7" text-anchor="middle" class="xl">400</text>
<line x1="1015.7" y1="471" x2="1015.7" y2="475" stroke="#8c8c8c" stroke-width="1"/>
<text x="1015.7" y="488.7" text-anchor="middle" class="xl">500</text>
<line x1="1082.55" y1="471" x2="1082.55" y2="475" stroke="#8c8c8c" stroke-width="1"/>
<text x="1082.55" y="488.7" text-anchor="middle" class="xl">600</text>
<line x1="1146.85" y1="471" x2="1146.85" y2="475" stroke="#8c8c8c" stroke-width="1"/>
<text x="1146.85" y="488.7" text-anchor="middle" class="xl">700</text>
<text x="643" y="128.7" text-anchor="end" class="yl">15,000</text>
<text x="643" y="243" text-anchor="end" class="yl">10,000</text>
<text x="643" y="357.7" text-anchor="end" class="yl">5,000</text>
<text x="641.2" y="472.7" text-anchor="end" class="yl">0</text>
<text x="754" y="509.6" class="xt" textLength="319.4" lengthAdjust="spacingAndGlyphs">Probe concentrations of RD4 (nM)</text>
<text transform="translate(612.8 325.8) rotate(-90)" class="yt" style="font-size:21px" textLength="141.8" lengthAdjust="spacingAndGlyphs">Amplitude VIC</text>
<text x="593" y="28.7" class="letter">B</text>
<line x1="1303.5" y1="50.6" x2="1303.5" y2="468.7" stroke="#9c9c9c" stroke-width="1" stroke-dasharray="3 2"/>
<line x1="1368.3" y1="50.6" x2="1368.3" y2="468.7" stroke="#9c9c9c" stroke-width="1" stroke-dasharray="3 2"/>
<line x1="1436.3" y1="50.6" x2="1436.3" y2="468.7" stroke="#9c9c9c" stroke-width="1" stroke-dasharray="3 2"/>
<line x1="1505.4" y1="50.6" x2="1505.4" y2="468.7" stroke="#9c9c9c" stroke-width="1" stroke-dasharray="3 2"/>
<line x1="1574.8" y1="50.6" x2="1574.8" y2="468.7" stroke="#9c9c9c" stroke-width="1" stroke-dasharray="3 2"/>
<line x1="1640.7" y1="50.6" x2="1640.7" y2="468.7" stroke="#9c9c9c" stroke-width="1" stroke-dasharray="3 2"/>
<line x1="1707.7" y1="50.6" x2="1707.7" y2="468.7" stroke="#9c9c9c" stroke-width="1" stroke-dasharray="3 2"/>
<path fill="none" stroke="#b87a70" stroke-width="1.6" d="M1714.5 84.5h1.6m-12.6 14.5h1.6m32.4 6h1.6m-34.1 16h1.6m19.4 3h1.6m17.4 1.5h1.6m-73.6 1h1.6m66.4 1.5h1.6m20.9 2h1.6m-108.1 1.5h1.6m-0.1 3h1.6m5.9 0.5h1.6m-11.6 5h1.6m3.9 1.5h1.6m64.9 1.5h1.6m17.9 1.5h1.6m-33.6 0.5h1.6m-46.1 3h1.6m-123.1 39h1.6m48.4 11h1.6m18.9 0h1.6m-18.1 1h1.6m12.9 0h1.6m16.4 2.5h1.6m-7.6 1.5h1.6m-14.6 2.5h1.6m-29.1 3.5h1.6m-26.6 3.5h1.6m-22.6 1.5h1.6m188.4 0.5h1.6m-183.1 4h1.6m-39.1 2h1.6m-4.1 1h1.6m141.4 1h1.6m20.4 0h1.6m0.4 0h1.6m5.4 0h1.6m33.9 0.5h1.6m18.4 0h1.6m-71.6 0.5h1.6m9.4 0h1.6m17.4 0h1.6m23.4 0h1.6m-67.6 0.5h1.6m13.4 0.5h1.6m80.4 0h1.6m-207.6 0.5h1.6m-28.1 0.5h1.6m188.9 0h1.6m34.4 0.5h1.6m-70.1 0.5h1.6m50.9 0h1.6m-32.1 0.5h1.6m14.9 0.5h1.6m-55.6 0.5h1.6m3.4 1h1.6m23.4 0h1.6m-4.1 0.5h1.6m19.9 0h1.6m-67.1 0.5h1.6m16.4 0h1.6m-20.1 0.5h1.6m50.9 0h1.6m-50.1 0.5h1.6m32.9 0h1.6m-16.6 0.5h1.6m1.9 0h1.6m-6.6 0.5h1.6m25.9 0h1.6m22.9 0h1.6m8.9 0h1.6m9.9 0h1.6m17.9 0.5h1.6m-113.6 0.5h1.6m47.4 0h1.6m29.4 0h1.6m3.9 0h1.6m-73.6 1.5h1.6m27.4 0h1.6m-28.1 1h1.6m38.4 0h1.6m2.4 0.5h1.6m34.9 0h1.6m6.4 0h1.6m-34.6 0.5h1.6m2.4 0h1.6m7.4 0h1.6m-54.1 0.5h1.6m35.9 0h1.6m33.4 1.5h1.6m-29.1 1h1.6m26.4 0h1.6m-109.6 0.5h1.6m5.4 1.5h1.6m66.4 0h1.6m-79.6 0.5h1.6m96.4 0h1.6m-103.1 0.5h1.6m20.4 0h1.6m-177.6 0.5h1.6m179.4 0h1.6m40.9 0h1.6m-260.6 0.5h1.6m227.4 0.5h1.6m-43.6 1h1.6m83.4 0h1.6m21.4 0h1.6m-99.1 0.5h1.6m27.9 0.5h1.6m65.4 0h1.6m-4.1 0.5h1.6m-60.6 0.5h1.6m24.9 0h1.6m-53.1 1h1.6m97.9 0h1.6m1.9 0h1.6m-9.1 0.5h1.6m-3.6 0.5h1.6m-98.1 0.5h1.6m93.9 0h1.6m-112.6 0.5h1.6m117.9 0h1.6m-73.1 0.5h1.6m17.4 0h1.6m34.4 0.5h1.6m-7.6 0.5h1.6m22.9 1h1.6m-295.6 1.5h1.6m251.4 0.5h1.6m5.9 0h1.6m8.9 0h1.6m-29.6 0.5h1.6m8.4 0h1.6m-29.6 1h1.6m23.9 0h1.6m35.9 0h1.6m-81.1 1h1.6m30.4 0.5h1.6m49.9 0h1.6m-119.1 0.5h1.6m30.4 0h1.6m30.9 1.5h1.6m-1.1 0.5h1.6m26.4 0h1.6m19.4 0.5h1.6m-98.1 0.5h1.6m87.4 0.5h1.6m-148.1 0.5h1.6m-12.1 0.5h1.6m5.4 0h1.6m-1.1 0h1.6m12.9 1.5h1.6m0.4 0h1.6m1.9 0h1.6m27.9 0h1.6m-38.6 0.5h1.6m132.4 0h1.6m-102.1 0.5h1.6m70.4 0h1.6m-222.1 0.5h1.6m79.4 0h1.6m117.4 0h1.6m-42.1 0.5h1.6m82.4 0h1.6m-140.6 0.5h1.6m-145.1 0.5h1.6m227.9 0h1.6m42.9 0h1.6m-242.1 0.5h1.6m86.9 0h1.6m41.4 0.5h1.6m58.9 0h1.6m-185.6 0.5h1.6m236.4 0h1.6m-1.1 0h1.6m-154.6 0.5h1.6m2.4 0.5h1.6m97.4 0h1.6m72.9 0h1.6m-186.6 0.5h1.6m176.9 0h1.6m-39.6 1h1.6m4.4 0.5h1.6m-69.6 0.5h1.6m77.9 0h1.6m-5.1 0.5h1.6m-130.6 0.5h1.6m136.4 1h1.6m-165.1 0.5h1.6m23.9 0h1.6m5.9 0.5h1.6m28.4 0h1.6m-54.6 0.5h1.6m169.9 0h1.6m-171.1 0.5h1.6m58.4 0h1.6m6.4 0h1.6m-71.6 0.5h1.6m-0.6 0h1.6m-10.6 0.5h1.6m44.4 0h1.6m72.4 1.5h1.6m-87.6 2h1.6m2.9 0h1.6m130.4 0.5h1.6m-160.1 0.5h1.6m63.4 0h1.6m78.9 0h1.6m-129.1 0.5h1.6m72.9 0h1.6m77.4 0h1.6m-163.6 0.5h1.6m18.4 0h1.6m90.4 0h1.6m-117.1 0.5h1.6m7.9 0h1.6m72.9 0h1.6m61.9 0h1.6m-88.6 0.5h1.6m36.4 0h1.6m40.9 0h1.6m-137.6 0.5h1.6m53.9 0h1.6m58.4 0h1.6m-96.1 0.5h1.6m63.9 0h1.6m36.9 0h1.6m3.4 0h1.6m-167.6 0.5h1.6m25.4 0h1.6m94.9 0h1.6m8.9 0h1.6m40.9 0h1.6m-110.1 0.5h1.6m-116.1 0.5h1.6m159.9 0h1.6m-161.1 0.5h1.6m92.9 0h1.6m-26.1 1h1.6m-63.1 0.5h1.6m91.9 0h1.6m75.4 0h1.6m-19.6 0.5h1.6m-76.6 0.5h1.6m-5.1 0.5h1.6m70.4 0h1.6m15.9 0h1.6m-176.6 0.5h1.6m3.4 0.5h1.6m101.9 0h1.6m-85.1 0.5h1.6m19.4 0h1.6m117.9 0h1.6m-81.6 0.5h1.6m-84.1 0.5h1.6m11.4 0h1.6m47.9 0.5h1.6m4.4 0.5h1.6m33.4 0h1.6m-0.6 0h1.6m-87.6 0.5h1.6m-23.6 0.5h1.6m3.4 0h1.6m11.4 0h1.6m72.9 0h1.6m-94.6 0.5h1.6m-7.6 0.5h1.6m52.9 0.5h1.6m-27.1 0.5h1.6m-24.1 0.5h1.6m23.9 0h1.6m74.9 0h1.6m-83.6 0.5h1.6m-2.1 0.5h1.6m81.9 0h1.6m-104.1 0.5h1.6m45.9 0h1.6m60.4 0.5h1.6m-87.6 0.5h1.6m20.4 0h1.6m-23.6 1h1.6m4.9 0h1.6m37.9 0h1.6m-54.1 0.5h1.6m83.9 0h1.6m-109.1 0.5h1.6m27.4 0.5h1.6m15.9 0h1.6m54.4 0.5h1.6m-110.1 0.5h1.6m80.4 0h1.6m-4.6 1h1.6m-21.1 1.5h1.6m-31.6 0.5h1.6m18.4 0h1.6m-0.1 1h1.6m-20.6 0.5h1.6m1.4 0.5h1.6m14.9 0h1.6m-37.6 1.5h1.6m23.9 0.5h1.6m58.4 0h1.6m19.9 0h1.6m-41.1 0.5h1.6m-76.1 0.5h1.6m58.4 0h1.6m12.4 0.5h1.6m-203.6 0.5h1.6m172.9 0h1.6m-107.1 0.5h1.6m-9.1 0.5h1.6m124.9 0h1.6m-126.6 2h1.6m24.9 0.5h1.6m78.9 0h1.6m-113.6 0.5h1.6m3.4 0h1.6m7.4 0h1.6m114.4 0h1.6m20.4 0h1.6m22.4 0h1.6m-154.1 0.5h1.6m96.9 0h1.6m26.9 0h1.6m15.4 0h1.6m-196.1 0.5h1.6m70.9 0h1.6m-34.6 0.5h1.6m33.4 0h1.6m16.4 0h1.6m-61.6 0.5h1.6m24.9 0h1.6m24.9 0h1.6m84.9 0.5h1.6m-194.1 0.5h1.6m217.9 0.5h1.6m-74.1 0.5h1.6m66.4 0h1.6m-147.1 0.5h1.6m7.4 0h1.6m67.9 0h1.6m-14.6 0.5h1.6m-0.1 0h1.6m36.4 0h1.6m-92.1 0.5h1.6m71.4 0h1.6m-98.6 0.5h1.6m30.4 0h1.6m24.9 0h1.6m-52.1 0.5h1.6m51.9 0h1.6m-146.6 0.5h1.6m-0.6 0h1.6m19.4 0h1.6m82.4 0h1.6m15.9 0h1.6m-51.1 0.5h1.6m171.9 0h1.6m-139.6 0.5h1.6m52.9 0h1.6m24.4 0h1.6m-79.1 0.5h1.6m1.9 0h1.6m129.9 0h1.6m-106.6 0.5h1.6m81.9 0h1.6m-45.6 0.5h1.6m66.4 0h1.6m-134.1 1h1.6m62.9 0h1.6m54.4 0h1.6m-99.1 0.5h1.6m116.9 0h1.6m-160.6 0.5h1.6m29.4 0.5h1.6m33.9 0h1.6m-90.6 1h1.6m102.9 0h1.6m-37.1 1h1.6m-49.6 0.5h1.6m13.4 0h1.6m-40.1 1h1.6m-4.1 1h1.6m20.4 0h1.6m35.4 0h1.6m18.9 0h1.6m16.9 0.5h1.6m-68.1 0.5h1.6m-46.1 0.5h1.6m112.4 0.5h1.6m-17.6 0.5h1.6m9.9 0h1.6m-52.1 0.5h1.6m24.4 0h1.6m-37.1 0.5h1.6m26.4 0h1.6m6.9 0.5h1.6m27.4 0h1.6m-17.1 0.5h1.6m-37.1 0.5h1.6m42.9 0h1.6m-39.6 0.5h1.6m-66.1 0.5h1.6m5.9 0h1.6m3.4 0h1.6m54.9 0h1.6m-30.6 0.5h1.6m-27.1 0.5h1.6m-21.1 0.5h1.6m32.4 0h1.6m-9.1 0.5h1.6m43.4 0.5h1.6m20.9 1h1.6m-6.6 0.5h1.6m21.4 0h1.6m11.9 0h1.6m-128.6 1h1.6m25.4 0.5h1.6m28.9 0h1.6m-5.6 0.5h1.6m-24.6 1h1.6m-25.1 0.5h1.6m44.4 0.5h1.6m-52.1 0.5h1.6m42.9 0.5h1.6m-7.6 1.5h1.6m-5.6 0.5h1.6m-18.6 2h1.6m38.9 0.5h1.6m-14.1 0.5h1.6m-24.1 0.5h1.6m17.9 0h1.6m-88.1 1h1.6m45.4 0h1.6m35.4 0h1.6m-8.1 2.5h1.6m-37.6 1h1.6m-84.1 0.5h1.6m126.4 0.5h1.6m-20.1 0.5h1.6m-19.1 2h1.6m23.4 0h1.6m23.9 0h1.6m-114.1 0.5h1.6m13.4 0h1.6m-39.6 0.5h1.6m25.4 0h1.6m26.4 0.5h1.6m13.9 0h1.6m-47.6 1h1.6m-11.6 2h1.6m19.9 0h1.6m25.9 0h1.6m-99.1 0.5h1.6m32.9 0.5h1.6m13.4 0h1.6m8.4 0h1.6m-7.1 0.5h1.6m37.4 0.5h1.6m-49.6 0.5h1.6m5.9 0h1.6m28.9 0h1.6m-7.1 0.5h1.6m5.4 0h1.6m-19.6 0.5h1.6m9.9 0h1.6m-11.1 1h1.6m5.4 0h1.6m11.9 0h1.6m-44.1 0.5h1.6m23.4 0.5h1.6m20.4 0h1.6m-22.6 1h1.6m13.4 0.5h1.6m-1.1 0h1.6m0.4 0.5h1.6m-39.1 1h1.6m13.4 0h1.6m-20.6 0.5h1.6m32.4 0.5h1.6m-18.1 2.5h1.6m16.9 0h1.6m-35.1 1h1.6m7.4 0h1.6m-8.6 1h1.6m31.9 0h1.6m-30.6 1h1.6m41.4 1.5h1.6m-20.1 1h1.6m-27.1 2h1.6m-13.1 1.5h1.6m35.4 0h1.6m3.4 1h1.6m-37.6 1h1.6m26.9 1h1.6m-37.6 0.5h1.6m23.4 0h1.6m-91.6 0.5h1.6m3.9 0.5h1.6m61.4 0h1.6m-65.1 0.5h1.6m50.4 0.5h1.6m-60.1 0.5h1.6m17.9 0h1.6m21.9 0h1.6m11.4 0h1.6m42.4 0h1.6m4.9 0h1.6m-73.1 0.5h1.6m-23.1 0.5h1.6m41.4 0h1.6m27.4 0h1.6m-31.1 0.5h1.6m69.4 0h1.6m-81.1 0.5h1.6m10.4 0h1.6m-29.6 0.5h1.6m-32.1 0.5h1.6m22.9 0h1.6m10.9 0h1.6m1.9 0h1.6m6.9 0h1.6m1.9 0.5h1.6m-25.1 0.5h1.6m6.4 0.5h1.6m17.9 0h1.6m-44.6 0.5h1.6m-1.6 0.5h1.6m27.4 0.5h1.6m4.9 2h1.6m-37.6 0.5h1.6m25.4 0.5h1.6m-27.1 2.5h1.6m24.4 0h1.6m-35.1 1.5h1.6m12.4 2h1.6m-4.1 0.5h1.6m-13.1 0.5h1.6m34.9 0h1.6m-14.1 0.5h1.6m1.9 0h1.6m1.9 0h1.6m-3.6 0.5h1.6m3.4 1.5h1.6m9.4 0h1.6m-28.1 0.5h1.6m-0.6 0h1.6m5.4 0h1.6m21.4 0.5h1.6m-35.6 0.5h1.6m15.9 0h1.6m-78.6 1h1.6m40.4 0h1.6m-23.6 0.5h1.6m46.9 0h1.6m-78.1 2.5h1.6m2.9 14.5h1.6m3.4 0h1.6m23.4 0h1.6m-40.1 0.5h1.6m5.4 0h1.6m-10.1 0.5h1.6m-12.6 0.5h1.6m34.9 0h1.6m14.9 0h1.6m-50.1 0.5h1.6m-0.1 0h1.6m29.9 0h1.6m-17.1 0.5h1.6m3.9 0h1.6m18.9 0h1.6m-47.6 0.5h1.6m37.4 0h1.6m-35.6 1h1.6m30.4 0h1.6m-43.1 0.5h1.6m50.4 0h1.6m-32.1 0.5h1.6m4.9 0h1.6m7.4 0h1.6m-26.1 0.5h1.6m31.9 0h1.6m-43.1 0.5h1.6m31.4 0h1.6m8.4 0.5h1.6m-0.6 0h1.6m-45.6 0.5h1.6m13.9 0h1.6m19.4 0h1.6m-15.6 2h1.6m23.9 0h1.6"/>
<path fill="none" stroke="#8e8e8e" stroke-width="1.6" d="M1724.5 287h1.6m15.9 0h1.6m16.9 3h1.6m-9.6 0.5h1.6m-94.1 2h1.6m73.4 1.5h1.6m-60.1 2.5h1.6m83.4 0.5h1.6m-77.6 1h1.6m39.9 0.5h1.6m-50.1 1.5h1.6m6.4 0h1.6m42.9 0h1.6m-54.1 0.5h1.6m23.4 0h1.6m-1.1 0h1.6m-34.1 0.5h1.6m-26.1 0.5h1.6m13.4 0.5h1.6m20.9 0h1.6m47.9 0h1.6m24.9 0h1.6m-106.1 1h1.6m71.9 0.5h1.6m30.4 0h1.6m-61.1 0.5h1.6m42.9 0h1.6m-22.1 1.5h1.6m-39.6 1h1.6m-34.1 1h1.6m54.4 0h1.6m8.9 0.5h1.6m-73.1 0.5h1.6m44.4 0h1.6m28.4 1h1.6m28.4 0h1.6m-16.1 0.5h1.6m-5.6 1h1.6m-67.1 0.5h1.6m0.4 0h1.6m12.9 0.5h1.6m32.9 0.5h1.6m-27.1 0.5h1.6m36.4 0h1.6m-93.1 0.5h1.6m67.4 0h1.6m4.9 0.5h1.6m11.9 0h1.6m2.4 0h1.6m-3.1 1h1.6m-94.6 0.5h1.6m-0.1 0h1.6m35.9 0h1.6m37.9 0h1.6m24.4 0.5h1.6m-62.1 0.5h1.6m63.4 0h1.6m-90.1 1h1.6m24.4 0h1.6m57.9 0h1.6m14.9 0h1.6m-111.6 1h1.6m97.4 0h1.6m-101.1 1.5h1.6m32.9 0h1.6m-2.1 0.5h1.6m58.9 0.5h1.6m-28.6 1h1.6m-50.6 0.5h1.6m47.9 0h1.6m-33.6 1h1.6m-45.1 1.5h1.6m3.4 0h1.6m11.9 0h1.6m49.4 0h1.6m24.9 0h1.6m-73.1 0.5h1.6m38.4 0h1.6m-29.6 0.5h1.6m36.9 1h1.6m-55.6 0.5h1.6m52.4 0h1.6m-49.1 0.5h1.6m79.9 0h1.6m-67.1 0.5h1.6m-114.1 1h1.6m150.9 0.5h1.6m8.4 1h1.6m6.4 0.5h1.6m0.4 0h1.6m-79.1 1h1.6m43.4 0h1.6m-24.6 0.5h1.6m-22.1 0.5h1.6m49.4 0h1.6m-138.6 0.5h1.6m165.4 0h1.6m-94.6 2h1.6m-44.1 0.5h1.6m4.4 0h1.6m17.4 0h1.6m88.4 0.5h1.6m-65.6 0.5h1.6m89.9 0h1.6m-146.6 0.5h1.6m47.9 0h1.6m69.4 0h1.6m-9.1 0.5h1.6m29.4 0h1.6m-186.6 0.5h1.6m20.4 0h1.6m76.4 0h1.6m78.9 0h1.6m4.4 0h1.6m-145.6 0.5h1.6m141.4 0h1.6m-106.6 0.5h1.6m59.9 0h1.6m-129.1 0.5h1.6m90.9 0h1.6m-32.6 0.5h1.6m5.4 0h1.6m2.4 0h1.6m49.9 0h1.6m8.4 0h1.6m-119.1 0.5h1.6m86.9 0h1.6m-109.6 0.5h1.6m120.9 0h1.6m36.4 0h1.6m-62.1 1h1.6m38.9 0h1.6m13.9 0h1.6m-179.6 0.5h1.6m133.9 0h1.6m-60.6 0.5h1.6m45.9 0h1.6m-133.1 0.5h1.6m113.4 0h1.6m-64.6 0.5h1.6m152.4 0h1.6m-95.6 0.5h1.6m8.4 0h1.6m31.4 0h1.6m-94.6 0.5h1.6m50.9 0h1.6m-119.6 0.5h1.6m29.4 0.5h1.6m-53.1 0.5h1.6m79.4 0h1.6m19.4 0h1.6m17.4 0h1.6m9.4 0h1.6m-108.1 0.5h1.6m139.4 0h1.6m-117.6 0.5h1.6m91.4 0h1.6m14.4 0.5h1.6m-92.1 0.5h1.6m-0.1 0h1.6m18.9 0h1.6m-112.6 1.5h1.6m101.9 1h1.6m3.9 0h1.6m8.4 0h1.6m-74.1 1.5h1.6m2.9 0h1.6m23.4 0h1.6m-46.6 0.5h1.6m20.9 0h1.6m-39.1 0.5h1.6m30.4 1h1.6m-46.6 0.5h1.6m82.9 1.5h1.6m-68.6 0.5h1.6m88.4 1.5h1.6m-111.6 0.5h1.6m43.9 0h1.6m31.4 0h1.6m-23.6 0.5h1.6m-107.1 1h1.6m20.9 0h1.6m86.4 0h1.6m46.9 0h1.6m-119.1 0.5h1.6m20.4 0h1.6m52.4 1h1.6m-146.6 1h1.6m171.9 0.5h1.6m-171.6 0.5h1.6m5.9 0.5h1.6m-10.6 0.5h1.6m111.9 0h1.6m53.9 0h1.6m-104.6 0.5h1.6m85.9 0h1.6m-13.6 1.5h1.6m-145.1 0.5h1.6m36.9 0h1.6m59.4 0h1.6m7.4 0h1.6m41.4 0.5h1.6m-27.1 1h1.6m48.9 0h1.6m-93.6 1h1.6m-67.6 0.5h1.6m129.4 0h1.6m-37.1 0.5h1.6m26.9 0h1.6m23.9 0h1.6m16.9 1h1.6m-135.6 0.5h1.6m107.9 0h1.6m25.4 0h1.6m-151.1 0.5h1.6m144.4 0h1.6m-181.6 0.5h1.6m120.9 0.5h1.6m-74.1 0.5h1.6m2.9 0h1.6m57.4 0h1.6m64.4 1h1.6m-136.1 0.5h1.6m88.4 0h1.6m2.4 0h1.6m11.4 0h1.6m17.4 0h1.6m11.4 0.5h1.6m-51.6 0.5h1.6m16.9 0h1.6m0.4 0h1.6m-46.1 1h1.6m28.9 0h1.6m-124.1 0.5h1.6m141.4 0h1.6m28.9 0h1.6m-55.1 0.5h1.6m-81.6 0.5h1.6m-64.6 0.5h1.6m116.4 0.5h1.6m-10.1 1h1.6m-66.1 0.5h1.6m92.4 0h1.6m-108.1 0.5h1.6m127.9 0.5h1.6m15.4 0h1.6m-147.1 0.5h1.6m8.9 0h1.6m38.4 0h1.6m24.9 0h1.6m8.4 0h1.6m41.9 1h1.6m-141.1 0.5h1.6m47.9 0h1.6m21.4 0.5h1.6m-56.6 0.5h1.6m74.4 0h1.6m4.4 0h1.6m-21.6 0.5h1.6m-46.1 0.5h1.6m42.4 0.5h1.6m20.9 0h1.6m-84.1 1h1.6m46.4 0h1.6m36.9 0h1.6m-99.1 0.5h1.6m8.4 0h1.6m36.9 0.5h1.6m12.4 0h1.6m15.9 0.5h1.6m-104.1 0.5h1.6m9.4 0.5h1.6m53.4 0h1.6m38.4 0h1.6m-106.6 1.5h1.6m-2.6 1h1.6m28.4 0h1.6m-2.1 0.5h1.6m66.9 0h1.6m14.9 0h1.6m-40.6 0.5h1.6m39.9 0h1.6m1.9 0h1.6m-28.6 0.5h1.6m1.4 0h1.6m-80.6 0.5h1.6m9.9 0h1.6m0.9 0h1.6m78.9 0h1.6m-150.6 0.5h1.6m-26.1 0.5h1.6m33.4 0h1.6m2.4 0h1.6m0.4 0h1.6m23.9 0h1.6m36.4 1h1.6m-103.1 0.5h1.6m45.9 0h1.6m5.9 0.5h1.6m-5.1 0.5h1.6m43.9 0h1.6m-118.6 1h1.6m33.4 0h1.6m23.9 0h1.6m34.9 0h1.6m6.9 0h1.6m-14.1 0.5h1.6m-16.6 1.5h1.6m21.4 0h1.6m12.4 0h1.6m-104.6 0.5h1.6m113.4 0h1.6m-89.1 0.5h1.6m42.9 0h1.6m-26.1 0.5h1.6m62.9 0h1.6m-118.1 0.5h1.6m57.9 0h1.6m16.4 0h1.6m-48.1 0.5h1.6m81.4 0h1.6m-100.6 0.5h1.6m87.4 0h1.6m-82.1 0.5h1.6m60.4 0.5h1.6m-89.6 0.5h1.6m-2.1 2h1.6m27.9 1.5h1.6m-11.6 1h1.6m34.9 1h1.6m-51.1 0.5h1.6m-74.1 0.5h1.6m38.9 0h1.6m58.4 0.5h1.6m-82.6 0.5h1.6m55.4 0.5h1.6m34.4 0h1.6m-73.6 0.5h1.6m28.4 0h1.6m-51.1 1h1.6m68.4 0.5h1.6m5.4 0h1.6m-79.6 1h1.6m4.9 1h1.6m80.9 0h1.6m-45.6 0.5h1.6m-5.6 0.5h1.6m29.4 0h1.6m-93.6 0.5h1.6m40.4 0h1.6m27.9 0h1.6m29.4 0h1.6m-107.6 0.5h1.6m31.4 0h1.6m49.9 1h1.6m-16.1 0.5h1.6m41.4 0h1.6m-39.1 0.5h1.6m30.9 1h1.6m-98.1 0.5h1.6m105.9 1h1.6m-103.6 0.5h1.6m5.9 0h1.6m8.9 0h1.6m-27.1 1.5h1.6m2.9 0h1.6m29.4 0h1.6m0.4 2h1.6m5.9 0.5h1.6m-48.6 1.5h1.6m3.4 0h1.6m1.9 0.5h1.6m19.4 1h1.6m0.9 0h1.6m-41.1 0.5h1.6m51.9 1h1.6m-17.6 0.5h1.6m-0.1 0h1.6m-77.6 5h1.6m-26.1 0.5h1.6m17.4 0.5h1.6m25.4 0h1.6m-28.1 0.5h1.6m10.4 0h1.6m-26.1 0.5h1.6m11.9 1h1.6m-0.6 0h1.6m32.4 0h1.6m-51.6 0.5h1.6m8.4 0.5h1.6m37.4 0.5h1.6m-58.1 1h1.6m48.9 0.5h1.6m-50.1 0.5h1.6m2.9 0h1.6m48.4 0.5h1.6m-49.1 0.5h1.6m36.9 0.5h1.6m-5.6 0.5h1.6m8.4 0h1.6m-37.6 0.5h1.6m36.4 0h1.6"/>
<rect x="1241" y="449.23" width="61.5" height="9.14" fill="url(#g33)" filter="url(#fG)"/>
<rect x="1241" y="416.06" width="61.5" height="16.73" fill="url(#g34)" filter="url(#fC)"/>
<rect x="1304.5" y="433.93" width="62.8" height="16.75" fill="url(#g35)" filter="url(#fG)"/>
<rect x="1304.5" y="366.75" width="62.8" height="26" fill="url(#g36)" filter="url(#fC)"/>
<rect x="1369.3" y="421.08" width="66" height="26.23" fill="url(#g37)" filter="url(#fG)"/>
<rect x="1369.3" y="325.47" width="66" height="41.55" fill="url(#g38)" filter="url(#fC)"/>
<rect x="1437.3" y="398.78" width="67.1" height="38.05" fill="url(#g39)" filter="url(#fG)"/>
<rect x="1437.3" y="268.49" width="67.1" height="52.81" fill="url(#g40)" filter="url(#fC)"/>
<rect x="1506.4" y="379.59" width="67.4" height="49.49" fill="url(#g41)" filter="url(#fG)"/>
<rect x="1506.4" y="228.92" width="67.4" height="60.85" fill="url(#g42)" filter="url(#fC)"/>
<rect x="1575.8" y="363.79" width="63.9" height="57.97" fill="url(#g43)" filter="url(#fG)"/>
<rect x="1575.8" y="208.54" width="63.9" height="64.79" fill="url(#g44)" filter="url(#fC)"/>
<rect x="1641.7" y="318.19" width="65" height="89.28" fill="url(#g45)" filter="url(#fG)"/>
<rect x="1641.7" y="148.29" width="65" height="82.21" fill="url(#g46)" filter="url(#fC)"/>
<rect x="1708.7" y="315.49" width="59.3" height="89.29" fill="url(#g47)" filter="url(#fG)"/>
<rect x="1708.7" y="144.72" width="59.3" height="88.31" fill="url(#g48)" filter="url(#fC)"/>
<line x1="1241" y1="440" x2="1302.5" y2="440" stroke="#d08a70" stroke-width="1.2"/>
<line x1="1304.5" y1="413.8" x2="1367.3" y2="413.8" stroke="#d08a70" stroke-width="1.2"/>
<line x1="1369.3" y1="394" x2="1435.3" y2="394" stroke="#d08a70" stroke-width="1.2"/>
<line x1="1437.3" y1="361" x2="1504.4" y2="361" stroke="#d08a70" stroke-width="1.2"/>
<line x1="1506.4" y1="342.3" x2="1573.8" y2="342.3" stroke="#d08a70" stroke-width="1.2"/>
<line x1="1575.8" y1="327" x2="1639.7" y2="327" stroke="#d08a70" stroke-width="1.2"/>
<line x1="1641.7" y1="291.4" x2="1706.7" y2="291.4" stroke="#d08a70" stroke-width="1.2"/>
<line x1="1708.7" y1="286.2" x2="1768" y2="286.2" stroke="#d08a70" stroke-width="1.2"/>
<line x1="1236.3" y1="52.6" x2="1236.3" y2="465.6" stroke="#999" stroke-width="1.3"/>
<line x1="1232.3" y1="465.6" x2="1236.3" y2="465.6" stroke="#8c8c8c" stroke-width="1"/>
<line x1="1233.8" y1="453.8" x2="1236.3" y2="453.8" stroke="#8c8c8c" stroke-width="1"/>
<line x1="1233.8" y1="442" x2="1236.3" y2="442" stroke="#8c8c8c" stroke-width="1"/>
<line x1="1233.8" y1="430.2" x2="1236.3" y2="430.2" stroke="#8c8c8c" stroke-width="1"/>
<line x1="1233.8" y1="418.4" x2="1236.3" y2="418.4" stroke="#8c8c8c" stroke-width="1"/>
<line x1="1232.3" y1="406.6" x2="1236.3" y2="406.6" stroke="#8c8c8c" stroke-width="1"/>
<line x1="1233.8" y1="394.8" x2="1236.3" y2="394.8" stroke="#8c8c8c" stroke-width="1"/>
<line x1="1233.8" y1="383" x2="1236.3" y2="383" stroke="#8c8c8c" stroke-width="1"/>
<line x1="1233.8" y1="371.2" x2="1236.3" y2="371.2" stroke="#8c8c8c" stroke-width="1"/>
<line x1="1233.8" y1="359.4" x2="1236.3" y2="359.4" stroke="#8c8c8c" stroke-width="1"/>
<line x1="1232.3" y1="347.6" x2="1236.3" y2="347.6" stroke="#8c8c8c" stroke-width="1"/>
<line x1="1233.8" y1="335.8" x2="1236.3" y2="335.8" stroke="#8c8c8c" stroke-width="1"/>
<line x1="1233.8" y1="324" x2="1236.3" y2="324" stroke="#8c8c8c" stroke-width="1"/>
<line x1="1233.8" y1="312.2" x2="1236.3" y2="312.2" stroke="#8c8c8c" stroke-width="1"/>
<line x1="1233.8" y1="300.4" x2="1236.3" y2="300.4" stroke="#8c8c8c" stroke-width="1"/>
<line x1="1232.3" y1="288.6" x2="1236.3" y2="288.6" stroke="#8c8c8c" stroke-width="1"/>
<line x1="1233.8" y1="276.8" x2="1236.3" y2="276.8" stroke="#8c8c8c" stroke-width="1"/>
<line x1="1233.8" y1="265" x2="1236.3" y2="265" stroke="#8c8c8c" stroke-width="1"/>
<line x1="1233.8" y1="253.2" x2="1236.3" y2="253.2" stroke="#8c8c8c" stroke-width="1"/>
<line x1="1233.8" y1="241.4" x2="1236.3" y2="241.4" stroke="#8c8c8c" stroke-width="1"/>
<line x1="1232.3" y1="229.6" x2="1236.3" y2="229.6" stroke="#8c8c8c" stroke-width="1"/>
<line x1="1233.8" y1="217.8" x2="1236.3" y2="217.8" stroke="#8c8c8c" stroke-width="1"/>
<line x1="1233.8" y1="206" x2="1236.3" y2="206" stroke="#8c8c8c" stroke-width="1"/>
<line x1="1233.8" y1="194.2" x2="1236.3" y2="194.2" stroke="#8c8c8c" stroke-width="1"/>
<line x1="1233.8" y1="182.4" x2="1236.3" y2="182.4" stroke="#8c8c8c" stroke-width="1"/>
<line x1="1232.3" y1="170.6" x2="1236.3" y2="170.6" stroke="#8c8c8c" stroke-width="1"/>
<line x1="1233.8" y1="158.8" x2="1236.3" y2="158.8" stroke="#8c8c8c" stroke-width="1"/>
<line x1="1233.8" y1="147" x2="1236.3" y2="147" stroke="#8c8c8c" stroke-width="1"/>
<line x1="1233.8" y1="135.2" x2="1236.3" y2="135.2" stroke="#8c8c8c" stroke-width="1"/>
<line x1="1233.8" y1="123.4" x2="1236.3" y2="123.4" stroke="#8c8c8c" stroke-width="1"/>
<line x1="1232.3" y1="111.6" x2="1236.3" y2="111.6" stroke="#8c8c8c" stroke-width="1"/>
<line x1="1233.8" y1="99.8" x2="1236.3" y2="99.8" stroke="#8c8c8c" stroke-width="1"/>
<line x1="1233.8" y1="88" x2="1236.3" y2="88" stroke="#8c8c8c" stroke-width="1"/>
<line x1="1233.8" y1="76.2" x2="1236.3" y2="76.2" stroke="#8c8c8c" stroke-width="1"/>
<line x1="1233.8" y1="64.4" x2="1236.3" y2="64.4" stroke="#8c8c8c" stroke-width="1"/>
<line x1="1232.3" y1="52.6" x2="1236.3" y2="52.6" stroke="#8c8c8c" stroke-width="1"/>
<line x1="1239.6" y1="468.7" x2="1770" y2="468.7" stroke="#a0a0a0" stroke-width="1.5"/>
<line x1="1271.75" y1="468.7" x2="1271.75" y2="472.7" stroke="#8c8c8c" stroke-width="1"/>
<text x="1271.75" y="486.7" text-anchor="middle" class="xl">50</text>
<line x1="1335.9" y1="468.7" x2="1335.9" y2="472.7" stroke="#8c8c8c" stroke-width="1"/>
<text x="1335.9" y="486.7" text-anchor="middle" class="xl">100</text>
<line x1="1402.3" y1="468.7" x2="1402.3" y2="472.7" stroke="#8c8c8c" stroke-width="1"/>
<text x="1402.3" y="486.7" text-anchor="middle" class="xl">200</text>
<line x1="1470.85" y1="468.7" x2="1470.85" y2="472.7" stroke="#8c8c8c" stroke-width="1"/>
<text x="1470.85" y="486.7" text-anchor="middle" class="xl">300</text>
<line x1="1540.1" y1="468.7" x2="1540.1" y2="472.7" stroke="#8c8c8c" stroke-width="1"/>
<text x="1540.1" y="486.7" text-anchor="middle" class="xl">400</text>
<line x1="1607.75" y1="468.7" x2="1607.75" y2="472.7" stroke="#8c8c8c" stroke-width="1"/>
<text x="1607.75" y="486.7" text-anchor="middle" class="xl">500</text>
<line x1="1674.2" y1="468.7" x2="1674.2" y2="472.7" stroke="#8c8c8c" stroke-width="1"/>
<text x="1674.2" y="486.7" text-anchor="middle" class="xl">600</text>
<line x1="1738.35" y1="468.7" x2="1738.35" y2="472.7" stroke="#8c8c8c" stroke-width="1"/>
<text x="1738.35" y="486.7" text-anchor="middle" class="xl">700</text>
<text x="1232" y="58" text-anchor="end" class="yl">35,000</text>
<text x="1232" y="117" text-anchor="end" class="yl">30,000</text>
<text x="1232" y="176" text-anchor="end" class="yl">25,000</text>
<text x="1232" y="235" text-anchor="end" class="yl">20,000</text>
<text x="1232" y="294" text-anchor="end" class="yl">15,000</text>
<text x="1232" y="353" text-anchor="end" class="yl">10,000</text>
<text x="1232.2" y="410.6" text-anchor="end" class="yl">5,000</text>
<text x="1231.7" y="469.8" text-anchor="end" class="yl">0</text>
<text x="1344" y="508.6" class="xt" textLength="332" lengthAdjust="spacingAndGlyphs">Probe concentrations of ΔRD1 (nM)</text>
<text transform="translate(1201 304.8) rotate(-90)" class="yt" style="font-size:19.5px" textLength="116" lengthAdjust="spacingAndGlyphs">Amplitude CY5</text>
<text x="1177.5" y="28.7" class="letter">C</text>
</svg>
</body></html>
